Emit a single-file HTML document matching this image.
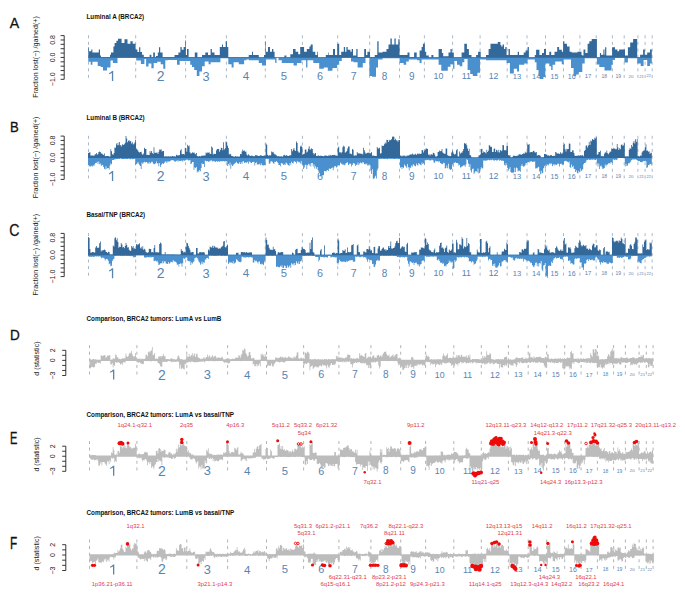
<!DOCTYPE html><html><head><meta charset="utf-8"><style>html,body{margin:0;padding:0;background:#fff;width:685px;height:597px;overflow:hidden}svg{display:block}text{font-family:"Liberation Sans",sans-serif}</style></head><body>
<svg width="685" height="597" viewBox="0 0 685 597">
<text transform="translate(9.8,27.8) scale(0.917,1)" x="0" y="0" font-size="15.43" fill="#111" stroke="#111" stroke-width="0.3">A</text>
<text x="86.5" y="19.0" font-size="6.3" font-weight="bold" fill="#111">Luminal A (BRCA2)</text>
<line x1="64.2" y1="35.6" x2="64.2" y2="79.3" stroke="#222" stroke-width="0.9"/>
<line x1="60.6" y1="35.60" x2="64.2" y2="35.60" stroke="#222" stroke-width="0.9"/>
<line x1="60.6" y1="39.97" x2="64.2" y2="39.97" stroke="#222" stroke-width="0.9"/>
<line x1="60.6" y1="44.34" x2="64.2" y2="44.34" stroke="#222" stroke-width="0.9"/>
<line x1="60.6" y1="48.71" x2="64.2" y2="48.71" stroke="#222" stroke-width="0.9"/>
<line x1="60.6" y1="53.08" x2="64.2" y2="53.08" stroke="#222" stroke-width="0.9"/>
<line x1="60.6" y1="57.45" x2="64.2" y2="57.45" stroke="#222" stroke-width="0.9"/>
<line x1="60.6" y1="61.82" x2="64.2" y2="61.82" stroke="#222" stroke-width="0.9"/>
<line x1="60.6" y1="66.19" x2="64.2" y2="66.19" stroke="#222" stroke-width="0.9"/>
<line x1="60.6" y1="70.56" x2="64.2" y2="70.56" stroke="#222" stroke-width="0.9"/>
<line x1="60.6" y1="74.93" x2="64.2" y2="74.93" stroke="#222" stroke-width="0.9"/>
<line x1="60.6" y1="79.30" x2="64.2" y2="79.30" stroke="#222" stroke-width="0.9"/>
<text transform="translate(55.2,39.97) rotate(-90)" text-anchor="middle" font-size="7" fill="#222">0.8</text>
<text transform="translate(55.2,57.45) rotate(-90)" text-anchor="middle" font-size="7" fill="#222">0.0</text>
<text transform="translate(55.2,79.30) rotate(-90)" text-anchor="middle" font-size="7" fill="#222">−1.0</text>
<text transform="translate(37.8,57.05) rotate(-90)" text-anchor="middle" font-size="7.1" fill="#222">Fraction lost(−) /gained(+)</text>
<line x1="88.5" y1="35.300000000000004" x2="88.5" y2="79.3" stroke="#9fb1c4" stroke-width="0.9" stroke-dasharray="3,3.6"/>
<line x1="135.7" y1="35.300000000000004" x2="135.7" y2="79.3" stroke="#9fb1c4" stroke-width="0.9" stroke-dasharray="3,3.6"/>
<line x1="185.6" y1="35.300000000000004" x2="185.6" y2="79.3" stroke="#9fb1c4" stroke-width="0.9" stroke-dasharray="3,3.6"/>
<line x1="226.4" y1="35.300000000000004" x2="226.4" y2="79.3" stroke="#9fb1c4" stroke-width="0.9" stroke-dasharray="3,3.6"/>
<line x1="265.3" y1="35.300000000000004" x2="265.3" y2="79.3" stroke="#9fb1c4" stroke-width="0.9" stroke-dasharray="3,3.6"/>
<line x1="302.4" y1="35.300000000000004" x2="302.4" y2="79.3" stroke="#9fb1c4" stroke-width="0.9" stroke-dasharray="3,3.6"/>
<line x1="337.7" y1="35.300000000000004" x2="337.7" y2="79.3" stroke="#9fb1c4" stroke-width="0.9" stroke-dasharray="3,3.6"/>
<line x1="369.7" y1="35.300000000000004" x2="369.7" y2="79.3" stroke="#9fb1c4" stroke-width="0.9" stroke-dasharray="3,3.6"/>
<line x1="399.5" y1="35.300000000000004" x2="399.5" y2="79.3" stroke="#9fb1c4" stroke-width="0.9" stroke-dasharray="3,3.6"/>
<line x1="424.4" y1="35.300000000000004" x2="424.4" y2="79.3" stroke="#9fb1c4" stroke-width="0.9" stroke-dasharray="3,3.6"/>
<line x1="452.6" y1="35.300000000000004" x2="452.6" y2="79.3" stroke="#9fb1c4" stroke-width="0.9" stroke-dasharray="3,3.6"/>
<line x1="480.1" y1="35.300000000000004" x2="480.1" y2="79.3" stroke="#9fb1c4" stroke-width="0.9" stroke-dasharray="3,3.6"/>
<line x1="507.2" y1="35.300000000000004" x2="507.2" y2="79.3" stroke="#9fb1c4" stroke-width="0.9" stroke-dasharray="3,3.6"/>
<line x1="527.0" y1="35.300000000000004" x2="527.0" y2="79.3" stroke="#9fb1c4" stroke-width="0.9" stroke-dasharray="3,3.6"/>
<line x1="545.5" y1="35.300000000000004" x2="545.5" y2="79.3" stroke="#9fb1c4" stroke-width="0.9" stroke-dasharray="3,3.6"/>
<line x1="563.5" y1="35.300000000000004" x2="563.5" y2="79.3" stroke="#9fb1c4" stroke-width="0.9" stroke-dasharray="3,3.6"/>
<line x1="579.9" y1="35.300000000000004" x2="579.9" y2="79.3" stroke="#9fb1c4" stroke-width="0.9" stroke-dasharray="3,3.6"/>
<line x1="596.2" y1="35.300000000000004" x2="596.2" y2="79.3" stroke="#9fb1c4" stroke-width="0.9" stroke-dasharray="3,3.6"/>
<line x1="612.4" y1="35.300000000000004" x2="612.4" y2="79.3" stroke="#9fb1c4" stroke-width="0.9" stroke-dasharray="3,3.6"/>
<line x1="624.2" y1="35.300000000000004" x2="624.2" y2="79.3" stroke="#9fb1c4" stroke-width="0.9" stroke-dasharray="3,3.6"/>
<line x1="637.9" y1="35.300000000000004" x2="637.9" y2="79.3" stroke="#9fb1c4" stroke-width="0.9" stroke-dasharray="3,3.6"/>
<line x1="645.1" y1="35.300000000000004" x2="645.1" y2="79.3" stroke="#9fb1c4" stroke-width="0.9" stroke-dasharray="3,3.6"/>
<line x1="652.2" y1="35.300000000000004" x2="652.2" y2="79.3" stroke="#9fb1c4" stroke-width="0.9" stroke-dasharray="3,3.6"/>
<path d="M111.90,71.00L113.20,71.00L113.20,81.00L111.90,81.00L111.90,73.00L109.20,74.30L108.90,73.30Q110.95,72.20 112.05,71.00Z" fill="#5884b1"/>
<text x="160.6" y="81.01" text-anchor="middle" font-size="14" fill="#5884b1">2</text>
<text x="206.0" y="80.58" text-anchor="middle" font-size="12.8" fill="#5884b1">3</text>
<text x="245.9" y="80.12" text-anchor="middle" font-size="11.5" fill="#5884b1">4</text>
<text x="283.9" y="80.05" text-anchor="middle" font-size="11.3" fill="#5884b1">5</text>
<text x="320.0" y="79.87" text-anchor="middle" font-size="10.8" fill="#5884b1">6</text>
<text x="353.7" y="79.76" text-anchor="middle" font-size="10.5" fill="#5884b1">7</text>
<text x="384.6" y="79.58" text-anchor="middle" font-size="10" fill="#5884b1">8</text>
<text x="411.9" y="79.58" text-anchor="middle" font-size="10" fill="#5884b1">9</text>
<text x="438.5" y="79.15" text-anchor="middle" font-size="8.8" fill="#5884b1">10</text>
<text x="466.4" y="79.15" text-anchor="middle" font-size="8.8" fill="#5884b1">11</text>
<text x="493.6" y="79.15" text-anchor="middle" font-size="8.8" fill="#5884b1">12</text>
<text x="517.1" y="78.72" text-anchor="middle" font-size="7.6" fill="#5884b1">13</text>
<text x="536.2" y="78.65" text-anchor="middle" font-size="7.4" fill="#5884b1">14</text>
<text x="554.5" y="78.51" text-anchor="middle" font-size="7" fill="#5884b1">15</text>
<text x="571.7" y="78.51" text-anchor="middle" font-size="7" fill="#5884b1">16</text>
<text x="588.0" y="78.15" text-anchor="middle" font-size="6" fill="#5884b1">17</text>
<text x="604.3" y="77.79" text-anchor="middle" font-size="5" fill="#5884b1">18</text>
<text x="618.3" y="77.79" text-anchor="middle" font-size="5" fill="#5884b1">19</text>
<text x="631.0" y="77.58" text-anchor="middle" font-size="4.4" fill="#5884b1">20</text>
<text x="641.5" y="77.50" text-anchor="middle" font-size="4.2" fill="#5884b1">21</text>
<text x="648.7" y="77.43" text-anchor="middle" font-size="4" fill="#5884b1">22</text>
<text transform="translate(9.92,131.8) scale(0.848,1)" x="0" y="0" font-size="15.43" fill="#111" stroke="#111" stroke-width="0.3">B</text>
<text x="86.5" y="119.6" font-size="6.3" font-weight="bold" fill="#111">Luminal B (BRCA2)</text>
<line x1="64.2" y1="136.1" x2="64.2" y2="179.4" stroke="#222" stroke-width="0.9"/>
<line x1="60.6" y1="136.10" x2="64.2" y2="136.10" stroke="#222" stroke-width="0.9"/>
<line x1="60.6" y1="140.43" x2="64.2" y2="140.43" stroke="#222" stroke-width="0.9"/>
<line x1="60.6" y1="144.76" x2="64.2" y2="144.76" stroke="#222" stroke-width="0.9"/>
<line x1="60.6" y1="149.09" x2="64.2" y2="149.09" stroke="#222" stroke-width="0.9"/>
<line x1="60.6" y1="153.42" x2="64.2" y2="153.42" stroke="#222" stroke-width="0.9"/>
<line x1="60.6" y1="157.75" x2="64.2" y2="157.75" stroke="#222" stroke-width="0.9"/>
<line x1="60.6" y1="162.08" x2="64.2" y2="162.08" stroke="#222" stroke-width="0.9"/>
<line x1="60.6" y1="166.41" x2="64.2" y2="166.41" stroke="#222" stroke-width="0.9"/>
<line x1="60.6" y1="170.74" x2="64.2" y2="170.74" stroke="#222" stroke-width="0.9"/>
<line x1="60.6" y1="175.07" x2="64.2" y2="175.07" stroke="#222" stroke-width="0.9"/>
<line x1="60.6" y1="179.40" x2="64.2" y2="179.40" stroke="#222" stroke-width="0.9"/>
<text transform="translate(55.2,140.43) rotate(-90)" text-anchor="middle" font-size="7" fill="#222">0.8</text>
<text transform="translate(55.2,157.75) rotate(-90)" text-anchor="middle" font-size="7" fill="#222">0.0</text>
<text transform="translate(55.2,179.40) rotate(-90)" text-anchor="middle" font-size="7" fill="#222">−1.0</text>
<text transform="translate(37.8,157.35) rotate(-90)" text-anchor="middle" font-size="7.1" fill="#222">Fraction lost(−) /gained(+)</text>
<line x1="88.5" y1="135.79999999999998" x2="88.5" y2="179.4" stroke="#9fb1c4" stroke-width="0.9" stroke-dasharray="3,3.6"/>
<line x1="135.7" y1="135.79999999999998" x2="135.7" y2="179.4" stroke="#9fb1c4" stroke-width="0.9" stroke-dasharray="3,3.6"/>
<line x1="185.6" y1="135.79999999999998" x2="185.6" y2="179.4" stroke="#9fb1c4" stroke-width="0.9" stroke-dasharray="3,3.6"/>
<line x1="226.4" y1="135.79999999999998" x2="226.4" y2="179.4" stroke="#9fb1c4" stroke-width="0.9" stroke-dasharray="3,3.6"/>
<line x1="265.3" y1="135.79999999999998" x2="265.3" y2="179.4" stroke="#9fb1c4" stroke-width="0.9" stroke-dasharray="3,3.6"/>
<line x1="302.4" y1="135.79999999999998" x2="302.4" y2="179.4" stroke="#9fb1c4" stroke-width="0.9" stroke-dasharray="3,3.6"/>
<line x1="337.7" y1="135.79999999999998" x2="337.7" y2="179.4" stroke="#9fb1c4" stroke-width="0.9" stroke-dasharray="3,3.6"/>
<line x1="369.7" y1="135.79999999999998" x2="369.7" y2="179.4" stroke="#9fb1c4" stroke-width="0.9" stroke-dasharray="3,3.6"/>
<line x1="399.5" y1="135.79999999999998" x2="399.5" y2="179.4" stroke="#9fb1c4" stroke-width="0.9" stroke-dasharray="3,3.6"/>
<line x1="424.4" y1="135.79999999999998" x2="424.4" y2="179.4" stroke="#9fb1c4" stroke-width="0.9" stroke-dasharray="3,3.6"/>
<line x1="452.6" y1="135.79999999999998" x2="452.6" y2="179.4" stroke="#9fb1c4" stroke-width="0.9" stroke-dasharray="3,3.6"/>
<line x1="480.1" y1="135.79999999999998" x2="480.1" y2="179.4" stroke="#9fb1c4" stroke-width="0.9" stroke-dasharray="3,3.6"/>
<line x1="507.2" y1="135.79999999999998" x2="507.2" y2="179.4" stroke="#9fb1c4" stroke-width="0.9" stroke-dasharray="3,3.6"/>
<line x1="527.0" y1="135.79999999999998" x2="527.0" y2="179.4" stroke="#9fb1c4" stroke-width="0.9" stroke-dasharray="3,3.6"/>
<line x1="545.5" y1="135.79999999999998" x2="545.5" y2="179.4" stroke="#9fb1c4" stroke-width="0.9" stroke-dasharray="3,3.6"/>
<line x1="563.5" y1="135.79999999999998" x2="563.5" y2="179.4" stroke="#9fb1c4" stroke-width="0.9" stroke-dasharray="3,3.6"/>
<line x1="579.9" y1="135.79999999999998" x2="579.9" y2="179.4" stroke="#9fb1c4" stroke-width="0.9" stroke-dasharray="3,3.6"/>
<line x1="596.2" y1="135.79999999999998" x2="596.2" y2="179.4" stroke="#9fb1c4" stroke-width="0.9" stroke-dasharray="3,3.6"/>
<line x1="612.4" y1="135.79999999999998" x2="612.4" y2="179.4" stroke="#9fb1c4" stroke-width="0.9" stroke-dasharray="3,3.6"/>
<line x1="624.2" y1="135.79999999999998" x2="624.2" y2="179.4" stroke="#9fb1c4" stroke-width="0.9" stroke-dasharray="3,3.6"/>
<line x1="637.9" y1="135.79999999999998" x2="637.9" y2="179.4" stroke="#9fb1c4" stroke-width="0.9" stroke-dasharray="3,3.6"/>
<line x1="645.1" y1="135.79999999999998" x2="645.1" y2="179.4" stroke="#9fb1c4" stroke-width="0.9" stroke-dasharray="3,3.6"/>
<line x1="652.2" y1="135.79999999999998" x2="652.2" y2="179.4" stroke="#9fb1c4" stroke-width="0.9" stroke-dasharray="3,3.6"/>
<path d="M111.90,171.10L113.20,171.10L113.20,181.10L111.90,181.10L111.90,173.10L109.20,174.40L108.90,173.40Q110.95,172.30 112.05,171.10Z" fill="#5884b1"/>
<text x="160.6" y="181.11" text-anchor="middle" font-size="14" fill="#5884b1">2</text>
<text x="206.0" y="180.68" text-anchor="middle" font-size="12.8" fill="#5884b1">3</text>
<text x="245.9" y="180.22" text-anchor="middle" font-size="11.5" fill="#5884b1">4</text>
<text x="283.9" y="180.15" text-anchor="middle" font-size="11.3" fill="#5884b1">5</text>
<text x="320.0" y="179.97" text-anchor="middle" font-size="10.8" fill="#5884b1">6</text>
<text x="353.7" y="179.86" text-anchor="middle" font-size="10.5" fill="#5884b1">7</text>
<text x="384.6" y="179.68" text-anchor="middle" font-size="10" fill="#5884b1">8</text>
<text x="411.9" y="179.68" text-anchor="middle" font-size="10" fill="#5884b1">9</text>
<text x="438.5" y="179.25" text-anchor="middle" font-size="8.8" fill="#5884b1">10</text>
<text x="466.4" y="179.25" text-anchor="middle" font-size="8.8" fill="#5884b1">11</text>
<text x="493.6" y="179.25" text-anchor="middle" font-size="8.8" fill="#5884b1">12</text>
<text x="517.1" y="178.82" text-anchor="middle" font-size="7.6" fill="#5884b1">13</text>
<text x="536.2" y="178.75" text-anchor="middle" font-size="7.4" fill="#5884b1">14</text>
<text x="554.5" y="178.61" text-anchor="middle" font-size="7" fill="#5884b1">15</text>
<text x="571.7" y="178.61" text-anchor="middle" font-size="7" fill="#5884b1">16</text>
<text x="588.0" y="178.25" text-anchor="middle" font-size="6" fill="#5884b1">17</text>
<text x="604.3" y="177.89" text-anchor="middle" font-size="5" fill="#5884b1">18</text>
<text x="618.3" y="177.89" text-anchor="middle" font-size="5" fill="#5884b1">19</text>
<text x="631.0" y="177.68" text-anchor="middle" font-size="4.4" fill="#5884b1">20</text>
<text x="641.5" y="177.60" text-anchor="middle" font-size="4.2" fill="#5884b1">21</text>
<text x="648.7" y="177.53" text-anchor="middle" font-size="4" fill="#5884b1">22</text>
<text transform="translate(9.3,236.2) scale(0.88,1)" x="0" y="0" font-size="16.0" fill="#111" stroke="#111" stroke-width="0.3">C</text>
<text x="86.5" y="216.9" font-size="6.3" font-weight="bold" fill="#111">Basal/TNP (BRCA2)</text>
<line x1="64.2" y1="233.4" x2="64.2" y2="276.6" stroke="#222" stroke-width="0.9"/>
<line x1="60.6" y1="233.40" x2="64.2" y2="233.40" stroke="#222" stroke-width="0.9"/>
<line x1="60.6" y1="237.72" x2="64.2" y2="237.72" stroke="#222" stroke-width="0.9"/>
<line x1="60.6" y1="242.04" x2="64.2" y2="242.04" stroke="#222" stroke-width="0.9"/>
<line x1="60.6" y1="246.36" x2="64.2" y2="246.36" stroke="#222" stroke-width="0.9"/>
<line x1="60.6" y1="250.68" x2="64.2" y2="250.68" stroke="#222" stroke-width="0.9"/>
<line x1="60.6" y1="255.00" x2="64.2" y2="255.00" stroke="#222" stroke-width="0.9"/>
<line x1="60.6" y1="259.32" x2="64.2" y2="259.32" stroke="#222" stroke-width="0.9"/>
<line x1="60.6" y1="263.64" x2="64.2" y2="263.64" stroke="#222" stroke-width="0.9"/>
<line x1="60.6" y1="267.96" x2="64.2" y2="267.96" stroke="#222" stroke-width="0.9"/>
<line x1="60.6" y1="272.28" x2="64.2" y2="272.28" stroke="#222" stroke-width="0.9"/>
<line x1="60.6" y1="276.60" x2="64.2" y2="276.60" stroke="#222" stroke-width="0.9"/>
<text transform="translate(55.2,237.72) rotate(-90)" text-anchor="middle" font-size="7" fill="#222">0.8</text>
<text transform="translate(55.2,255.00) rotate(-90)" text-anchor="middle" font-size="7" fill="#222">0.0</text>
<text transform="translate(55.2,276.60) rotate(-90)" text-anchor="middle" font-size="7" fill="#222">−1.0</text>
<text transform="translate(37.8,254.60) rotate(-90)" text-anchor="middle" font-size="7.1" fill="#222">Fraction lost(−) /gained(+)</text>
<line x1="88.5" y1="233.1" x2="88.5" y2="276.6" stroke="#9fb1c4" stroke-width="0.9" stroke-dasharray="3,3.6"/>
<line x1="135.7" y1="233.1" x2="135.7" y2="276.6" stroke="#9fb1c4" stroke-width="0.9" stroke-dasharray="3,3.6"/>
<line x1="185.6" y1="233.1" x2="185.6" y2="276.6" stroke="#9fb1c4" stroke-width="0.9" stroke-dasharray="3,3.6"/>
<line x1="226.4" y1="233.1" x2="226.4" y2="276.6" stroke="#9fb1c4" stroke-width="0.9" stroke-dasharray="3,3.6"/>
<line x1="265.3" y1="233.1" x2="265.3" y2="276.6" stroke="#9fb1c4" stroke-width="0.9" stroke-dasharray="3,3.6"/>
<line x1="302.4" y1="233.1" x2="302.4" y2="276.6" stroke="#9fb1c4" stroke-width="0.9" stroke-dasharray="3,3.6"/>
<line x1="337.7" y1="233.1" x2="337.7" y2="276.6" stroke="#9fb1c4" stroke-width="0.9" stroke-dasharray="3,3.6"/>
<line x1="369.7" y1="233.1" x2="369.7" y2="276.6" stroke="#9fb1c4" stroke-width="0.9" stroke-dasharray="3,3.6"/>
<line x1="399.5" y1="233.1" x2="399.5" y2="276.6" stroke="#9fb1c4" stroke-width="0.9" stroke-dasharray="3,3.6"/>
<line x1="424.4" y1="233.1" x2="424.4" y2="276.6" stroke="#9fb1c4" stroke-width="0.9" stroke-dasharray="3,3.6"/>
<line x1="452.6" y1="233.1" x2="452.6" y2="276.6" stroke="#9fb1c4" stroke-width="0.9" stroke-dasharray="3,3.6"/>
<line x1="480.1" y1="233.1" x2="480.1" y2="276.6" stroke="#9fb1c4" stroke-width="0.9" stroke-dasharray="3,3.6"/>
<line x1="507.2" y1="233.1" x2="507.2" y2="276.6" stroke="#9fb1c4" stroke-width="0.9" stroke-dasharray="3,3.6"/>
<line x1="527.0" y1="233.1" x2="527.0" y2="276.6" stroke="#9fb1c4" stroke-width="0.9" stroke-dasharray="3,3.6"/>
<line x1="545.5" y1="233.1" x2="545.5" y2="276.6" stroke="#9fb1c4" stroke-width="0.9" stroke-dasharray="3,3.6"/>
<line x1="563.5" y1="233.1" x2="563.5" y2="276.6" stroke="#9fb1c4" stroke-width="0.9" stroke-dasharray="3,3.6"/>
<line x1="579.9" y1="233.1" x2="579.9" y2="276.6" stroke="#9fb1c4" stroke-width="0.9" stroke-dasharray="3,3.6"/>
<line x1="596.2" y1="233.1" x2="596.2" y2="276.6" stroke="#9fb1c4" stroke-width="0.9" stroke-dasharray="3,3.6"/>
<line x1="612.4" y1="233.1" x2="612.4" y2="276.6" stroke="#9fb1c4" stroke-width="0.9" stroke-dasharray="3,3.6"/>
<line x1="624.2" y1="233.1" x2="624.2" y2="276.6" stroke="#9fb1c4" stroke-width="0.9" stroke-dasharray="3,3.6"/>
<line x1="637.9" y1="233.1" x2="637.9" y2="276.6" stroke="#9fb1c4" stroke-width="0.9" stroke-dasharray="3,3.6"/>
<line x1="645.1" y1="233.1" x2="645.1" y2="276.6" stroke="#9fb1c4" stroke-width="0.9" stroke-dasharray="3,3.6"/>
<line x1="652.2" y1="233.1" x2="652.2" y2="276.6" stroke="#9fb1c4" stroke-width="0.9" stroke-dasharray="3,3.6"/>
<path d="M111.90,268.30L113.20,268.30L113.20,278.30L111.90,278.30L111.90,270.30L109.20,271.60L108.90,270.60Q110.95,269.50 112.05,268.30Z" fill="#5884b1"/>
<text x="160.6" y="278.31" text-anchor="middle" font-size="14" fill="#5884b1">2</text>
<text x="206.0" y="277.88" text-anchor="middle" font-size="12.8" fill="#5884b1">3</text>
<text x="245.9" y="277.42" text-anchor="middle" font-size="11.5" fill="#5884b1">4</text>
<text x="283.9" y="277.35" text-anchor="middle" font-size="11.3" fill="#5884b1">5</text>
<text x="320.0" y="277.17" text-anchor="middle" font-size="10.8" fill="#5884b1">6</text>
<text x="353.7" y="277.06" text-anchor="middle" font-size="10.5" fill="#5884b1">7</text>
<text x="384.6" y="276.88" text-anchor="middle" font-size="10" fill="#5884b1">8</text>
<text x="411.9" y="276.88" text-anchor="middle" font-size="10" fill="#5884b1">9</text>
<text x="438.5" y="276.45" text-anchor="middle" font-size="8.8" fill="#5884b1">10</text>
<text x="466.4" y="276.45" text-anchor="middle" font-size="8.8" fill="#5884b1">11</text>
<text x="493.6" y="276.45" text-anchor="middle" font-size="8.8" fill="#5884b1">12</text>
<text x="517.1" y="276.02" text-anchor="middle" font-size="7.6" fill="#5884b1">13</text>
<text x="536.2" y="275.95" text-anchor="middle" font-size="7.4" fill="#5884b1">14</text>
<text x="554.5" y="275.81" text-anchor="middle" font-size="7" fill="#5884b1">15</text>
<text x="571.7" y="275.81" text-anchor="middle" font-size="7" fill="#5884b1">16</text>
<text x="588.0" y="275.45" text-anchor="middle" font-size="6" fill="#5884b1">17</text>
<text x="604.3" y="275.09" text-anchor="middle" font-size="5" fill="#5884b1">18</text>
<text x="618.3" y="275.09" text-anchor="middle" font-size="5" fill="#5884b1">19</text>
<text x="631.0" y="274.88" text-anchor="middle" font-size="4.4" fill="#5884b1">20</text>
<text x="641.5" y="274.80" text-anchor="middle" font-size="4.2" fill="#5884b1">21</text>
<text x="648.7" y="274.73" text-anchor="middle" font-size="4" fill="#5884b1">22</text>
<text transform="translate(9.89,339.8) scale(0.892,1)" x="0" y="0" font-size="15.14" fill="#111" stroke="#111" stroke-width="0.3">D</text>
<text x="86.5" y="320.5" font-size="6.3" font-weight="bold" fill="#111">Comparison, BRCA2 tumors: LumA vs LumB</text>
<line x1="65.8" y1="350.3" x2="65.8" y2="375.5" stroke="#222" stroke-width="0.9"/>
<line x1="62.199999999999996" y1="350.30" x2="65.8" y2="350.30" stroke="#222" stroke-width="0.9"/>
<line x1="62.199999999999996" y1="355.34" x2="65.8" y2="355.34" stroke="#222" stroke-width="0.9"/>
<line x1="62.199999999999996" y1="360.38" x2="65.8" y2="360.38" stroke="#222" stroke-width="0.9"/>
<line x1="62.199999999999996" y1="365.42" x2="65.8" y2="365.42" stroke="#222" stroke-width="0.9"/>
<line x1="62.199999999999996" y1="370.46" x2="65.8" y2="370.46" stroke="#222" stroke-width="0.9"/>
<line x1="62.199999999999996" y1="375.50" x2="65.8" y2="375.50" stroke="#222" stroke-width="0.9"/>
<text transform="translate(55.2,350.30) rotate(-90)" text-anchor="middle" font-size="7" fill="#222">2</text>
<text transform="translate(55.2,360.38) rotate(-90)" text-anchor="middle" font-size="7" fill="#222">0</text>
<text transform="translate(55.2,375.50) rotate(-90)" text-anchor="middle" font-size="7" fill="#222">−3</text>
<text transform="translate(38.6,358.60) rotate(-90)" text-anchor="middle" font-size="7.1" fill="#222">d (statistic)</text>
<line x1="89.5" y1="345.1" x2="89.5" y2="375.5" stroke="#aaaaaa" stroke-width="0.9" stroke-dasharray="3,3.6"/>
<line x1="136.89999999999998" y1="345.1" x2="136.89999999999998" y2="375.5" stroke="#aaaaaa" stroke-width="0.9" stroke-dasharray="3,3.6"/>
<line x1="186.79999999999998" y1="345.1" x2="186.79999999999998" y2="375.5" stroke="#aaaaaa" stroke-width="0.9" stroke-dasharray="3,3.6"/>
<line x1="227.6" y1="345.1" x2="227.6" y2="375.5" stroke="#aaaaaa" stroke-width="0.9" stroke-dasharray="3,3.6"/>
<line x1="266.5" y1="345.1" x2="266.5" y2="375.5" stroke="#aaaaaa" stroke-width="0.9" stroke-dasharray="3,3.6"/>
<line x1="303.59999999999997" y1="345.1" x2="303.59999999999997" y2="375.5" stroke="#aaaaaa" stroke-width="0.9" stroke-dasharray="3,3.6"/>
<line x1="338.9" y1="345.1" x2="338.9" y2="375.5" stroke="#aaaaaa" stroke-width="0.9" stroke-dasharray="3,3.6"/>
<line x1="370.9" y1="345.1" x2="370.9" y2="375.5" stroke="#aaaaaa" stroke-width="0.9" stroke-dasharray="3,3.6"/>
<line x1="400.7" y1="345.1" x2="400.7" y2="375.5" stroke="#aaaaaa" stroke-width="0.9" stroke-dasharray="3,3.6"/>
<line x1="425.59999999999997" y1="345.1" x2="425.59999999999997" y2="375.5" stroke="#aaaaaa" stroke-width="0.9" stroke-dasharray="3,3.6"/>
<line x1="453.8" y1="345.1" x2="453.8" y2="375.5" stroke="#aaaaaa" stroke-width="0.9" stroke-dasharray="3,3.6"/>
<line x1="481.3" y1="345.1" x2="481.3" y2="375.5" stroke="#aaaaaa" stroke-width="0.9" stroke-dasharray="3,3.6"/>
<line x1="508.4" y1="345.1" x2="508.4" y2="375.5" stroke="#aaaaaa" stroke-width="0.9" stroke-dasharray="3,3.6"/>
<line x1="528.2" y1="345.1" x2="528.2" y2="375.5" stroke="#aaaaaa" stroke-width="0.9" stroke-dasharray="3,3.6"/>
<line x1="546.7" y1="345.1" x2="546.7" y2="375.5" stroke="#aaaaaa" stroke-width="0.9" stroke-dasharray="3,3.6"/>
<line x1="564.7" y1="345.1" x2="564.7" y2="375.5" stroke="#aaaaaa" stroke-width="0.9" stroke-dasharray="3,3.6"/>
<line x1="581.1" y1="345.1" x2="581.1" y2="375.5" stroke="#aaaaaa" stroke-width="0.9" stroke-dasharray="3,3.6"/>
<line x1="597.4000000000001" y1="345.1" x2="597.4000000000001" y2="375.5" stroke="#aaaaaa" stroke-width="0.9" stroke-dasharray="3,3.6"/>
<line x1="613.6" y1="345.1" x2="613.6" y2="375.5" stroke="#aaaaaa" stroke-width="0.9" stroke-dasharray="3,3.6"/>
<line x1="625.4000000000001" y1="345.1" x2="625.4000000000001" y2="375.5" stroke="#aaaaaa" stroke-width="0.9" stroke-dasharray="3,3.6"/>
<line x1="639.1" y1="345.1" x2="639.1" y2="375.5" stroke="#aaaaaa" stroke-width="0.9" stroke-dasharray="3,3.6"/>
<line x1="646.3000000000001" y1="345.1" x2="646.3000000000001" y2="375.5" stroke="#aaaaaa" stroke-width="0.9" stroke-dasharray="3,3.6"/>
<line x1="653.1" y1="345.1" x2="653.1" y2="375.5" stroke="#aaaaaa" stroke-width="0.9" stroke-dasharray="3,3.6"/>
<path d="M113.00,369.50L114.30,369.50L114.30,379.50L113.00,379.50L113.00,371.50L110.30,372.80L110.00,371.80Q112.05,370.70 113.15,369.50Z" fill="#5884b1"/>
<text x="161.8" y="379.51" text-anchor="middle" font-size="14" fill="#5884b1">2</text>
<text x="207.2" y="379.08" text-anchor="middle" font-size="12.8" fill="#5884b1">3</text>
<text x="247.1" y="378.62" text-anchor="middle" font-size="11.5" fill="#5884b1">4</text>
<text x="285.0" y="378.55" text-anchor="middle" font-size="11.3" fill="#5884b1">5</text>
<text x="321.2" y="378.37" text-anchor="middle" font-size="10.8" fill="#5884b1">6</text>
<text x="354.9" y="378.26" text-anchor="middle" font-size="10.5" fill="#5884b1">7</text>
<text x="385.8" y="378.08" text-anchor="middle" font-size="10" fill="#5884b1">8</text>
<text x="413.1" y="378.08" text-anchor="middle" font-size="10" fill="#5884b1">9</text>
<text x="439.7" y="377.65" text-anchor="middle" font-size="8.8" fill="#5884b1">10</text>
<text x="467.6" y="377.65" text-anchor="middle" font-size="8.8" fill="#5884b1">11</text>
<text x="494.9" y="377.65" text-anchor="middle" font-size="8.8" fill="#5884b1">12</text>
<text x="518.3" y="377.22" text-anchor="middle" font-size="7.6" fill="#5884b1">13</text>
<text x="537.5" y="377.15" text-anchor="middle" font-size="7.4" fill="#5884b1">14</text>
<text x="555.7" y="377.01" text-anchor="middle" font-size="7" fill="#5884b1">15</text>
<text x="572.9" y="377.01" text-anchor="middle" font-size="7" fill="#5884b1">16</text>
<text x="589.2" y="376.65" text-anchor="middle" font-size="6" fill="#5884b1">17</text>
<text x="605.5" y="376.29" text-anchor="middle" font-size="5" fill="#5884b1">18</text>
<text x="619.5" y="376.29" text-anchor="middle" font-size="5" fill="#5884b1">19</text>
<text x="632.2" y="376.08" text-anchor="middle" font-size="4.4" fill="#5884b1">20</text>
<text x="642.7" y="376.00" text-anchor="middle" font-size="4.2" fill="#5884b1">21</text>
<text x="649.7" y="375.93" text-anchor="middle" font-size="4" fill="#5884b1">22</text>
<text transform="translate(10.07,444.2) scale(0.706,1)" x="0" y="0" font-size="15.71" fill="#111" stroke="#111" stroke-width="0.3">E</text>
<text x="86.5" y="416.5" font-size="6.3" font-weight="bold" fill="#111">Comparison, BRCA2 tumors: LumA vs basal/TNP</text>
<line x1="65.8" y1="446.2" x2="65.8" y2="471.3" stroke="#222" stroke-width="0.9"/>
<line x1="62.199999999999996" y1="446.20" x2="65.8" y2="446.20" stroke="#222" stroke-width="0.9"/>
<line x1="62.199999999999996" y1="451.22" x2="65.8" y2="451.22" stroke="#222" stroke-width="0.9"/>
<line x1="62.199999999999996" y1="456.24" x2="65.8" y2="456.24" stroke="#222" stroke-width="0.9"/>
<line x1="62.199999999999996" y1="461.26" x2="65.8" y2="461.26" stroke="#222" stroke-width="0.9"/>
<line x1="62.199999999999996" y1="466.28" x2="65.8" y2="466.28" stroke="#222" stroke-width="0.9"/>
<line x1="62.199999999999996" y1="471.30" x2="65.8" y2="471.30" stroke="#222" stroke-width="0.9"/>
<text transform="translate(55.2,446.20) rotate(-90)" text-anchor="middle" font-size="7" fill="#222">2</text>
<text transform="translate(55.2,456.24) rotate(-90)" text-anchor="middle" font-size="7" fill="#222">0</text>
<text transform="translate(55.2,471.30) rotate(-90)" text-anchor="middle" font-size="7" fill="#222">−3</text>
<text transform="translate(38.6,454.45) rotate(-90)" text-anchor="middle" font-size="7.1" fill="#222">d (statistic)</text>
<line x1="89.5" y1="441.0" x2="89.5" y2="471.3" stroke="#aaaaaa" stroke-width="0.9" stroke-dasharray="3,3.6"/>
<line x1="136.89999999999998" y1="441.0" x2="136.89999999999998" y2="471.3" stroke="#aaaaaa" stroke-width="0.9" stroke-dasharray="3,3.6"/>
<line x1="186.79999999999998" y1="441.0" x2="186.79999999999998" y2="471.3" stroke="#aaaaaa" stroke-width="0.9" stroke-dasharray="3,3.6"/>
<line x1="227.6" y1="441.0" x2="227.6" y2="471.3" stroke="#aaaaaa" stroke-width="0.9" stroke-dasharray="3,3.6"/>
<line x1="266.5" y1="441.0" x2="266.5" y2="471.3" stroke="#aaaaaa" stroke-width="0.9" stroke-dasharray="3,3.6"/>
<line x1="303.59999999999997" y1="441.0" x2="303.59999999999997" y2="471.3" stroke="#aaaaaa" stroke-width="0.9" stroke-dasharray="3,3.6"/>
<line x1="338.9" y1="441.0" x2="338.9" y2="471.3" stroke="#aaaaaa" stroke-width="0.9" stroke-dasharray="3,3.6"/>
<line x1="370.9" y1="441.0" x2="370.9" y2="471.3" stroke="#aaaaaa" stroke-width="0.9" stroke-dasharray="3,3.6"/>
<line x1="400.7" y1="441.0" x2="400.7" y2="471.3" stroke="#aaaaaa" stroke-width="0.9" stroke-dasharray="3,3.6"/>
<line x1="425.59999999999997" y1="441.0" x2="425.59999999999997" y2="471.3" stroke="#aaaaaa" stroke-width="0.9" stroke-dasharray="3,3.6"/>
<line x1="453.8" y1="441.0" x2="453.8" y2="471.3" stroke="#aaaaaa" stroke-width="0.9" stroke-dasharray="3,3.6"/>
<line x1="481.3" y1="441.0" x2="481.3" y2="471.3" stroke="#aaaaaa" stroke-width="0.9" stroke-dasharray="3,3.6"/>
<line x1="508.4" y1="441.0" x2="508.4" y2="471.3" stroke="#aaaaaa" stroke-width="0.9" stroke-dasharray="3,3.6"/>
<line x1="528.2" y1="441.0" x2="528.2" y2="471.3" stroke="#aaaaaa" stroke-width="0.9" stroke-dasharray="3,3.6"/>
<line x1="546.7" y1="441.0" x2="546.7" y2="471.3" stroke="#aaaaaa" stroke-width="0.9" stroke-dasharray="3,3.6"/>
<line x1="564.7" y1="441.0" x2="564.7" y2="471.3" stroke="#aaaaaa" stroke-width="0.9" stroke-dasharray="3,3.6"/>
<line x1="581.1" y1="441.0" x2="581.1" y2="471.3" stroke="#aaaaaa" stroke-width="0.9" stroke-dasharray="3,3.6"/>
<line x1="597.4000000000001" y1="441.0" x2="597.4000000000001" y2="471.3" stroke="#aaaaaa" stroke-width="0.9" stroke-dasharray="3,3.6"/>
<line x1="613.6" y1="441.0" x2="613.6" y2="471.3" stroke="#aaaaaa" stroke-width="0.9" stroke-dasharray="3,3.6"/>
<line x1="625.4000000000001" y1="441.0" x2="625.4000000000001" y2="471.3" stroke="#aaaaaa" stroke-width="0.9" stroke-dasharray="3,3.6"/>
<line x1="639.1" y1="441.0" x2="639.1" y2="471.3" stroke="#aaaaaa" stroke-width="0.9" stroke-dasharray="3,3.6"/>
<line x1="646.3000000000001" y1="441.0" x2="646.3000000000001" y2="471.3" stroke="#aaaaaa" stroke-width="0.9" stroke-dasharray="3,3.6"/>
<line x1="653.1" y1="441.0" x2="653.1" y2="471.3" stroke="#aaaaaa" stroke-width="0.9" stroke-dasharray="3,3.6"/>
<path d="M113.00,465.80L114.30,465.80L114.30,475.80L113.00,475.80L113.00,467.80L110.30,469.10L110.00,468.10Q112.05,467.00 113.15,465.80Z" fill="#5884b1"/>
<text x="161.8" y="475.81" text-anchor="middle" font-size="14" fill="#5884b1">2</text>
<text x="207.2" y="475.38" text-anchor="middle" font-size="12.8" fill="#5884b1">3</text>
<text x="247.1" y="474.92" text-anchor="middle" font-size="11.5" fill="#5884b1">4</text>
<text x="285.0" y="474.85" text-anchor="middle" font-size="11.3" fill="#5884b1">5</text>
<text x="321.2" y="474.67" text-anchor="middle" font-size="10.8" fill="#5884b1">6</text>
<text x="354.9" y="474.56" text-anchor="middle" font-size="10.5" fill="#5884b1">7</text>
<text x="385.8" y="474.38" text-anchor="middle" font-size="10" fill="#5884b1">8</text>
<text x="413.1" y="474.38" text-anchor="middle" font-size="10" fill="#5884b1">9</text>
<text x="439.7" y="473.95" text-anchor="middle" font-size="8.8" fill="#5884b1">10</text>
<text x="467.6" y="473.95" text-anchor="middle" font-size="8.8" fill="#5884b1">11</text>
<text x="494.9" y="473.95" text-anchor="middle" font-size="8.8" fill="#5884b1">12</text>
<text x="518.3" y="473.52" text-anchor="middle" font-size="7.6" fill="#5884b1">13</text>
<text x="537.5" y="473.45" text-anchor="middle" font-size="7.4" fill="#5884b1">14</text>
<text x="555.7" y="473.31" text-anchor="middle" font-size="7" fill="#5884b1">15</text>
<text x="572.9" y="473.31" text-anchor="middle" font-size="7" fill="#5884b1">16</text>
<text x="589.2" y="472.95" text-anchor="middle" font-size="6" fill="#5884b1">17</text>
<text x="605.5" y="472.59" text-anchor="middle" font-size="5" fill="#5884b1">18</text>
<text x="619.5" y="472.59" text-anchor="middle" font-size="5" fill="#5884b1">19</text>
<text x="632.2" y="472.38" text-anchor="middle" font-size="4.4" fill="#5884b1">20</text>
<text x="642.7" y="472.30" text-anchor="middle" font-size="4.2" fill="#5884b1">21</text>
<text x="649.7" y="472.23" text-anchor="middle" font-size="4" fill="#5884b1">22</text>
<text transform="translate(10.02,548.7) scale(0.758,1)" x="0" y="0" font-size="15.57" fill="#111" stroke="#111" stroke-width="0.3">F</text>
<text x="86.5" y="514.9" font-size="6.3" font-weight="bold" fill="#111">Comparison, BRCA2 tumors: LumB vs basal/TNP</text>
<line x1="65.8" y1="544.7" x2="65.8" y2="570.5" stroke="#222" stroke-width="0.9"/>
<line x1="62.199999999999996" y1="544.70" x2="65.8" y2="544.70" stroke="#222" stroke-width="0.9"/>
<line x1="62.199999999999996" y1="549.86" x2="65.8" y2="549.86" stroke="#222" stroke-width="0.9"/>
<line x1="62.199999999999996" y1="555.02" x2="65.8" y2="555.02" stroke="#222" stroke-width="0.9"/>
<line x1="62.199999999999996" y1="560.18" x2="65.8" y2="560.18" stroke="#222" stroke-width="0.9"/>
<line x1="62.199999999999996" y1="565.34" x2="65.8" y2="565.34" stroke="#222" stroke-width="0.9"/>
<line x1="62.199999999999996" y1="570.50" x2="65.8" y2="570.50" stroke="#222" stroke-width="0.9"/>
<text transform="translate(55.2,544.70) rotate(-90)" text-anchor="middle" font-size="7" fill="#222">2</text>
<text transform="translate(55.2,555.02) rotate(-90)" text-anchor="middle" font-size="7" fill="#222">0</text>
<text transform="translate(55.2,570.50) rotate(-90)" text-anchor="middle" font-size="7" fill="#222">−3</text>
<text transform="translate(38.6,553.30) rotate(-90)" text-anchor="middle" font-size="7.1" fill="#222">d (statistic)</text>
<line x1="89.5" y1="539.5" x2="89.5" y2="570.5" stroke="#aaaaaa" stroke-width="0.9" stroke-dasharray="3,3.6"/>
<line x1="136.89999999999998" y1="539.5" x2="136.89999999999998" y2="570.5" stroke="#aaaaaa" stroke-width="0.9" stroke-dasharray="3,3.6"/>
<line x1="186.79999999999998" y1="539.5" x2="186.79999999999998" y2="570.5" stroke="#aaaaaa" stroke-width="0.9" stroke-dasharray="3,3.6"/>
<line x1="227.6" y1="539.5" x2="227.6" y2="570.5" stroke="#aaaaaa" stroke-width="0.9" stroke-dasharray="3,3.6"/>
<line x1="266.5" y1="539.5" x2="266.5" y2="570.5" stroke="#aaaaaa" stroke-width="0.9" stroke-dasharray="3,3.6"/>
<line x1="303.59999999999997" y1="539.5" x2="303.59999999999997" y2="570.5" stroke="#aaaaaa" stroke-width="0.9" stroke-dasharray="3,3.6"/>
<line x1="338.9" y1="539.5" x2="338.9" y2="570.5" stroke="#aaaaaa" stroke-width="0.9" stroke-dasharray="3,3.6"/>
<line x1="370.9" y1="539.5" x2="370.9" y2="570.5" stroke="#aaaaaa" stroke-width="0.9" stroke-dasharray="3,3.6"/>
<line x1="400.7" y1="539.5" x2="400.7" y2="570.5" stroke="#aaaaaa" stroke-width="0.9" stroke-dasharray="3,3.6"/>
<line x1="425.59999999999997" y1="539.5" x2="425.59999999999997" y2="570.5" stroke="#aaaaaa" stroke-width="0.9" stroke-dasharray="3,3.6"/>
<line x1="453.8" y1="539.5" x2="453.8" y2="570.5" stroke="#aaaaaa" stroke-width="0.9" stroke-dasharray="3,3.6"/>
<line x1="481.3" y1="539.5" x2="481.3" y2="570.5" stroke="#aaaaaa" stroke-width="0.9" stroke-dasharray="3,3.6"/>
<line x1="508.4" y1="539.5" x2="508.4" y2="570.5" stroke="#aaaaaa" stroke-width="0.9" stroke-dasharray="3,3.6"/>
<line x1="528.2" y1="539.5" x2="528.2" y2="570.5" stroke="#aaaaaa" stroke-width="0.9" stroke-dasharray="3,3.6"/>
<line x1="546.7" y1="539.5" x2="546.7" y2="570.5" stroke="#aaaaaa" stroke-width="0.9" stroke-dasharray="3,3.6"/>
<line x1="564.7" y1="539.5" x2="564.7" y2="570.5" stroke="#aaaaaa" stroke-width="0.9" stroke-dasharray="3,3.6"/>
<line x1="581.1" y1="539.5" x2="581.1" y2="570.5" stroke="#aaaaaa" stroke-width="0.9" stroke-dasharray="3,3.6"/>
<line x1="597.4000000000001" y1="539.5" x2="597.4000000000001" y2="570.5" stroke="#aaaaaa" stroke-width="0.9" stroke-dasharray="3,3.6"/>
<line x1="613.6" y1="539.5" x2="613.6" y2="570.5" stroke="#aaaaaa" stroke-width="0.9" stroke-dasharray="3,3.6"/>
<line x1="625.4000000000001" y1="539.5" x2="625.4000000000001" y2="570.5" stroke="#aaaaaa" stroke-width="0.9" stroke-dasharray="3,3.6"/>
<line x1="639.1" y1="539.5" x2="639.1" y2="570.5" stroke="#aaaaaa" stroke-width="0.9" stroke-dasharray="3,3.6"/>
<line x1="646.3000000000001" y1="539.5" x2="646.3000000000001" y2="570.5" stroke="#aaaaaa" stroke-width="0.9" stroke-dasharray="3,3.6"/>
<line x1="653.1" y1="539.5" x2="653.1" y2="570.5" stroke="#aaaaaa" stroke-width="0.9" stroke-dasharray="3,3.6"/>
<path d="M113.00,564.40L114.30,564.40L114.30,574.40L113.00,574.40L113.00,566.40L110.30,567.70L110.00,566.70Q112.05,565.60 113.15,564.40Z" fill="#5884b1"/>
<text x="161.8" y="574.41" text-anchor="middle" font-size="14" fill="#5884b1">2</text>
<text x="207.2" y="573.98" text-anchor="middle" font-size="12.8" fill="#5884b1">3</text>
<text x="247.1" y="573.52" text-anchor="middle" font-size="11.5" fill="#5884b1">4</text>
<text x="285.0" y="573.45" text-anchor="middle" font-size="11.3" fill="#5884b1">5</text>
<text x="321.2" y="573.27" text-anchor="middle" font-size="10.8" fill="#5884b1">6</text>
<text x="354.9" y="573.16" text-anchor="middle" font-size="10.5" fill="#5884b1">7</text>
<text x="385.8" y="572.98" text-anchor="middle" font-size="10" fill="#5884b1">8</text>
<text x="413.1" y="572.98" text-anchor="middle" font-size="10" fill="#5884b1">9</text>
<text x="439.7" y="572.55" text-anchor="middle" font-size="8.8" fill="#5884b1">10</text>
<text x="467.6" y="572.55" text-anchor="middle" font-size="8.8" fill="#5884b1">11</text>
<text x="494.9" y="572.55" text-anchor="middle" font-size="8.8" fill="#5884b1">12</text>
<text x="518.3" y="572.12" text-anchor="middle" font-size="7.6" fill="#5884b1">13</text>
<text x="537.5" y="572.05" text-anchor="middle" font-size="7.4" fill="#5884b1">14</text>
<text x="555.7" y="571.91" text-anchor="middle" font-size="7" fill="#5884b1">15</text>
<text x="572.9" y="571.91" text-anchor="middle" font-size="7" fill="#5884b1">16</text>
<text x="589.2" y="571.55" text-anchor="middle" font-size="6" fill="#5884b1">17</text>
<text x="605.5" y="571.19" text-anchor="middle" font-size="5" fill="#5884b1">18</text>
<text x="619.5" y="571.19" text-anchor="middle" font-size="5" fill="#5884b1">19</text>
<text x="632.2" y="570.98" text-anchor="middle" font-size="4.4" fill="#5884b1">20</text>
<text x="642.7" y="570.90" text-anchor="middle" font-size="4.2" fill="#5884b1">21</text>
<text x="649.7" y="570.83" text-anchor="middle" font-size="4" fill="#5884b1">22</text>
<path d="M88.3,57.0L88.3,61.8L90.7,61.8L90.7,64.7L92.4,64.7L92.4,61.8L97.7,61.8L97.7,65.9L100.6,65.9L100.6,67.0L103.0,67.0L103.0,70.5L107.0,70.5L107.0,67.6L110.5,67.6L110.5,60.6L112.9,60.6L112.9,63.0L117.5,63.0L117.5,57.8L136.2,57.8L136.2,60.6L140.9,60.6L140.9,64.1L144.4,64.1L144.4,58.9L146.1,58.9L146.1,66.5L148.5,66.5L148.5,63.5L151.4,63.5L151.4,68.2L153.7,68.2L153.7,63.0L157.2,63.0L157.2,61.8L160.7,61.8L160.7,64.2L163.3,64.2L163.3,68.8L165.3,68.8L165.3,60.2L168.0,60.2L168.0,60.0L177.0,60.0L177.0,64.8L179.7,64.8L179.7,60.9L190.2,60.9L190.2,64.8L192.0,64.8L192.0,67.0L194.2,67.0L194.2,70.1L196.8,70.1L196.8,76.0L199.4,76.0L199.4,71.4L202.0,71.4L202.0,66.2L204.7,66.2L204.7,61.6L208.6,61.6L208.6,64.2L210.6,64.2L210.6,62.2L220.4,62.2L220.4,58.3L228.3,58.3L228.3,64.2L231.6,64.2L231.6,67.5L233.6,67.5L233.6,62.2L238.8,62.2L238.8,64.2L244.1,64.2L244.1,60.2L246.3,60.2L246.3,59.6L249.0,59.6L249.0,57.8L249.0,57.8L249.0,60.2L258.8,60.2L258.8,62.9L262.0,62.9L262.0,65.5L266.0,65.5L266.0,59.6L275.2,59.6L275.2,62.9L276.5,62.9L276.5,57.8L278.5,57.8L278.5,60.2L281.8,60.2L281.8,62.9L293.6,62.9L293.6,65.5L296.9,65.5L296.9,62.9L301.5,62.9L301.5,60.2L306.1,60.2L306.1,67.5L307.4,67.5L307.4,60.2L313.3,60.2L313.3,62.9L319.2,62.9L319.2,68.8L323.8,68.8L323.8,67.5L327.8,67.5L327.8,70.8L332.4,70.8L332.4,68.8L332.6,68.8L332.6,68.1L337.2,68.1L337.2,64.8L339.2,64.8L339.2,60.9L341.8,60.9L341.8,57.8L351.0,57.8L351.0,61.6L353.6,61.6L353.6,62.2L357.6,62.2L357.6,67.5L362.8,67.5L362.8,62.9L365.5,62.9L365.5,57.8L369.4,57.8L369.4,76.0L372.0,76.0L372.0,76.7L376.0,76.7L376.0,67.5L378.0,67.5L378.0,59.6L382.6,59.6L382.6,58.3L399.6,58.3L399.6,62.9L403.6,62.9L403.6,64.8L406.2,64.8L406.2,61.6L408.8,61.6L408.8,59.6L417.0,59.6L417.0,60.2L419.6,60.2L419.6,62.9L421.6,62.9L421.6,59.6L438.6,59.6L438.6,64.8L441.3,64.8L441.3,70.8L447.8,70.8L447.8,66.8L450.5,66.8L450.5,64.2L453.1,64.2L453.1,68.8L454.4,68.8L454.4,60.9L457.0,60.9L457.0,64.8L459.7,64.8L459.7,66.2L462.3,66.2L462.3,62.2L464.3,62.2L464.3,58.9L467.6,58.9L467.6,70.1L470.2,70.1L470.2,74.0L472.8,74.0L472.8,76.0L477.4,76.0L477.4,72.7L480.0,72.7L480.0,59.6L486.0,59.6L486.0,60.2L500.0,60.2L500.0,60.2L506.6,60.2L506.6,62.9L509.9,62.9L509.9,73.4L513.8,73.4L513.8,68.8L517.1,68.8L517.1,71.4L519.0,71.4L519.0,64.8L524.3,64.8L524.3,63.5L527.6,63.5L527.6,59.6L534.8,59.6L534.8,62.2L536.5,62.2L536.5,70.0L538.5,70.0L538.5,76.0L540.0,76.0L540.0,79.0L543.4,79.0L543.4,77.0L545.3,77.0L545.3,63.5L549.3,63.5L549.3,66.2L551.2,66.2L551.2,70.1L552.6,70.1L552.6,64.8L555.2,64.8L555.2,61.6L561.8,61.6L561.8,64.2L563.7,64.2L563.7,59.6L571.0,59.6L571.0,68.0L573.6,68.0L573.6,76.0L576.2,76.0L576.2,74.5L578.8,74.5L578.8,72.0L582.3,72.0L582.3,63.5L584.7,63.5L584.7,58.3L596.9,58.3L596.9,64.5L599.3,64.5L599.3,67.0L604.5,67.0L604.5,70.5L611.5,70.5L611.5,64.7L612.7,64.7L612.7,60.0L615.0,60.0L615.0,57.8L624.4,57.8L624.4,62.4L627.9,62.4L627.9,58.3L637.2,58.3L637.2,63.5L640.7,63.5L640.7,65.9L643.6,65.9L643.6,60.0L647.2,60.0L647.2,65.9L650.0,65.9L650.0,63.5L651.8,63.5L651.8,57.0Z" fill="#4a8fce"/>
<path d="M88.3,57.8L88.3,47.2L89.0,47.2L89.0,51.3L91.3,51.3L91.3,49.5L92.4,49.5L92.4,52.4L98.8,52.4L98.8,49.5L100.0,49.5L100.0,55.4L101.0,55.4L101.0,57.1L110.0,57.1L110.0,54.8L111.0,54.8L111.0,52.4L113.4,52.4L113.4,46.6L114.6,46.6L114.6,43.1L116.4,43.1L116.4,40.8L118.0,40.8L118.0,38.8L121.6,38.8L121.6,43.1L124.5,43.1L124.5,39.2L127.5,39.2L127.5,43.7L130.4,43.7L130.4,41.3L132.7,41.3L132.7,43.7L135.6,43.7L135.6,49.5L137.4,49.5L137.4,51.9L139.1,51.9L139.1,47.2L140.3,47.2L140.3,51.9L142.0,51.9L142.0,54.8L143.8,54.8L143.8,57.1L149.6,57.1L149.6,54.8L151.4,54.8L151.4,57.1L153.2,57.1L153.2,52.4L154.9,52.4L154.9,57.1L156.0,57.1L156.0,56.0L157.8,56.0L157.8,52.4L159.0,52.4L159.0,47.2L160.2,47.2L160.2,52.4L162.6,52.4L162.6,57.1L174.5,57.1L174.5,55.0L178.4,55.0L178.4,52.4L180.4,52.4L180.4,47.1L181.7,47.1L181.7,49.7L183.6,49.7L183.6,47.1L185.2,47.1L185.2,40.5L185.9,40.5L185.9,55.0L187.0,55.0L187.0,49.1L188.6,49.1L188.6,57.2L194.8,57.2L194.8,52.4L197.4,52.4L197.4,57.2L202.0,57.2L202.0,55.0L205.3,55.0L205.3,52.4L208.0,52.4L208.0,55.0L210.6,55.0L210.6,49.1L211.9,49.1L211.9,52.4L214.5,52.4L214.5,55.0L219.8,55.0L219.8,47.1L222.0,47.1L222.0,44.5L223.0,44.5L223.0,47.1L225.7,47.1L225.7,41.2L227.0,41.2L227.0,47.1L228.3,47.1L228.3,57.2L248.7,57.2L248.7,55.0L250.9,55.0L250.9,55.0L252.0,55.0L252.0,51.7L253.0,51.7L253.0,55.0L258.8,55.0L258.8,57.4L264.0,57.4L264.0,55.0L265.4,55.0L265.4,41.2L266.0,41.2L266.0,51.7L268.0,51.7L268.0,47.1L270.0,47.1L270.0,51.7L272.0,51.7L272.0,49.1L273.3,49.1L273.3,51.7L274.6,51.7L274.6,57.4L284.4,57.4L284.4,55.6L286.4,55.6L286.4,57.4L290.3,57.4L290.3,54.3L293.0,54.3L293.0,49.1L295.6,49.1L295.6,51.7L298.2,51.7L298.2,54.3L300.2,54.3L300.2,47.1L304.1,47.1L304.1,51.7L306.8,51.7L306.8,49.1L309.4,49.1L309.4,46.5L310.7,46.5L310.7,44.5L312.7,44.5L312.7,51.7L315.3,51.7L315.3,55.0L317.3,55.0L317.3,51.7L318.0,51.7L318.0,57.4L325.8,57.4L325.8,55.0L328.4,55.0L328.4,52.4L329.0,52.4L329.0,55.0L333.0,55.0L333.0,49.1L335.0,49.1L335.0,55.0L337.2,55.0L337.2,43.8L339.2,43.8L339.2,55.0L341.2,55.0L341.2,51.7L343.8,51.7L343.8,47.1L345.1,47.1L345.1,51.7L346.4,51.7L346.4,47.1L347.7,47.1L347.7,49.7L350.4,49.7L350.4,51.7L351.7,51.7L351.7,49.1L353.0,49.1L353.0,55.6L356.3,55.6L356.3,49.1L357.6,49.1L357.6,57.0L364.2,57.0L364.2,49.1L366.0,49.1L366.0,55.0L367.4,55.0L367.4,51.7L370.0,51.7L370.0,57.0L374.7,57.0L374.7,55.0L377.3,55.0L377.3,41.2L378.6,41.2L378.6,52.4L382.6,52.4L382.6,51.7L386.5,51.7L386.5,49.1L388.5,49.1L388.5,44.5L390.4,44.5L390.4,38.6L391.8,38.6L391.8,44.5L394.4,44.5L394.4,38.6L395.7,38.6L395.7,44.5L398.3,44.5L398.3,39.2L399.6,39.2L399.6,55.0L407.5,55.0L407.5,52.4L409.5,52.4L409.5,57.0L414.1,57.0L414.1,52.4L416.7,52.4L416.7,57.6L417.0,57.6L417.0,57.6L419.6,57.6L419.6,50.4L421.6,50.4L421.6,47.1L422.9,47.1L422.9,43.8L424.9,43.8L424.9,51.7L426.2,51.7L426.2,55.6L428.8,55.6L428.8,57.6L431.4,57.6L431.4,55.0L433.4,55.0L433.4,57.6L438.6,57.6L438.6,49.1L441.9,49.1L441.9,53.0L443.2,53.0L443.2,56.3L448.5,56.3L448.5,52.4L450.5,52.4L450.5,49.1L451.8,49.1L451.8,52.4L453.8,52.4L453.8,57.6L461.6,57.6L461.6,52.4L464.3,52.4L464.3,43.8L466.9,43.8L466.9,49.1L468.9,49.1L468.9,55.0L471.5,55.0L471.5,57.6L476.1,57.6L476.1,55.0L478.1,55.0L478.1,51.7L480.7,51.7L480.7,57.6L486.0,57.6L486.0,55.0L488.6,55.0L488.6,49.1L490.5,49.1L490.5,43.8L497.8,43.8L497.8,41.9L500.4,41.9L500.4,45.1L501.3,45.1L501.3,46.5L502.6,46.5L502.6,44.5L504.0,44.5L504.0,49.1L505.3,49.1L505.3,47.1L506.6,47.1L506.6,55.0L508.5,55.0L508.5,49.1L509.9,49.1L509.9,55.0L517.7,55.0L517.7,51.7L519.0,51.7L519.0,55.0L523.7,55.0L523.7,52.4L525.6,52.4L525.6,50.4L527.6,50.4L527.6,47.1L528.9,47.1L528.9,57.6L534.8,57.6L534.8,55.0L536.1,55.0L536.1,49.7L539.4,49.7L539.4,55.0L542.0,55.0L542.0,53.0L544.0,53.0L544.0,49.1L546.0,49.1L546.0,55.0L549.3,55.0L549.3,51.7L551.2,51.7L551.2,55.0L554.5,55.0L554.5,51.7L557.2,51.7L557.2,47.1L559.1,47.1L559.1,49.7L561.8,49.7L561.8,51.7L563.1,51.7L563.1,41.2L564.4,41.2L564.4,43.8L567.0,43.8L567.0,46.5L569.6,46.5L569.6,51.7L571.6,51.7L571.6,52.4L577.5,52.4L577.5,51.7L581.5,51.7L581.5,55.0L582.3,55.0L582.3,55.4L583.5,55.4L583.5,49.5L585.3,49.5L585.3,53.0L587.6,53.0L587.6,43.7L589.3,43.7L589.3,41.3L591.7,41.3L591.7,39.0L596.9,39.0L596.9,57.5L599.9,57.5L599.9,53.0L601.0,53.0L601.0,54.8L603.4,54.8L603.4,49.5L604.5,49.5L604.5,54.8L605.1,54.8L605.1,47.2L606.3,47.2L606.3,55.4L612.1,55.4L612.1,47.2L615.0,47.2L615.0,49.5L617.4,49.5L617.4,51.3L619.1,51.3L619.1,49.5L625.0,49.5L625.0,55.4L627.9,55.4L627.9,47.2L630.2,47.2L630.2,42.5L633.1,42.5L633.1,39.0L637.2,39.0L637.2,57.5L640.1,57.5L640.1,54.8L643.1,54.8L643.1,49.5L644.8,49.5L644.8,54.8L647.2,54.8L647.2,52.4L650.0,52.4L650.0,49.5L651.8,49.5L651.8,57.8Z" fill="#33689a"/>
<path d="M88.0,157.2L88.0,164.7L88.8,164.7L88.8,166.6L89.6,166.6L89.6,165.7L90.4,165.7L90.4,166.7L91.2,166.7L91.2,165.7L92.0,165.7L92.0,166.5L92.8,166.5L92.8,165.2L93.6,165.2L93.6,166.0L94.4,166.0L94.4,164.3L95.2,164.3L95.2,163.0L96.0,163.0L96.0,162.9L96.8,162.9L96.8,161.8L97.6,161.8L97.6,163.9L98.4,163.9L98.4,161.6L99.2,161.6L99.2,164.3L100.0,164.3L100.0,163.5L100.8,163.5L100.8,165.9L101.6,165.9L101.6,164.8L102.4,164.8L102.4,165.0L103.2,165.0L103.2,167.1L104.0,167.1L104.0,168.8L104.8,168.8L104.8,169.5L105.6,169.5L105.6,166.3L106.4,166.3L106.4,169.0L107.2,169.0L107.2,168.1L108.0,168.1L108.0,168.0L108.8,168.0L108.8,169.5L109.6,169.5L109.6,165.4L110.4,165.4L110.4,163.6L111.2,163.6L111.2,164.3L112.0,164.3L112.0,160.0L112.8,160.0L112.8,159.9L113.6,159.9L113.6,159.8L114.4,159.8L114.4,159.2L115.2,159.2L115.2,159.2L116.0,159.2L116.0,159.1L116.8,159.1L116.8,159.1L117.6,159.1L117.6,158.9L118.4,158.9L118.4,158.8L119.2,158.8L119.2,158.9L120.0,158.9L120.0,158.6L120.8,158.6L120.8,158.7L121.6,158.7L121.6,158.9L122.4,158.9L122.4,158.9L123.2,158.9L123.2,159.0L124.0,159.0L124.0,159.0L124.8,159.0L124.8,158.7L125.6,158.7L125.6,159.1L126.4,159.1L126.4,158.9L127.2,158.9L127.2,158.9L128.0,158.9L128.0,158.8L128.8,158.8L128.8,158.8L129.6,158.8L129.6,159.2L130.4,159.2L130.4,159.2L131.2,159.2L131.2,158.7L132.0,158.7L132.0,159.2L132.8,159.2L132.8,159.1L133.6,159.1L133.6,159.1L134.4,159.1L134.4,158.8L135.2,158.8L135.2,165.0L136.0,165.0L136.0,163.9L136.8,163.9L136.8,163.5L137.6,163.5L137.6,162.0L138.4,162.0L138.4,163.7L139.2,163.7L139.2,165.3L140.0,165.3L140.0,165.9L140.8,165.9L140.8,168.9L141.6,168.9L141.6,162.5L142.4,162.5L142.4,164.0L143.2,164.0L143.2,162.6L144.0,162.6L144.0,161.8L144.8,161.8L144.8,162.7L145.6,162.7L145.6,162.0L146.4,162.0L146.4,161.9L147.2,161.9L147.2,163.5L148.0,163.5L148.0,163.6L148.8,163.6L148.8,162.0L149.6,162.0L149.6,163.7L150.4,163.7L150.4,163.1L151.2,163.1L151.2,161.7L152.0,161.7L152.0,161.7L152.8,161.7L152.8,163.6L153.6,163.6L153.6,164.3L154.4,164.3L154.4,164.0L155.2,164.0L155.2,163.3L156.0,163.3L156.0,161.6L156.8,161.6L156.8,163.8L157.6,163.8L157.6,163.0L158.4,163.0L158.4,166.2L159.2,166.2L159.2,163.1L160.0,163.1L160.0,167.0L160.8,167.0L160.8,164.9L161.6,164.9L161.6,163.7L162.4,163.7L162.4,163.2L163.2,163.2L163.2,163.9L164.0,163.9L164.0,162.8L164.8,162.8L164.8,161.7L165.6,161.7L165.6,161.2L166.4,161.2L166.4,163.0L167.2,163.0L167.2,161.4L168.0,161.4L168.0,161.4L168.8,161.4L168.8,161.5L169.6,161.5L169.6,161.3L170.4,161.3L170.4,160.5L171.2,160.5L171.2,160.2L172.0,160.2L172.0,160.1L172.8,160.1L172.8,160.3L173.6,160.3L173.6,160.8L174.4,160.8L174.4,161.7L175.2,161.7L175.2,161.6L176.0,161.6L176.0,161.1L176.8,161.1L176.8,160.3L177.6,160.3L177.6,161.8L178.4,161.8L178.4,160.5L179.2,160.5L179.2,161.0L180.0,161.0L180.0,161.1L180.8,161.1L180.8,160.8L181.6,160.8L181.6,160.5L182.4,160.5L182.4,161.7L183.2,161.7L183.2,160.2L184.0,160.2L184.0,160.7L184.8,160.7L184.8,160.5L185.6,160.5L185.6,159.9L186.4,159.9L186.4,159.6L187.2,159.6L187.2,159.7L188.0,159.7L188.0,160.6L188.8,160.6L188.8,160.3L189.6,160.3L189.6,160.1L190.4,160.1L190.4,164.1L191.2,164.1L191.2,163.5L192.0,163.5L192.0,162.1L192.8,162.1L192.8,162.1L193.6,162.1L193.6,169.7L194.4,169.7L194.4,167.2L195.2,167.2L195.2,168.0L196.0,168.0L196.0,167.0L196.8,167.0L196.8,172.6L197.6,172.6L197.6,170.9L198.4,170.9L198.4,172.0L199.2,172.0L199.2,169.9L200.0,169.9L200.0,171.3L200.8,171.3L200.8,168.1L201.6,168.1L201.6,163.3L202.4,163.3L202.4,164.1L203.2,164.1L203.2,164.0L204.0,164.0L204.0,166.9L204.8,166.9L204.8,160.4L205.6,160.4L205.6,161.1L206.4,161.1L206.4,161.6L207.2,161.6L207.2,161.0L208.0,161.0L208.0,161.7L208.8,161.7L208.8,161.3L209.6,161.3L209.6,161.4L210.4,161.4L210.4,160.3L211.2,160.3L211.2,160.6L212.0,160.6L212.0,161.6L212.8,161.6L212.8,160.7L213.6,160.7L213.6,161.4L214.4,161.4L214.4,161.2L215.2,161.2L215.2,161.9L216.0,161.9L216.0,161.0L216.8,161.0L216.8,161.8L217.6,161.8L217.6,161.6L218.4,161.6L218.4,161.3L219.2,161.3L219.2,161.8L220.0,161.8L220.0,161.3L220.8,161.3L220.8,160.9L221.6,160.9L221.6,161.6L222.4,161.6L222.4,161.3L223.2,161.3L223.2,161.1L224.0,161.1L224.0,161.4L224.8,161.4L224.8,161.0L225.6,161.0L225.6,161.7L226.4,161.7L226.4,161.0L227.2,161.0L227.2,165.9L228.0,165.9L228.0,164.1L228.8,164.1L228.8,165.6L229.6,165.6L229.6,162.5L230.4,162.5L230.4,168.7L231.2,168.7L231.2,164.5L232.0,164.5L232.0,165.9L232.8,165.9L232.8,165.2L233.6,165.2L233.6,164.0L234.4,164.0L234.4,163.6L235.2,163.6L235.2,162.8L236.0,162.8L236.0,161.7L236.8,161.7L236.8,162.9L237.6,162.9L237.6,163.8L238.4,163.8L238.4,163.8L239.2,163.8L239.2,162.2L240.0,162.2L240.0,164.1L240.8,164.1L240.8,162.0L241.6,162.0L241.6,163.9L242.4,163.9L242.4,161.5L243.2,161.5L243.2,161.3L244.0,161.3L244.0,162.9L244.8,162.9L244.8,162.1L245.6,162.1L245.6,162.9L246.4,162.9L246.4,162.6L247.2,162.6L247.2,161.7L248.0,161.7L248.0,163.8L248.8,163.8L248.8,161.2L249.6,161.2L249.6,162.0L250.4,162.0L250.4,162.8L251.2,162.8L251.2,162.9L252.0,162.9L252.0,162.1L252.8,162.1L252.8,162.0L253.6,162.0L253.6,161.7L254.4,161.7L254.4,165.6L255.2,165.6L255.2,162.9L256.0,162.9L256.0,162.3L256.8,162.3L256.8,164.6L257.6,164.6L257.6,164.2L258.4,164.2L258.4,164.6L259.2,164.6L259.2,163.8L260.0,163.8L260.0,165.3L260.8,165.3L260.8,163.3L261.6,163.3L261.6,165.0L262.4,165.0L262.4,165.2L263.2,165.2L263.2,165.4L264.0,165.4L264.0,165.0L264.8,165.0L264.8,165.5L265.6,165.5L265.6,159.0L266.4,159.0L266.4,158.8L267.2,158.8L267.2,159.2L268.0,159.2L268.0,159.1L268.8,159.1L268.8,163.7L269.6,163.7L269.6,163.5L270.4,163.5L270.4,161.6L271.2,161.6L271.2,161.2L272.0,161.2L272.0,161.8L272.8,161.8L272.8,163.3L273.6,163.3L273.6,163.8L274.4,163.8L274.4,161.8L275.2,161.8L275.2,162.1L276.0,162.1L276.0,161.1L276.8,161.1L276.8,162.1L277.6,162.1L277.6,163.1L278.4,163.1L278.4,165.1L279.2,165.1L279.2,165.0L280.0,165.0L280.0,166.2L280.8,166.2L280.8,163.0L281.6,163.0L281.6,163.6L282.4,163.6L282.4,163.4L283.2,163.4L283.2,165.1L284.0,165.1L284.0,164.3L284.8,164.3L284.8,165.0L285.6,165.0L285.6,162.5L286.4,162.5L286.4,163.3L287.2,163.3L287.2,164.6L288.0,164.6L288.0,165.3L288.8,165.3L288.8,165.7L289.6,165.7L289.6,163.1L290.4,163.1L290.4,164.7L291.2,164.7L291.2,161.8L292.0,161.8L292.0,162.9L292.8,162.9L292.8,163.6L293.6,163.6L293.6,161.6L294.4,161.6L294.4,161.2L295.2,161.2L295.2,162.0L296.0,162.0L296.0,163.6L296.8,163.6L296.8,161.2L297.6,161.2L297.6,161.4L298.4,161.4L298.4,162.2L299.2,162.2L299.2,162.2L300.0,162.2L300.0,163.5L300.8,163.5L300.8,161.1L301.6,161.1L301.6,163.7L302.4,163.7L302.4,165.4L303.2,165.4L303.2,168.9L304.0,168.9L304.0,167.4L304.8,167.4L304.8,164.7L305.6,164.7L305.6,164.8L306.4,164.8L306.4,169.0L307.2,169.0L307.2,165.2L308.0,165.2L308.0,163.7L308.8,163.7L308.8,165.6L309.6,165.6L309.6,163.7L310.4,163.7L310.4,166.4L311.2,166.4L311.2,163.0L312.0,163.0L312.0,162.9L312.8,162.9L312.8,166.4L313.6,166.4L313.6,164.3L314.4,164.3L314.4,168.6L315.2,168.6L315.2,166.2L316.0,166.2L316.0,168.7L316.8,168.7L316.8,167.1L317.6,167.1L317.6,169.9L318.4,169.9L318.4,171.8L319.2,171.8L319.2,172.3L320.0,172.3L320.0,176.2L320.8,176.2L320.8,176.0L321.6,176.0L321.6,176.1L322.4,176.1L322.4,175.0L323.2,175.0L323.2,175.3L324.0,175.3L324.0,170.9L324.8,170.9L324.8,171.1L325.6,171.1L325.6,171.7L326.4,171.7L326.4,170.6L327.2,170.6L327.2,170.1L328.0,170.1L328.0,171.0L328.8,171.0L328.8,168.5L329.6,168.5L329.6,168.7L330.4,168.7L330.4,169.0L331.2,169.0L331.2,167.9L332.0,167.9L332.0,167.4L332.8,167.4L332.8,170.2L333.6,170.2L333.6,167.5L334.4,167.5L334.4,165.9L335.2,165.9L335.2,166.2L336.0,166.2L336.0,167.5L336.8,167.5L336.8,166.7L337.6,166.7L337.6,165.3L338.4,165.3L338.4,165.2L339.2,165.2L339.2,165.4L340.0,165.4L340.0,162.5L340.8,162.5L340.8,164.1L341.6,164.1L341.6,163.6L342.4,163.6L342.4,165.1L343.2,165.1L343.2,164.5L344.0,164.5L344.0,165.2L344.8,165.2L344.8,164.4L345.6,164.4L345.6,162.9L346.4,162.9L346.4,162.8L347.2,162.8L347.2,162.3L348.0,162.3L348.0,165.0L348.8,165.0L348.8,164.2L349.6,164.2L349.6,163.3L350.4,163.3L350.4,164.1L351.2,164.1L351.2,166.4L352.0,166.4L352.0,165.0L352.8,165.0L352.8,163.2L353.6,163.2L353.6,162.9L354.4,162.9L354.4,164.1L355.2,164.1L355.2,165.9L356.0,165.9L356.0,164.8L356.8,164.8L356.8,164.8L357.6,164.8L357.6,162.5L358.4,162.5L358.4,165.2L359.2,165.2L359.2,163.6L360.0,163.6L360.0,162.5L360.8,162.5L360.8,163.1L361.6,163.1L361.6,163.4L362.4,163.4L362.4,162.1L363.2,162.1L363.2,162.6L364.0,162.6L364.0,164.2L364.8,164.2L364.8,163.7L365.6,163.7L365.6,164.4L366.4,164.4L366.4,163.6L367.2,163.6L367.2,165.6L368.0,165.6L368.0,165.6L368.8,165.6L368.8,164.1L369.6,164.1L369.6,165.2L370.4,165.2L370.4,170.4L371.2,170.4L371.2,174.0L372.0,174.0L372.0,169.3L372.8,169.3L372.8,178.8L373.6,178.8L373.6,178.7L374.4,178.7L374.4,177.5L375.2,177.5L375.2,175.7L376.0,175.7L376.0,178.6L376.8,178.6L376.8,170.5L377.6,170.5L377.6,168.5L378.4,168.5L378.4,158.9L379.2,158.9L379.2,158.9L380.0,158.9L380.0,158.7L380.8,158.7L380.8,159.1L381.6,159.1L381.6,158.7L382.4,158.7L382.4,158.7L383.2,158.7L383.2,159.1L384.0,159.1L384.0,159.0L384.8,159.0L384.8,159.0L385.6,159.0L385.6,158.7L386.4,158.7L386.4,158.9L387.2,158.9L387.2,159.2L388.0,159.2L388.0,158.8L388.8,158.8L388.8,158.7L389.6,158.7L389.6,158.8L390.4,158.8L390.4,159.1L391.2,159.1L391.2,158.8L392.0,158.8L392.0,158.8L392.8,158.8L392.8,158.9L393.6,158.9L393.6,158.9L394.4,158.9L394.4,158.9L395.2,158.9L395.2,158.7L396.0,158.7L396.0,158.9L396.8,158.9L396.8,158.6L397.6,158.6L397.6,159.2L398.4,159.2L398.4,159.0L399.2,159.0L399.2,158.9L400.0,158.9L400.0,167.8L400.8,167.8L400.8,166.9L401.6,166.9L401.6,169.1L402.4,169.1L402.4,167.1L403.2,167.1L403.2,167.9L404.0,167.9L404.0,164.5L404.8,164.5L404.8,165.8L405.6,165.8L405.6,166.6L406.4,166.6L406.4,167.9L407.2,167.9L407.2,164.1L408.0,164.1L408.0,167.2L408.8,167.2L408.8,170.6L409.6,170.6L409.6,167.2L410.4,167.2L410.4,168.1L411.2,168.1L411.2,165.4L412.0,165.4L412.0,166.4L412.8,166.4L412.8,164.3L413.6,164.3L413.6,164.7L414.4,164.7L414.4,166.1L415.2,166.1L415.2,166.2L416.0,166.2L416.0,163.4L416.8,163.4L416.8,165.1L417.6,165.1L417.6,165.4L418.4,165.4L418.4,163.0L419.2,163.0L419.2,164.1L420.0,164.1L420.0,164.7L420.8,164.7L420.8,165.2L421.6,165.2L421.6,162.4L422.4,162.4L422.4,164.1L423.2,164.1L423.2,163.2L424.0,163.2L424.0,164.5L424.8,164.5L424.8,160.0L425.6,160.0L425.6,160.5L426.4,160.5L426.4,159.7L427.2,159.7L427.2,160.1L428.0,160.1L428.0,159.8L428.8,159.8L428.8,160.5L429.6,160.5L429.6,160.0L430.4,160.0L430.4,160.7L431.2,160.7L431.2,159.8L432.0,159.8L432.0,159.8L432.8,159.8L432.8,160.6L433.6,160.6L433.6,162.4L434.4,162.4L434.4,162.7L435.2,162.7L435.2,160.7L436.0,160.7L436.0,161.3L436.8,161.3L436.8,161.6L437.6,161.6L437.6,161.1L438.4,161.1L438.4,162.3L439.2,162.3L439.2,161.3L440.0,161.3L440.0,162.9L440.8,162.9L440.8,163.6L441.6,163.6L441.6,164.3L442.4,164.3L442.4,164.1L443.2,164.1L443.2,162.7L444.0,162.7L444.0,163.1L444.8,163.1L444.8,168.4L445.6,168.4L445.6,167.9L446.4,167.9L446.4,165.5L447.2,165.5L447.2,168.2L448.0,168.2L448.0,163.8L448.8,163.8L448.8,168.6L449.6,168.6L449.6,169.5L450.4,169.5L450.4,170.0L451.2,170.0L451.2,169.1L452.0,169.1L452.0,163.9L452.8,163.9L452.8,166.8L453.6,166.8L453.6,162.7L454.4,162.7L454.4,162.8L455.2,162.8L455.2,162.3L456.0,162.3L456.0,163.1L456.8,163.1L456.8,163.0L457.6,163.0L457.6,163.3L458.4,163.3L458.4,165.5L459.2,165.5L459.2,164.7L460.0,164.7L460.0,167.6L460.8,167.6L460.8,167.2L461.6,167.2L461.6,166.2L462.4,166.2L462.4,166.3L463.2,166.3L463.2,165.3L464.0,165.3L464.0,165.3L464.8,165.3L464.8,166.8L465.6,166.8L465.6,164.6L466.4,164.6L466.4,159.3L467.2,159.3L467.2,159.9L468.0,159.9L468.0,163.4L468.8,163.4L468.8,167.0L469.6,167.0L469.6,164.3L470.4,164.3L470.4,170.4L471.2,170.4L471.2,172.6L472.0,172.6L472.0,168.9L472.8,168.9L472.8,168.6L473.6,168.6L473.6,174.1L474.4,174.1L474.4,172.4L475.2,172.4L475.2,171.3L476.0,171.3L476.0,171.2L476.8,171.2L476.8,172.4L477.6,172.4L477.6,168.6L478.4,168.6L478.4,173.4L479.2,173.4L479.2,172.7L480.0,172.7L480.0,169.6L480.8,169.6L480.8,167.2L481.6,167.2L481.6,168.4L482.4,168.4L482.4,168.2L483.2,168.2L483.2,160.5L484.0,160.5L484.0,160.5L484.8,160.5L484.8,160.8L485.6,160.8L485.6,160.5L486.4,160.5L486.4,160.4L487.2,160.4L487.2,160.3L488.0,160.3L488.0,159.7L488.8,159.7L488.8,160.3L489.6,160.3L489.6,160.2L490.4,160.2L490.4,159.8L491.2,159.8L491.2,160.3L492.0,160.3L492.0,159.5L492.8,159.5L492.8,160.1L493.6,160.1L493.6,160.9L494.4,160.9L494.4,160.2L495.2,160.2L495.2,160.0L496.0,160.0L496.0,160.6L496.8,160.6L496.8,160.6L497.6,160.6L497.6,160.0L498.4,160.0L498.4,159.6L499.2,159.6L499.2,160.8L500.0,160.8L500.0,160.1L500.8,160.1L500.8,160.8L501.6,160.8L501.6,160.7L502.4,160.7L502.4,160.6L503.2,160.6L503.2,160.9L504.0,160.9L504.0,164.7L504.8,164.7L504.8,165.7L505.6,165.7L505.6,163.1L506.4,163.1L506.4,165.1L507.2,165.1L507.2,167.9L508.0,167.9L508.0,170.5L508.8,170.5L508.8,168.9L509.6,168.9L509.6,167.3L510.4,167.3L510.4,171.9L511.2,171.9L511.2,172.7L512.0,172.7L512.0,172.5L512.8,172.5L512.8,173.3L513.6,173.3L513.6,171.9L514.4,171.9L514.4,167.8L515.2,167.8L515.2,172.0L516.0,172.0L516.0,167.5L516.8,167.5L516.8,168.3L517.6,168.3L517.6,171.5L518.4,171.5L518.4,170.4L519.2,170.4L519.2,170.7L520.0,170.7L520.0,171.8L520.8,171.8L520.8,166.1L521.6,166.1L521.6,164.2L522.4,164.2L522.4,166.1L523.2,166.1L523.2,166.8L524.0,166.8L524.0,166.2L524.8,166.2L524.8,165.2L525.6,165.2L525.6,163.1L526.4,163.1L526.4,163.1L527.2,163.1L527.2,162.2L528.0,162.2L528.0,162.1L528.8,162.1L528.8,162.8L529.6,162.8L529.6,161.2L530.4,161.2L530.4,161.5L531.2,161.5L531.2,161.2L532.0,161.2L532.0,162.0L532.8,162.0L532.8,161.5L533.6,161.5L533.6,161.9L534.4,161.9L534.4,161.3L535.2,161.3L535.2,168.6L536.0,168.6L536.0,168.3L536.8,168.3L536.8,168.2L537.6,168.2L537.6,167.3L538.4,167.3L538.4,166.8L539.2,166.8L539.2,171.5L540.0,171.5L540.0,174.3L540.8,174.3L540.8,170.8L541.6,170.8L541.6,173.5L542.4,173.5L542.4,172.9L543.2,172.9L543.2,168.2L544.0,168.2L544.0,165.9L544.8,165.9L544.8,168.5L545.6,168.5L545.6,164.6L546.4,164.6L546.4,166.2L547.2,166.2L547.2,164.4L548.0,164.4L548.0,165.2L548.8,165.2L548.8,164.1L549.6,164.1L549.6,162.9L550.4,162.9L550.4,164.3L551.2,164.3L551.2,163.4L552.0,163.4L552.0,166.2L552.8,166.2L552.8,164.8L553.6,164.8L553.6,164.1L554.4,164.1L554.4,165.5L555.2,165.5L555.2,164.4L556.0,164.4L556.0,165.0L556.8,165.0L556.8,164.2L557.6,164.2L557.6,163.2L558.4,163.2L558.4,164.0L559.2,164.0L559.2,166.5L560.0,166.5L560.0,164.1L560.8,164.1L560.8,163.4L561.6,163.4L561.6,164.4L562.4,164.4L562.4,165.2L563.2,165.2L563.2,164.0L564.0,164.0L564.0,161.3L564.8,161.3L564.8,160.9L565.6,160.9L565.6,160.7L566.4,160.7L566.4,161.6L567.2,161.6L567.2,161.7L568.0,161.7L568.0,162.6L568.8,162.6L568.8,161.4L569.6,161.4L569.6,167.0L570.4,167.0L570.4,168.1L571.2,168.1L571.2,164.4L572.0,164.4L572.0,167.1L572.8,167.1L572.8,165.8L573.6,165.8L573.6,168.8L574.4,168.8L574.4,168.9L575.2,168.9L575.2,171.9L576.0,171.9L576.0,170.3L576.8,170.3L576.8,172.7L577.6,172.7L577.6,173.6L578.4,173.6L578.4,170.7L579.2,170.7L579.2,172.3L580.0,172.3L580.0,168.4L580.8,168.4L580.8,171.3L581.6,171.3L581.6,170.3L582.4,170.3L582.4,169.0L583.2,169.0L583.2,164.3L584.0,164.3L584.0,163.1L584.8,163.1L584.8,163.0L585.6,163.0L585.6,161.7L586.4,161.7L586.4,159.8L587.2,159.8L587.2,160.0L588.0,160.0L588.0,159.3L588.8,159.3L588.8,159.9L589.6,159.9L589.6,159.8L590.4,159.8L590.4,159.8L591.2,159.8L591.2,159.5L592.0,159.5L592.0,159.7L592.8,159.7L592.8,159.6L593.6,159.6L593.6,159.3L594.4,159.3L594.4,160.0L595.2,160.0L595.2,159.9L596.0,159.9L596.0,159.2L596.8,159.2L596.8,163.6L597.6,163.6L597.6,166.5L598.4,166.5L598.4,163.5L599.2,163.5L599.2,169.0L600.0,169.0L600.0,166.3L600.8,166.3L600.8,165.4L601.6,165.4L601.6,167.3L602.4,167.3L602.4,169.1L603.2,169.1L603.2,168.5L604.0,168.5L604.0,168.0L604.8,168.0L604.8,164.5L605.6,164.5L605.6,166.6L606.4,166.6L606.4,164.8L607.2,164.8L607.2,164.5L608.0,164.5L608.0,163.4L608.8,163.4L608.8,163.0L609.6,163.0L609.6,163.7L610.4,163.7L610.4,162.3L611.2,162.3L611.2,162.6L612.0,162.6L612.0,162.9L612.8,162.9L612.8,159.3L613.6,159.3L613.6,159.7L614.4,159.7L614.4,160.0L615.2,160.0L615.2,159.6L616.0,159.6L616.0,159.9L616.8,159.9L616.8,159.4L617.6,159.4L617.6,158.1L618.4,158.1L618.4,158.1L619.2,158.1L619.2,158.1L620.0,158.1L620.0,158.1L620.8,158.1L620.8,158.1L621.6,158.1L621.6,158.1L622.4,158.1L622.4,158.1L623.2,158.1L623.2,158.1L624.0,158.1L624.0,158.1L624.8,158.1L624.8,166.5L625.6,166.5L625.6,163.7L626.4,163.7L626.4,165.9L627.2,165.9L627.2,165.4L628.0,165.4L628.0,163.2L628.8,163.2L628.8,163.6L629.6,163.6L629.6,162.5L630.4,162.5L630.4,161.5L631.2,161.5L631.2,159.9L632.0,159.9L632.0,159.5L632.8,159.5L632.8,159.2L633.6,159.2L633.6,159.7L634.4,159.7L634.4,159.2L635.2,159.2L635.2,159.2L636.0,159.2L636.0,159.8L636.8,159.8L636.8,160.1L637.6,160.1L637.6,161.3L638.4,161.3L638.4,161.3L639.2,161.3L639.2,161.1L640.0,161.1L640.0,161.9L640.8,161.9L640.8,162.0L641.6,162.0L641.6,162.6L642.4,162.6L642.4,161.5L643.2,161.5L643.2,161.0L644.0,161.0L644.0,161.3L644.8,161.3L644.8,160.8L645.6,160.8L645.6,161.6L646.4,161.6L646.4,168.0L647.2,168.0L647.2,167.3L648.0,167.3L648.0,165.0L648.8,165.0L648.8,165.2L649.6,165.2L649.6,163.7L650.4,163.7L650.4,164.0L651.2,164.0L651.2,165.4L651.8,165.4L651.8,157.2Z" fill="#4a8fce"/>
<path d="M88.0,158.0L88.0,153.0L88.8,153.0L88.8,152.4L89.6,152.4L89.6,152.2L90.4,152.2L90.4,155.6L91.2,155.6L91.2,155.5L92.0,155.5L92.0,155.6L92.8,155.6L92.8,155.6L93.6,155.6L93.6,156.0L94.4,156.0L94.4,154.5L95.2,154.5L95.2,154.2L96.0,154.2L96.0,153.1L96.8,153.1L96.8,154.7L97.6,154.7L97.6,154.0L98.4,154.0L98.4,151.9L99.2,151.9L99.2,151.5L100.0,151.5L100.0,151.9L100.8,151.9L100.8,153.6L101.6,153.6L101.6,153.5L102.4,153.5L102.4,154.2L103.2,154.2L103.2,154.9L104.0,154.9L104.0,153.6L104.8,153.6L104.8,156.0L105.6,156.0L105.6,156.3L106.4,156.3L106.4,156.0L107.2,156.0L107.2,156.0L108.0,156.0L108.0,155.9L108.8,155.9L108.8,156.5L109.6,156.5L109.6,156.5L110.4,156.5L110.4,149.3L111.2,149.3L111.2,151.2L112.0,151.2L112.0,154.2L112.8,154.2L112.8,154.7L113.6,154.7L113.6,153.1L114.4,153.1L114.4,147.4L115.2,147.4L115.2,147.7L116.0,147.7L116.0,143.4L116.8,143.4L116.8,145.3L117.6,145.3L117.6,142.8L118.4,142.8L118.4,145.3L119.2,145.3L119.2,142.1L120.0,142.1L120.0,145.1L120.8,145.1L120.8,146.4L121.6,146.4L121.6,145.2L122.4,145.2L122.4,144.1L123.2,144.1L123.2,145.1L124.0,145.1L124.0,144.3L124.8,144.3L124.8,142.8L125.6,142.8L125.6,136.0L126.4,136.0L126.4,138.4L127.2,138.4L127.2,142.2L128.0,142.2L128.0,140.8L128.8,140.8L128.8,140.3L129.6,140.3L129.6,141.5L130.4,141.5L130.4,141.1L131.2,141.1L131.2,143.4L132.0,143.4L132.0,142.2L132.8,142.2L132.8,144.4L133.6,144.4L133.6,143.8L134.4,143.8L134.4,142.5L135.2,142.5L135.2,139.7L136.0,139.7L136.0,148.6L136.8,148.6L136.8,149.5L137.6,149.5L137.6,150.4L138.4,150.4L138.4,152.1L139.2,152.1L139.2,152.5L140.0,152.5L140.0,152.0L140.8,152.0L140.8,151.7L141.6,151.7L141.6,153.8L142.4,153.8L142.4,155.0L143.2,155.0L143.2,153.5L144.0,153.5L144.0,147.7L144.8,147.7L144.8,149.0L145.6,149.0L145.6,148.9L146.4,148.9L146.4,155.1L147.2,155.1L147.2,154.8L148.0,154.8L148.0,155.1L148.8,155.1L148.8,155.0L149.6,155.0L149.6,151.0L150.4,151.0L150.4,152.7L151.2,152.7L151.2,151.1L152.0,151.1L152.0,153.1L152.8,153.1L152.8,153.9L153.6,153.9L153.6,147.2L154.4,147.2L154.4,152.8L155.2,152.8L155.2,152.7L156.0,152.7L156.0,152.8L156.8,152.8L156.8,152.6L157.6,152.6L157.6,153.9L158.4,153.9L158.4,151.8L159.2,151.8L159.2,149.5L160.0,149.5L160.0,149.7L160.8,149.7L160.8,149.3L161.6,149.3L161.6,151.5L162.4,151.5L162.4,151.1L163.2,151.1L163.2,151.0L164.0,151.0L164.0,156.6L164.8,156.6L164.8,156.4L165.6,156.4L165.6,156.1L166.4,156.1L166.4,156.6L167.2,156.6L167.2,156.4L168.0,156.4L168.0,156.2L168.8,156.2L168.8,156.5L169.6,156.5L169.6,156.5L170.4,156.5L170.4,156.3L171.2,156.3L171.2,156.6L172.0,156.6L172.0,156.0L172.8,156.0L172.8,156.3L173.6,156.3L173.6,156.6L174.4,156.6L174.4,156.3L175.2,156.3L175.2,156.4L176.0,156.4L176.0,154.8L176.8,154.8L176.8,155.6L177.6,155.6L177.6,155.2L178.4,155.2L178.4,155.6L179.2,155.6L179.2,154.9L180.0,154.9L180.0,150.4L180.8,150.4L180.8,149.3L181.6,149.3L181.6,154.1L182.4,154.1L182.4,154.3L183.2,154.3L183.2,154.1L184.0,154.1L184.0,154.6L184.8,154.6L184.8,147.7L185.6,147.7L185.6,148.2L186.4,148.2L186.4,151.8L187.2,151.8L187.2,144.8L188.0,144.8L188.0,146.3L188.8,146.3L188.8,145.6L189.6,145.6L189.6,152.2L190.4,152.2L190.4,153.5L191.2,153.5L191.2,153.3L192.0,153.3L192.0,152.2L192.8,152.2L192.8,153.0L193.6,153.0L193.6,152.3L194.4,152.3L194.4,153.4L195.2,153.4L195.2,154.2L196.0,154.2L196.0,153.1L196.8,153.1L196.8,156.1L197.6,156.1L197.6,156.3L198.4,156.3L198.4,156.4L199.2,156.4L199.2,156.0L200.0,156.0L200.0,156.4L200.8,156.4L200.8,155.9L201.6,155.9L201.6,155.3L202.4,155.3L202.4,156.0L203.2,156.0L203.2,155.4L204.0,155.4L204.0,155.4L204.8,155.4L204.8,155.5L205.6,155.5L205.6,152.5L206.4,152.5L206.4,153.3L207.2,153.3L207.2,152.4L208.0,152.4L208.0,152.8L208.8,152.8L208.8,152.3L209.6,152.3L209.6,153.8L210.4,153.8L210.4,154.1L211.2,154.1L211.2,146.4L212.0,146.4L212.0,147.5L212.8,147.5L212.8,154.6L213.6,154.6L213.6,153.7L214.4,153.7L214.4,153.7L215.2,153.7L215.2,154.0L216.0,154.0L216.0,150.4L216.8,150.4L216.8,149.1L217.6,149.1L217.6,149.1L218.4,149.1L218.4,149.0L219.2,149.0L219.2,151.7L220.0,151.7L220.0,150.1L220.8,150.1L220.8,147.8L221.6,147.8L221.6,147.9L222.4,147.9L222.4,150.2L223.2,150.2L223.2,142.2L224.0,142.2L224.0,149.5L224.8,149.5L224.8,148.2L225.6,148.2L225.6,141.4L226.4,141.4L226.4,142.3L227.2,142.3L227.2,145.8L228.0,145.8L228.0,148.1L228.8,148.1L228.8,154.4L229.6,154.4L229.6,153.8L230.4,153.8L230.4,154.2L231.2,154.2L231.2,156.1L232.0,156.1L232.0,156.1L232.8,156.1L232.8,156.6L233.6,156.6L233.6,156.6L234.4,156.6L234.4,156.7L235.2,156.7L235.2,155.9L236.0,155.9L236.0,156.5L236.8,156.5L236.8,156.6L237.6,156.6L237.6,156.5L238.4,156.5L238.4,156.4L239.2,156.4L239.2,156.6L240.0,156.6L240.0,153.9L240.8,153.9L240.8,154.3L241.6,154.3L241.6,151.6L242.4,151.6L242.4,149.5L243.2,149.5L243.2,150.9L244.0,150.9L244.0,150.4L244.8,150.4L244.8,151.7L245.6,151.7L245.6,151.4L246.4,151.4L246.4,154.4L247.2,154.4L247.2,155.5L248.0,155.5L248.0,154.3L248.8,154.3L248.8,155.3L249.6,155.3L249.6,155.7L250.4,155.7L250.4,156.0L251.2,156.0L251.2,155.5L252.0,155.5L252.0,155.8L252.8,155.8L252.8,155.9L253.6,155.9L253.6,156.4L254.4,156.4L254.4,155.9L255.2,155.9L255.2,155.0L256.0,155.0L256.0,155.2L256.8,155.2L256.8,155.2L257.6,155.2L257.6,156.1L258.4,156.1L258.4,156.0L259.2,156.0L259.2,155.8L260.0,155.8L260.0,155.3L260.8,155.3L260.8,155.5L261.6,155.5L261.6,155.8L262.4,155.8L262.4,156.1L263.2,156.1L263.2,155.8L264.0,155.8L264.0,155.4L264.8,155.4L264.8,155.5L265.6,155.5L265.6,143.6L266.4,143.6L266.4,144.8L267.2,144.8L267.2,154.7L268.0,154.7L268.0,155.7L268.8,155.7L268.8,155.3L269.6,155.3L269.6,155.6L270.4,155.6L270.4,155.3L271.2,155.3L271.2,151.6L272.0,151.6L272.0,152.3L272.8,152.3L272.8,151.7L273.6,151.7L273.6,153.6L274.4,153.6L274.4,154.5L275.2,154.5L275.2,154.5L276.0,154.5L276.0,155.2L276.8,155.2L276.8,156.2L277.6,156.2L277.6,156.2L278.4,156.2L278.4,155.9L279.2,155.9L279.2,156.5L280.0,156.5L280.0,156.5L280.8,156.5L280.8,155.9L281.6,155.9L281.6,156.7L282.4,156.7L282.4,156.5L283.2,156.5L283.2,155.2L284.0,155.2L284.0,154.8L284.8,154.8L284.8,155.7L285.6,155.7L285.6,155.5L286.4,155.5L286.4,155.0L287.2,155.0L287.2,155.9L288.0,155.9L288.0,156.0L288.8,156.0L288.8,155.7L289.6,155.7L289.6,155.1L290.4,155.1L290.4,155.4L291.2,155.4L291.2,149.1L292.0,149.1L292.0,151.3L292.8,151.3L292.8,149.5L293.6,149.5L293.6,148.0L294.4,148.0L294.4,150.2L295.2,150.2L295.2,150.9L296.0,150.9L296.0,141.5L296.8,141.5L296.8,142.9L297.6,142.9L297.6,151.3L298.4,151.3L298.4,152.5L299.2,152.5L299.2,152.5L300.0,152.5L300.0,146.6L300.8,146.6L300.8,145.4L301.6,145.4L301.6,146.9L302.4,146.9L302.4,154.7L303.2,154.7L303.2,153.9L304.0,153.9L304.0,153.7L304.8,153.7L304.8,149.5L305.6,149.5L305.6,149.6L306.4,149.6L306.4,152.4L307.2,152.4L307.2,151.5L308.0,151.5L308.0,148.7L308.8,148.7L308.8,146.2L309.6,146.2L309.6,149.5L310.4,149.5L310.4,149.4L311.2,149.4L311.2,148.3L312.0,148.3L312.0,149.0L312.8,149.0L312.8,152.9L313.6,152.9L313.6,154.5L314.4,154.5L314.4,153.6L315.2,153.6L315.2,152.9L316.0,152.9L316.0,156.0L316.8,156.0L316.8,156.0L317.6,156.0L317.6,155.6L318.4,155.6L318.4,155.5L319.2,155.5L319.2,155.9L320.0,155.9L320.0,155.7L320.8,155.7L320.8,155.8L321.6,155.8L321.6,156.1L322.4,156.1L322.4,156.1L323.2,156.1L323.2,156.2L324.0,156.2L324.0,155.7L324.8,155.7L324.8,155.5L325.6,155.5L325.6,155.6L326.4,155.6L326.4,155.8L327.2,155.8L327.2,156.1L328.0,156.1L328.0,155.4L328.8,155.4L328.8,155.7L329.6,155.7L329.6,154.8L330.4,154.8L330.4,155.5L331.2,155.5L331.2,155.4L332.0,155.4L332.0,155.0L332.8,155.0L332.8,154.9L333.6,154.9L333.6,155.3L334.4,155.3L334.4,154.8L335.2,154.8L335.2,155.4L336.0,155.4L336.0,155.4L336.8,155.4L336.8,156.0L337.6,156.0L337.6,147.8L338.4,147.8L338.4,146.6L339.2,146.6L339.2,152.3L340.0,152.3L340.0,152.3L340.8,152.3L340.8,153.3L341.6,153.3L341.6,151.9L342.4,151.9L342.4,147.3L343.2,147.3L343.2,145.7L344.0,145.7L344.0,146.6L344.8,146.6L344.8,152.7L345.6,152.7L345.6,152.1L346.4,152.1L346.4,151.0L347.2,151.0L347.2,148.4L348.0,148.4L348.0,146.6L348.8,146.6L348.8,146.4L349.6,146.4L349.6,153.7L350.4,153.7L350.4,153.5L351.2,153.5L351.2,154.2L352.0,154.2L352.0,148.9L352.8,148.9L352.8,149.8L353.6,149.8L353.6,155.5L354.4,155.5L354.4,155.8L355.2,155.8L355.2,155.3L356.0,155.3L356.0,155.4L356.8,155.4L356.8,152.0L357.6,152.0L357.6,153.4L358.4,153.4L358.4,153.3L359.2,153.3L359.2,153.6L360.0,153.6L360.0,153.6L360.8,153.6L360.8,153.9L361.6,153.9L361.6,153.4L362.4,153.4L362.4,154.5L363.2,154.5L363.2,147.7L364.0,147.7L364.0,150.2L364.8,150.2L364.8,152.5L365.6,152.5L365.6,154.0L366.4,154.0L366.4,152.9L367.2,152.9L367.2,152.7L368.0,152.7L368.0,152.7L368.8,152.7L368.8,152.6L369.6,152.6L369.6,153.5L370.4,153.5L370.4,153.0L371.2,153.0L371.2,152.0L372.0,152.0L372.0,155.7L372.8,155.7L372.8,155.3L373.6,155.3L373.6,156.1L374.4,156.1L374.4,155.8L375.2,155.8L375.2,156.1L376.0,156.1L376.0,156.1L376.8,156.1L376.8,147.1L377.6,147.1L377.6,148.4L378.4,148.4L378.4,148.4L379.2,148.4L379.2,147.8L380.0,147.8L380.0,153.6L380.8,153.6L380.8,153.3L381.6,153.3L381.6,145.4L382.4,145.4L382.4,146.0L383.2,146.0L383.2,145.7L384.0,145.7L384.0,144.2L384.8,144.2L384.8,142.5L385.6,142.5L385.6,143.5L386.4,143.5L386.4,139.7L387.2,139.7L387.2,139.9L388.0,139.9L388.0,142.0L388.8,142.0L388.8,139.8L389.6,139.8L389.6,140.5L390.4,140.5L390.4,140.0L391.2,140.0L391.2,139.0L392.0,139.0L392.0,136.8L392.8,136.8L392.8,136.4L393.6,136.4L393.6,136.7L394.4,136.7L394.4,140.0L395.2,140.0L395.2,138.7L396.0,138.7L396.0,140.3L396.8,140.3L396.8,140.6L397.6,140.6L397.6,141.7L398.4,141.7L398.4,139.9L399.2,139.9L399.2,140.1L400.0,140.1L400.0,155.4L400.8,155.4L400.8,155.8L401.6,155.8L401.6,156.4L402.4,156.4L402.4,155.4L403.2,155.4L403.2,155.7L404.0,155.7L404.0,155.5L404.8,155.5L404.8,156.4L405.6,156.4L405.6,155.4L406.4,155.4L406.4,156.3L407.2,156.3L407.2,155.4L408.0,155.4L408.0,155.6L408.8,155.6L408.8,155.2L409.6,155.2L409.6,154.7L410.4,154.7L410.4,154.3L411.2,154.3L411.2,154.4L412.0,154.4L412.0,153.6L412.8,153.6L412.8,154.8L413.6,154.8L413.6,154.3L414.4,154.3L414.4,154.8L415.2,154.8L415.2,153.8L416.0,153.8L416.0,155.0L416.8,155.0L416.8,153.8L417.6,153.8L417.6,153.6L418.4,153.6L418.4,154.2L419.2,154.2L419.2,153.6L420.0,153.6L420.0,153.9L420.8,153.9L420.8,153.8L421.6,153.8L421.6,150.1L422.4,150.1L422.4,150.3L423.2,150.3L423.2,152.4L424.0,152.4L424.0,150.8L424.8,150.8L424.8,149.8L425.6,149.8L425.6,148.5L426.4,148.5L426.4,148.4L427.2,148.4L427.2,149.0L428.0,149.0L428.0,154.7L428.8,154.7L428.8,154.3L429.6,154.3L429.6,155.5L430.4,155.5L430.4,154.4L431.2,154.4L431.2,154.3L432.0,154.3L432.0,154.7L432.8,154.7L432.8,152.7L433.6,152.7L433.6,153.1L434.4,153.1L434.4,154.4L435.2,154.4L435.2,156.6L436.0,156.6L436.0,156.4L436.8,156.4L436.8,156.0L437.6,156.0L437.6,152.0L438.4,152.0L438.4,151.8L439.2,151.8L439.2,150.6L440.0,150.6L440.0,151.2L440.8,151.2L440.8,150.9L441.6,150.9L441.6,149.0L442.4,149.0L442.4,152.5L443.2,152.5L443.2,153.2L444.0,153.2L444.0,153.7L444.8,153.7L444.8,153.7L445.6,153.7L445.6,148.4L446.4,148.4L446.4,148.5L447.2,148.5L447.2,155.2L448.0,155.2L448.0,155.7L448.8,155.7L448.8,155.8L449.6,155.8L449.6,156.2L450.4,156.2L450.4,156.1L451.2,156.1L451.2,152.4L452.0,152.4L452.0,150.8L452.8,150.8L452.8,152.4L453.6,152.4L453.6,154.0L454.4,154.0L454.4,154.8L455.2,154.8L455.2,153.7L456.0,153.7L456.0,150.3L456.8,150.3L456.8,148.9L457.6,148.9L457.6,156.2L458.4,156.2L458.4,156.6L459.2,156.6L459.2,151.5L460.0,151.5L460.0,153.7L460.8,153.7L460.8,152.6L461.6,152.6L461.6,152.7L462.4,152.7L462.4,150.9L463.2,150.9L463.2,148.9L464.0,148.9L464.0,143.0L464.8,143.0L464.8,143.9L465.6,143.9L465.6,143.2L466.4,143.2L466.4,145.2L467.2,145.2L467.2,148.6L468.0,148.6L468.0,150.9L468.8,150.9L468.8,148.8L469.6,148.8L469.6,155.0L470.4,155.0L470.4,155.6L471.2,155.6L471.2,157.5L472.0,157.5L472.0,157.7L472.8,157.7L472.8,157.6L473.6,157.6L473.6,157.6L474.4,157.6L474.4,157.7L475.2,157.7L475.2,157.7L476.0,157.7L476.0,157.7L476.8,157.7L476.8,157.6L477.6,157.6L477.6,157.7L478.4,157.7L478.4,155.4L479.2,155.4L479.2,155.2L480.0,155.2L480.0,154.4L480.8,154.4L480.8,149.0L481.6,149.0L481.6,148.8L482.4,148.8L482.4,153.0L483.2,153.0L483.2,151.5L484.0,151.5L484.0,151.9L484.8,151.9L484.8,152.6L485.6,152.6L485.6,153.5L486.4,153.5L486.4,149.8L487.2,149.8L487.2,152.0L488.0,152.0L488.0,150.8L488.8,150.8L488.8,144.9L489.6,144.9L489.6,145.8L490.4,145.8L490.4,146.9L491.2,146.9L491.2,146.7L492.0,146.7L492.0,152.1L492.8,152.1L492.8,151.9L493.6,151.9L493.6,148.7L494.4,148.7L494.4,148.5L495.2,148.5L495.2,152.0L496.0,152.0L496.0,149.7L496.8,149.7L496.8,150.5L497.6,150.5L497.6,152.3L498.4,152.3L498.4,149.7L499.2,149.7L499.2,152.4L500.0,152.4L500.0,150.0L500.8,150.0L500.8,151.3L501.6,151.3L501.6,150.6L502.4,150.6L502.4,144.9L503.2,144.9L503.2,145.3L504.0,145.3L504.0,150.2L504.8,150.2L504.8,150.0L505.6,150.0L505.6,150.6L506.4,150.6L506.4,145.7L507.2,145.7L507.2,145.8L508.0,145.8L508.0,155.0L508.8,155.0L508.8,155.7L509.6,155.7L509.6,155.1L510.4,155.1L510.4,157.5L511.2,157.5L511.2,157.4L512.0,157.4L512.0,157.3L512.8,157.3L512.8,155.8L513.6,155.8L513.6,155.7L514.4,155.7L514.4,155.8L515.2,155.8L515.2,156.1L516.0,156.1L516.0,156.1L516.8,156.1L516.8,155.6L517.6,155.6L517.6,155.7L518.4,155.7L518.4,154.5L519.2,154.5L519.2,154.2L520.0,154.2L520.0,154.3L520.8,154.3L520.8,154.9L521.6,154.9L521.6,154.2L522.4,154.2L522.4,153.9L523.2,153.9L523.2,153.2L524.0,153.2L524.0,153.7L524.8,153.7L524.8,151.7L525.6,151.7L525.6,153.1L526.4,153.1L526.4,152.2L527.2,152.2L527.2,144.5L528.0,144.5L528.0,144.7L528.8,144.7L528.8,144.0L529.6,144.0L529.6,152.4L530.4,152.4L530.4,152.0L531.2,152.0L531.2,152.1L532.0,152.1L532.0,152.3L532.8,152.3L532.8,151.1L533.6,151.1L533.6,150.8L534.4,150.8L534.4,152.3L535.2,152.3L535.2,152.6L536.0,152.6L536.0,151.9L536.8,151.9L536.8,155.4L537.6,155.4L537.6,155.2L538.4,155.2L538.4,154.9L539.2,154.9L539.2,155.3L540.0,155.3L540.0,155.7L540.8,155.7L540.8,157.4L541.6,157.4L541.6,157.4L542.4,157.4L542.4,157.5L543.2,157.5L543.2,157.3L544.0,157.3L544.0,153.9L544.8,153.9L544.8,154.0L545.6,154.0L545.6,154.2L546.4,154.2L546.4,154.8L547.2,154.8L547.2,155.6L548.0,155.6L548.0,155.2L548.8,155.2L548.8,155.9L549.6,155.9L549.6,155.6L550.4,155.6L550.4,154.9L551.2,154.9L551.2,155.2L552.0,155.2L552.0,155.9L552.8,155.9L552.8,156.0L553.6,156.0L553.6,155.5L554.4,155.5L554.4,156.0L555.2,156.0L555.2,151.9L556.0,151.9L556.0,152.4L556.8,152.4L556.8,153.8L557.6,153.8L557.6,153.2L558.4,153.2L558.4,153.4L559.2,153.4L559.2,153.9L560.0,153.9L560.0,152.3L560.8,152.3L560.8,153.4L561.6,153.4L561.6,153.7L562.4,153.7L562.4,152.4L563.2,152.4L563.2,145.0L564.0,145.0L564.0,143.8L564.8,143.8L564.8,149.3L565.6,149.3L565.6,151.6L566.4,151.6L566.4,148.7L567.2,148.7L567.2,149.3L568.0,149.3L568.0,149.1L568.8,149.1L568.8,143.5L569.6,143.5L569.6,143.8L570.4,143.8L570.4,151.9L571.2,151.9L571.2,152.1L572.0,152.1L572.0,150.6L572.8,150.6L572.8,150.3L573.6,150.3L573.6,152.9L574.4,152.9L574.4,155.4L575.2,155.4L575.2,156.0L576.0,156.0L576.0,155.7L576.8,155.7L576.8,156.1L577.6,156.1L577.6,155.2L578.4,155.2L578.4,155.4L579.2,155.4L579.2,155.8L580.0,155.8L580.0,155.2L580.8,155.2L580.8,155.6L581.6,155.6L581.6,155.4L582.4,155.4L582.4,155.1L583.2,155.1L583.2,156.2L584.0,156.2L584.0,151.1L584.8,151.1L584.8,150.0L585.6,150.0L585.6,145.7L586.4,145.7L586.4,145.2L587.2,145.2L587.2,147.4L588.0,147.4L588.0,145.4L588.8,145.4L588.8,141.8L589.6,141.8L589.6,145.0L590.4,145.0L590.4,140.6L591.2,140.6L591.2,141.3L592.0,141.3L592.0,138.9L592.8,138.9L592.8,139.8L593.6,139.8L593.6,139.7L594.4,139.7L594.4,137.7L595.2,137.7L595.2,138.5L596.0,138.5L596.0,137.3L596.8,137.3L596.8,154.8L597.6,154.8L597.6,154.3L598.4,154.3L598.4,151.9L599.2,151.9L599.2,152.1L600.0,152.1L600.0,150.7L600.8,150.7L600.8,156.3L601.6,156.3L601.6,155.7L602.4,155.7L602.4,156.2L603.2,156.2L603.2,156.3L604.0,156.3L604.0,153.8L604.8,153.8L604.8,152.3L605.6,152.3L605.6,152.7L606.4,152.7L606.4,150.4L607.2,150.4L607.2,153.2L608.0,153.2L608.0,154.2L608.8,154.2L608.8,152.9L609.6,152.9L609.6,151.4L610.4,151.4L610.4,151.7L611.2,151.7L611.2,148.4L612.0,148.4L612.0,149.0L612.8,149.0L612.8,147.7L613.6,147.7L613.6,149.0L614.4,149.0L614.4,148.3L615.2,148.3L615.2,149.2L616.0,149.2L616.0,149.3L616.8,149.3L616.8,144.0L617.6,144.0L617.6,147.5L618.4,147.5L618.4,150.1L619.2,150.1L619.2,148.2L620.0,148.2L620.0,149.3L620.8,149.3L620.8,145.0L621.6,145.0L621.6,144.2L622.4,144.2L622.4,145.8L623.2,145.8L623.2,145.2L624.0,145.2L624.0,143.2L624.8,143.2L624.8,156.6L625.6,156.6L625.6,156.3L626.4,156.3L626.4,156.4L627.2,156.4L627.2,156.3L628.0,156.3L628.0,156.6L628.8,156.6L628.8,149.7L629.6,149.7L629.6,147.7L630.4,147.7L630.4,148.9L631.2,148.9L631.2,144.9L632.0,144.9L632.0,146.7L632.8,146.7L632.8,142.7L633.6,142.7L633.6,140.9L634.4,140.9L634.4,143.5L635.2,143.5L635.2,139.2L636.0,139.2L636.0,141.7L636.8,141.7L636.8,139.0L637.6,139.0L637.6,156.2L638.4,156.2L638.4,156.0L639.2,156.0L639.2,156.4L640.0,156.4L640.0,155.5L640.8,155.5L640.8,155.7L641.6,155.7L641.6,152.5L642.4,152.5L642.4,151.3L643.2,151.3L643.2,150.4L644.0,150.4L644.0,150.5L644.8,150.5L644.8,147.3L645.6,147.3L645.6,144.4L646.4,144.4L646.4,150.7L647.2,150.7L647.2,150.4L648.0,150.4L648.0,151.8L648.8,151.8L648.8,151.2L649.6,151.2L649.6,154.0L650.4,154.0L650.4,152.8L651.2,152.8L651.2,152.7L651.8,152.7L651.8,158.0Z" fill="#33689a"/>
<path d="M88.0,254.5L88.0,256.3L88.8,256.3L88.8,256.8L89.6,256.8L89.6,256.9L90.4,256.9L90.4,256.5L91.2,256.5L91.2,256.9L92.0,256.9L92.0,256.6L92.8,256.6L92.8,256.7L93.6,256.7L93.6,256.9L94.4,256.9L94.4,256.4L95.2,256.4L95.2,256.3L96.0,256.3L96.0,256.4L96.8,256.4L96.8,256.3L97.6,256.3L97.6,256.6L98.4,256.6L98.4,256.4L99.2,256.4L99.2,256.3L100.0,256.3L100.0,256.5L100.8,256.5L100.8,257.8L101.6,257.8L101.6,258.4L102.4,258.4L102.4,257.3L103.2,257.3L103.2,258.1L104.0,258.1L104.0,258.4L104.8,258.4L104.8,260.4L105.6,260.4L105.6,259.1L106.4,259.1L106.4,259.1L107.2,259.1L107.2,259.6L108.0,259.6L108.0,260.7L108.8,260.7L108.8,264.2L109.6,264.2L109.6,263.5L110.4,263.5L110.4,266.3L111.2,266.3L111.2,265.7L112.0,265.7L112.0,261.0L112.8,261.0L112.8,259.6L113.6,259.6L113.6,258.8L114.4,258.8L114.4,256.0L115.2,256.0L115.2,256.0L116.0,256.0L116.0,256.1L116.8,256.1L116.8,255.8L117.6,255.8L117.6,256.1L118.4,256.1L118.4,255.9L119.2,255.9L119.2,255.8L120.0,255.8L120.0,256.0L120.8,256.0L120.8,256.1L121.6,256.1L121.6,256.0L122.4,256.0L122.4,256.1L123.2,256.1L123.2,256.0L124.0,256.0L124.0,256.0L124.8,256.0L124.8,255.8L125.6,255.8L125.6,256.1L126.4,256.1L126.4,256.0L127.2,256.0L127.2,255.9L128.0,255.9L128.0,255.9L128.8,255.9L128.8,256.0L129.6,256.0L129.6,256.1L130.4,256.1L130.4,256.2L131.2,256.2L131.2,256.0L132.0,256.0L132.0,256.0L132.8,256.0L132.8,257.4L133.6,257.4L133.6,256.8L134.4,256.8L134.4,257.6L135.2,257.6L135.2,257.1L136.0,257.1L136.0,255.3L136.8,255.3L136.8,255.3L137.6,255.3L137.6,255.3L138.4,255.3L138.4,255.3L139.2,255.3L139.2,255.3L140.0,255.3L140.0,255.3L140.8,255.3L140.8,255.3L141.6,255.3L141.6,255.3L142.4,255.3L142.4,255.3L143.2,255.3L143.2,255.3L144.0,255.3L144.0,257.4L144.8,257.4L144.8,257.4L145.6,257.4L145.6,257.5L146.4,257.5L146.4,257.5L147.2,257.5L147.2,257.1L148.0,257.1L148.0,257.3L148.8,257.3L148.8,257.5L149.6,257.5L149.6,256.8L150.4,256.8L150.4,257.4L151.2,257.4L151.2,257.2L152.0,257.2L152.0,256.9L152.8,256.9L152.8,257.0L153.6,257.0L153.6,261.2L154.4,261.2L154.4,260.9L155.2,260.9L155.2,260.6L156.0,260.6L156.0,261.5L156.8,261.5L156.8,260.8L157.6,260.8L157.6,262.6L158.4,262.6L158.4,265.1L159.2,265.1L159.2,264.5L160.0,264.5L160.0,263.5L160.8,263.5L160.8,262.9L161.6,262.9L161.6,263.4L162.4,263.4L162.4,260.9L163.2,260.9L163.2,263.2L164.0,263.2L164.0,261.5L164.8,261.5L164.8,261.2L165.6,261.2L165.6,263.4L166.4,263.4L166.4,263.6L167.2,263.6L167.2,264.1L168.0,264.1L168.0,261.9L168.8,261.9L168.8,264.1L169.6,264.1L169.6,263.1L170.4,263.1L170.4,261.7L171.2,261.7L171.2,262.1L172.0,262.1L172.0,262.2L172.8,262.2L172.8,259.9L173.6,259.9L173.6,261.6L174.4,261.6L174.4,261.5L175.2,261.5L175.2,261.7L176.0,261.7L176.0,262.6L176.8,262.6L176.8,265.0L177.6,265.0L177.6,263.9L178.4,263.9L178.4,266.4L179.2,266.4L179.2,263.9L180.0,263.9L180.0,263.5L180.8,263.5L180.8,263.5L181.6,263.5L181.6,266.7L182.4,266.7L182.4,263.2L183.2,263.2L183.2,258.3L184.0,258.3L184.0,259.0L184.8,259.0L184.8,258.3L185.6,258.3L185.6,257.6L186.4,257.6L186.4,257.5L187.2,257.5L187.2,260.4L188.0,260.4L188.0,261.0L188.8,261.0L188.8,261.4L189.6,261.4L189.6,261.0L190.4,261.0L190.4,264.9L191.2,264.9L191.2,262.4L192.0,262.4L192.0,263.5L192.8,263.5L192.8,262.2L193.6,262.2L193.6,261.3L194.4,261.3L194.4,258.2L195.2,258.2L195.2,257.7L196.0,257.7L196.0,257.3L196.8,257.3L196.8,258.0L197.6,258.0L197.6,259.6L198.4,259.6L198.4,261.5L199.2,261.5L199.2,262.5L200.0,262.5L200.0,264.7L200.8,264.7L200.8,263.5L201.6,263.5L201.6,261.5L202.4,261.5L202.4,264.2L203.2,264.2L203.2,262.2L204.0,262.2L204.0,262.8L204.8,262.8L204.8,259.4L205.6,259.4L205.6,259.4L206.4,259.4L206.4,257.9L207.2,257.9L207.2,257.9L208.0,257.9L208.0,258.9L208.8,258.9L208.8,255.9L209.6,255.9L209.6,255.8L210.4,255.8L210.4,255.8L211.2,255.8L211.2,256.0L212.0,256.0L212.0,255.8L212.8,255.8L212.8,255.9L213.6,255.9L213.6,255.9L214.4,255.9L214.4,255.9L215.2,255.9L215.2,255.9L216.0,255.9L216.0,255.9L216.8,255.9L216.8,255.8L217.6,255.8L217.6,255.9L218.4,255.9L218.4,255.8L219.2,255.8L219.2,255.8L220.0,255.8L220.0,255.8L220.8,255.8L220.8,255.9L221.6,255.9L221.6,255.9L222.4,255.9L222.4,255.9L223.2,255.9L223.2,255.8L224.0,255.8L224.0,256.0L224.8,256.0L224.8,255.9L225.6,255.9L225.6,256.0L226.4,256.0L226.4,255.9L227.2,255.9L227.2,255.8L228.0,255.8L228.0,264.1L228.8,264.1L228.8,262.8L229.6,262.8L229.6,262.0L230.4,262.0L230.4,262.8L231.2,262.8L231.2,262.6L232.0,262.6L232.0,263.3L232.8,263.3L232.8,261.2L233.6,261.2L233.6,264.0L234.4,264.0L234.4,262.7L235.2,262.7L235.2,262.4L236.0,262.4L236.0,259.3L236.8,259.3L236.8,259.7L237.6,259.7L237.6,261.2L238.4,261.2L238.4,261.6L239.2,261.6L239.2,262.1L240.0,262.1L240.0,262.2L240.8,262.2L240.8,261.4L241.6,261.4L241.6,256.7L242.4,256.7L242.4,256.7L243.2,256.7L243.2,257.6L244.0,257.6L244.0,257.3L244.8,257.3L244.8,257.5L245.6,257.5L245.6,257.4L246.4,257.4L246.4,257.3L247.2,257.3L247.2,257.1L248.0,257.1L248.0,257.4L248.8,257.4L248.8,257.2L249.6,257.2L249.6,257.2L250.4,257.2L250.4,257.1L251.2,257.1L251.2,257.4L252.0,257.4L252.0,257.6L252.8,257.6L252.8,262.4L253.6,262.4L253.6,262.5L254.4,262.5L254.4,259.9L255.2,259.9L255.2,261.3L256.0,261.3L256.0,260.8L256.8,260.8L256.8,262.1L257.6,262.1L257.6,263.4L258.4,263.4L258.4,261.4L259.2,261.4L259.2,261.4L260.0,261.4L260.0,264.1L260.8,264.1L260.8,264.5L261.6,264.5L261.6,263.5L262.4,263.5L262.4,264.3L263.2,264.3L263.2,264.9L264.0,264.9L264.0,261.8L264.8,261.8L264.8,259.9L265.6,259.9L265.6,255.9L266.4,255.9L266.4,255.8L267.2,255.8L267.2,256.0L268.0,256.0L268.0,255.9L268.8,255.9L268.8,255.8L269.6,255.8L269.6,256.0L270.4,256.0L270.4,255.8L271.2,255.8L271.2,255.9L272.0,255.9L272.0,256.0L272.8,256.0L272.8,256.0L273.6,256.0L273.6,255.8L274.4,255.8L274.4,255.8L275.2,255.8L275.2,256.0L276.0,256.0L276.0,267.0L276.8,267.0L276.8,266.2L277.6,266.2L277.6,267.0L278.4,267.0L278.4,267.3L279.2,267.3L279.2,267.2L280.0,267.2L280.0,265.8L280.8,265.8L280.8,267.0L281.6,267.0L281.6,265.2L282.4,265.2L282.4,267.8L283.2,267.8L283.2,268.1L284.0,268.1L284.0,265.6L284.8,265.6L284.8,265.9L285.6,265.9L285.6,268.1L286.4,268.1L286.4,267.9L287.2,267.9L287.2,265.6L288.0,265.6L288.0,267.6L288.8,267.6L288.8,266.6L289.6,266.6L289.6,265.2L290.4,265.2L290.4,267.9L291.2,267.9L291.2,263.2L292.0,263.2L292.0,264.4L292.8,264.4L292.8,263.5L293.6,263.5L293.6,265.5L294.4,265.5L294.4,262.9L295.2,262.9L295.2,265.1L296.0,265.1L296.0,261.3L296.8,261.3L296.8,263.1L297.6,263.1L297.6,264.0L298.4,264.0L298.4,261.6L299.2,261.6L299.2,263.9L300.0,263.9L300.0,261.4L300.8,261.4L300.8,260.9L301.6,260.9L301.6,259.6L302.4,259.6L302.4,255.8L303.2,255.8L303.2,256.0L304.0,256.0L304.0,256.0L304.8,256.0L304.8,255.9L305.6,255.9L305.6,255.8L306.4,255.8L306.4,256.0L307.2,256.0L307.2,255.8L308.0,255.8L308.0,256.0L308.8,256.0L308.8,255.8L309.6,255.8L309.6,255.9L310.4,255.9L310.4,255.8L311.2,255.8L311.2,255.8L312.0,255.8L312.0,255.9L312.8,255.9L312.8,255.9L313.6,255.9L313.6,255.9L314.4,255.9L314.4,255.8L315.2,255.8L315.2,257.1L316.0,257.1L316.0,257.1L316.8,257.1L316.8,257.1L317.6,257.1L317.6,256.9L318.4,256.9L318.4,261.5L319.2,261.5L319.2,259.8L320.0,259.8L320.0,256.8L320.8,256.8L320.8,256.9L321.6,256.9L321.6,257.0L322.4,257.0L322.4,256.9L323.2,256.9L323.2,257.2L324.0,257.2L324.0,257.5L324.8,257.5L324.8,257.0L325.6,257.0L325.6,257.0L326.4,257.0L326.4,257.5L327.2,257.5L327.2,257.5L328.0,257.5L328.0,255.9L328.8,255.9L328.8,256.0L329.6,256.0L329.6,255.8L330.4,255.8L330.4,257.4L331.2,257.4L331.2,257.3L332.0,257.3L332.0,256.8L332.8,256.8L332.8,257.3L333.6,257.3L333.6,257.1L334.4,257.1L334.4,257.3L335.2,257.3L335.2,257.6L336.0,257.6L336.0,257.3L336.8,257.3L336.8,262.9L337.6,262.9L337.6,264.6L338.4,264.6L338.4,262.6L339.2,262.6L339.2,259.8L340.0,259.8L340.0,261.1L340.8,261.1L340.8,262.1L341.6,262.1L341.6,261.3L342.4,261.3L342.4,261.9L343.2,261.9L343.2,261.5L344.0,261.5L344.0,261.6L344.8,261.6L344.8,262.0L345.6,262.0L345.6,262.2L346.4,262.2L346.4,260.8L347.2,260.8L347.2,261.8L348.0,261.8L348.0,261.1L348.8,261.1L348.8,260.6L349.6,260.6L349.6,260.4L350.4,260.4L350.4,260.1L351.2,260.1L351.2,260.3L352.0,260.3L352.0,259.9L352.8,259.9L352.8,261.7L353.6,261.7L353.6,261.4L354.4,261.4L354.4,261.8L355.2,261.8L355.2,256.6L356.0,256.6L356.0,257.0L356.8,257.0L356.8,256.6L357.6,256.6L357.6,256.8L358.4,256.8L358.4,256.6L359.2,256.6L359.2,257.2L360.0,257.2L360.0,257.2L360.8,257.2L360.8,256.7L361.6,256.7L361.6,256.6L362.4,256.6L362.4,256.8L363.2,256.8L363.2,257.6L364.0,257.6L364.0,256.9L364.8,256.9L364.8,257.5L365.6,257.5L365.6,257.4L366.4,257.4L366.4,259.5L367.2,259.5L367.2,261.7L368.0,261.7L368.0,259.3L368.8,259.3L368.8,259.5L369.6,259.5L369.6,260.0L370.4,260.0L370.4,260.1L371.2,260.1L371.2,260.5L372.0,260.5L372.0,264.0L372.8,264.0L372.8,263.7L373.6,263.7L373.6,267.0L374.4,267.0L374.4,266.8L375.2,266.8L375.2,264.5L376.0,264.5L376.0,260.7L376.8,260.7L376.8,260.6L377.6,260.6L377.6,259.8L378.4,259.8L378.4,260.9L379.2,260.9L379.2,260.6L380.0,260.6L380.0,255.9L380.8,255.9L380.8,255.9L381.6,255.9L381.6,255.8L382.4,255.8L382.4,255.8L383.2,255.8L383.2,255.9L384.0,255.9L384.0,255.9L384.8,255.9L384.8,255.8L385.6,255.8L385.6,256.0L386.4,256.0L386.4,255.9L387.2,255.9L387.2,255.8L388.0,255.8L388.0,256.0L388.8,256.0L388.8,255.9L389.6,255.9L389.6,255.8L390.4,255.8L390.4,255.9L391.2,255.9L391.2,255.8L392.0,255.8L392.0,255.8L392.8,255.8L392.8,256.0L393.6,256.0L393.6,255.9L394.4,255.9L394.4,255.9L395.2,255.9L395.2,255.9L396.0,255.9L396.0,255.9L396.8,255.9L396.8,256.9L397.6,256.9L397.6,256.9L398.4,256.9L398.4,256.8L399.2,256.8L399.2,257.6L400.0,257.6L400.0,257.6L400.8,257.6L400.8,257.0L401.6,257.0L401.6,256.8L402.4,256.8L402.4,257.6L403.2,257.6L403.2,257.1L404.0,257.1L404.0,257.4L404.8,257.4L404.8,257.0L405.6,257.0L405.6,256.8L406.4,256.8L406.4,257.0L407.2,257.0L407.2,260.8L408.0,260.8L408.0,263.7L408.8,263.7L408.8,266.6L409.6,266.6L409.6,261.6L410.4,261.6L410.4,261.4L411.2,261.4L411.2,262.5L412.0,262.5L412.0,262.9L412.8,262.9L412.8,262.2L413.6,262.2L413.6,265.0L414.4,265.0L414.4,263.1L415.2,263.1L415.2,262.7L416.0,262.7L416.0,262.5L416.8,262.5L416.8,264.1L417.6,264.1L417.6,265.5L418.4,265.5L418.4,264.2L419.2,264.2L419.2,266.4L420.0,266.4L420.0,264.5L420.8,264.5L420.8,264.1L421.6,264.1L421.6,260.9L422.4,260.9L422.4,260.6L423.2,260.6L423.2,260.6L424.0,260.6L424.0,261.3L424.8,261.3L424.8,256.0L425.6,256.0L425.6,256.5L426.4,256.5L426.4,256.9L427.2,256.9L427.2,256.4L428.0,256.4L428.0,256.8L428.8,256.8L428.8,256.8L429.6,256.8L429.6,256.7L430.4,256.7L430.4,256.6L431.2,256.6L431.2,256.5L432.0,256.5L432.0,256.4L432.8,256.4L432.8,256.9L433.6,256.9L433.6,256.3L434.4,256.3L434.4,256.4L435.2,256.4L435.2,256.4L436.0,256.4L436.0,256.5L436.8,256.5L436.8,260.1L437.6,260.1L437.6,260.5L438.4,260.5L438.4,259.0L439.2,259.0L439.2,261.0L440.0,261.0L440.0,262.6L440.8,262.6L440.8,263.0L441.6,263.0L441.6,262.6L442.4,262.6L442.4,264.1L443.2,264.1L443.2,263.2L444.0,263.2L444.0,266.3L444.8,266.3L444.8,265.6L445.6,265.6L445.6,266.4L446.4,266.4L446.4,264.5L447.2,264.5L447.2,264.1L448.0,264.1L448.0,263.1L448.8,263.1L448.8,260.4L449.6,260.4L449.6,262.5L450.4,262.5L450.4,261.2L451.2,261.2L451.2,262.6L452.0,262.6L452.0,261.4L452.8,261.4L452.8,269.0L453.6,269.0L453.6,268.0L454.4,268.0L454.4,259.9L455.2,259.9L455.2,261.8L456.0,261.8L456.0,260.6L456.8,260.6L456.8,257.0L457.6,257.0L457.6,257.6L458.4,257.6L458.4,257.4L459.2,257.4L459.2,257.2L460.0,257.2L460.0,256.9L460.8,256.9L460.8,257.7L461.6,257.7L461.6,257.1L462.4,257.1L462.4,256.8L463.2,256.8L463.2,256.9L464.0,256.9L464.0,257.6L464.8,257.6L464.8,256.8L465.6,256.8L465.6,257.0L466.4,257.0L466.4,257.4L467.2,257.4L467.2,257.3L468.0,257.3L468.0,257.7L468.8,257.7L468.8,261.4L469.6,261.4L469.6,261.1L470.4,261.1L470.4,261.5L471.2,261.5L471.2,262.5L472.0,262.5L472.0,261.2L472.8,261.2L472.8,261.7L473.6,261.7L473.6,264.7L474.4,264.7L474.4,263.7L475.2,263.7L475.2,263.4L476.0,263.4L476.0,261.3L476.8,261.3L476.8,259.7L477.6,259.7L477.6,256.8L478.4,256.8L478.4,256.6L479.2,256.6L479.2,256.8L480.0,256.8L480.0,256.7L480.8,256.7L480.8,256.4L481.6,256.4L481.6,256.9L482.4,256.9L482.4,256.9L483.2,256.9L483.2,256.5L484.0,256.5L484.0,256.8L484.8,256.8L484.8,256.9L485.6,256.9L485.6,256.3L486.4,256.3L486.4,256.5L487.2,256.5L487.2,256.8L488.0,256.8L488.0,260.6L488.8,260.6L488.8,258.9L489.6,258.9L489.6,258.8L490.4,258.8L490.4,260.3L491.2,260.3L491.2,259.9L492.0,259.9L492.0,266.1L492.8,266.1L492.8,264.1L493.6,264.1L493.6,265.9L494.4,265.9L494.4,263.5L495.2,263.5L495.2,267.5L496.0,267.5L496.0,267.8L496.8,267.8L496.8,267.5L497.6,267.5L497.6,266.4L498.4,266.4L498.4,265.2L499.2,265.2L499.2,263.1L500.0,263.1L500.0,266.4L500.8,266.4L500.8,265.9L501.6,265.9L501.6,261.6L502.4,261.6L502.4,261.7L503.2,261.7L503.2,260.4L504.0,260.4L504.0,260.2L504.8,260.2L504.8,259.9L505.6,259.9L505.6,262.0L506.4,262.0L506.4,261.2L507.2,261.2L507.2,262.4L508.0,262.4L508.0,256.9L508.8,256.9L508.8,256.8L509.6,256.8L509.6,257.0L510.4,257.0L510.4,257.6L511.2,257.6L511.2,257.7L512.0,257.7L512.0,257.5L512.8,257.5L512.8,259.5L513.6,259.5L513.6,260.5L514.4,260.5L514.4,260.4L515.2,260.4L515.2,258.3L516.0,258.3L516.0,257.8L516.8,257.8L516.8,259.0L517.6,259.0L517.6,258.2L518.4,258.2L518.4,258.6L519.2,258.6L519.2,259.0L520.0,259.0L520.0,258.4L520.8,258.4L520.8,259.0L521.6,259.0L521.6,258.8L522.4,258.8L522.4,258.6L523.2,258.6L523.2,261.6L524.0,261.6L524.0,259.3L524.8,259.3L524.8,259.6L525.6,259.6L525.6,260.2L526.4,260.2L526.4,260.4L527.2,260.4L527.2,260.9L528.0,260.9L528.0,260.7L528.8,260.7L528.8,261.0L529.6,261.0L529.6,262.0L530.4,262.0L530.4,263.2L531.2,263.2L531.2,262.7L532.0,262.7L532.0,265.2L532.8,265.2L532.8,266.6L533.6,266.6L533.6,267.2L534.4,267.2L534.4,265.2L535.2,265.2L535.2,262.7L536.0,262.7L536.0,262.6L536.8,262.6L536.8,266.3L537.6,266.3L537.6,263.4L538.4,263.4L538.4,266.5L539.2,266.5L539.2,262.9L540.0,262.9L540.0,263.5L540.8,263.5L540.8,261.1L541.6,261.1L541.6,269.5L542.4,269.5L542.4,271.2L543.2,271.2L543.2,265.5L544.0,265.5L544.0,265.1L544.8,265.1L544.8,262.9L545.6,262.9L545.6,277.1L546.4,277.1L546.4,275.8L547.2,275.8L547.2,277.7L548.0,277.7L548.0,266.1L548.8,266.1L548.8,265.6L549.6,265.6L549.6,265.8L550.4,265.8L550.4,266.0L551.2,266.0L551.2,261.8L552.0,261.8L552.0,263.0L552.8,263.0L552.8,260.3L553.6,260.3L553.6,258.5L554.4,258.5L554.4,258.3L555.2,258.3L555.2,257.3L556.0,257.3L556.0,258.4L556.8,258.4L556.8,258.0L557.6,258.0L557.6,258.1L558.4,258.1L558.4,258.0L559.2,258.0L559.2,257.3L560.0,257.3L560.0,259.0L560.8,259.0L560.8,259.2L561.6,259.2L561.6,258.8L562.4,258.8L562.4,260.0L563.2,260.0L563.2,256.9L564.0,256.9L564.0,256.5L564.8,256.5L564.8,256.9L565.6,256.9L565.6,256.3L566.4,256.3L566.4,256.4L567.2,256.4L567.2,256.7L568.0,256.7L568.0,261.0L568.8,261.0L568.8,260.4L569.6,260.4L569.6,260.5L570.4,260.5L570.4,263.7L571.2,263.7L571.2,263.0L572.0,263.0L572.0,263.5L572.8,263.5L572.8,264.4L573.6,264.4L573.6,264.5L574.4,264.5L574.4,259.3L575.2,259.3L575.2,258.3L576.0,258.3L576.0,259.0L576.8,259.0L576.8,258.1L577.6,258.1L577.6,258.7L578.4,258.7L578.4,258.1L579.2,258.1L579.2,258.6L580.0,258.6L580.0,262.6L580.8,262.6L580.8,262.3L581.6,262.3L581.6,267.4L582.4,267.4L582.4,267.6L583.2,267.6L583.2,269.9L584.0,269.9L584.0,263.6L584.8,263.6L584.8,263.9L585.6,263.9L585.6,262.9L586.4,262.9L586.4,260.0L587.2,260.0L587.2,259.3L588.0,259.3L588.0,261.0L588.8,261.0L588.8,259.0L589.6,259.0L589.6,259.9L590.4,259.9L590.4,260.2L591.2,260.2L591.2,259.8L592.0,259.8L592.0,259.4L592.8,259.4L592.8,260.4L593.6,260.4L593.6,260.6L594.4,260.6L594.4,260.2L595.2,260.2L595.2,257.5L596.0,257.5L596.0,256.8L596.8,256.8L596.8,258.3L597.6,258.3L597.6,259.7L598.4,259.7L598.4,259.4L599.2,259.4L599.2,262.2L600.0,262.2L600.0,264.4L600.8,264.4L600.8,262.1L601.6,262.1L601.6,262.6L602.4,262.6L602.4,263.0L603.2,263.0L603.2,261.5L604.0,261.5L604.0,262.2L604.8,262.2L604.8,262.5L605.6,262.5L605.6,262.2L606.4,262.2L606.4,263.4L607.2,263.4L607.2,263.7L608.0,263.7L608.0,264.0L608.8,264.0L608.8,262.5L609.6,262.5L609.6,262.4L610.4,262.4L610.4,262.9L611.2,262.9L611.2,263.4L612.0,263.4L612.0,263.0L612.8,263.0L612.8,256.2L613.6,256.2L613.6,256.0L614.4,256.0L614.4,256.1L615.2,256.1L615.2,256.0L616.0,256.0L616.0,256.1L616.8,256.1L616.8,257.7L617.6,257.7L617.6,257.7L618.4,257.7L618.4,257.2L619.2,257.2L619.2,257.9L620.0,257.9L620.0,257.0L620.8,257.0L620.8,258.0L621.6,258.0L621.6,257.8L622.4,257.8L622.4,257.5L623.2,257.5L623.2,256.9L624.0,256.9L624.0,256.5L624.8,256.5L624.8,256.4L625.6,256.4L625.6,256.4L626.4,256.4L626.4,256.9L627.2,256.9L627.2,256.7L628.0,256.7L628.0,259.4L628.8,259.4L628.8,259.3L629.6,259.3L629.6,259.4L630.4,259.4L630.4,258.6L631.2,258.6L631.2,255.9L632.0,255.9L632.0,256.3L632.8,256.3L632.8,256.0L633.6,256.0L633.6,256.1L634.4,256.1L634.4,256.1L635.2,256.1L635.2,256.1L636.0,256.1L636.0,256.0L636.8,256.0L636.8,256.1L637.6,256.1L637.6,262.3L638.4,262.3L638.4,261.3L639.2,261.3L639.2,262.4L640.0,262.4L640.0,262.9L640.8,262.9L640.8,263.5L641.6,263.5L641.6,260.3L642.4,260.3L642.4,259.6L643.2,259.6L643.2,259.0L644.0,259.0L644.0,258.2L644.8,258.2L644.8,257.9L645.6,257.9L645.6,257.4L646.4,257.4L646.4,256.5L647.2,256.5L647.2,256.6L648.0,256.6L648.0,256.3L648.8,256.3L648.8,256.8L649.6,256.8L649.6,256.6L650.4,256.6L650.4,256.3L651.2,256.3L651.2,256.5L651.8,256.5L651.8,254.5Z" fill="#4a8fce"/>
<path d="M88.0,255.3L88.0,236.9L88.8,236.9L88.8,238.1L89.6,238.1L89.6,249.1L90.4,249.1L90.4,252.8L91.2,252.8L91.2,252.6L92.0,252.6L92.0,252.0L92.8,252.0L92.8,251.9L93.6,251.9L93.6,252.6L94.4,252.6L94.4,252.5L95.2,252.5L95.2,247.5L96.0,247.5L96.0,246.1L96.8,246.1L96.8,247.6L97.6,247.6L97.6,248.0L98.4,248.0L98.4,247.4L99.2,247.4L99.2,243.3L100.0,243.3L100.0,241.4L100.8,241.4L100.8,251.4L101.6,251.4L101.6,250.1L102.4,250.1L102.4,250.8L103.2,250.8L103.2,249.9L104.0,249.9L104.0,249.6L104.8,249.6L104.8,249.9L105.6,249.9L105.6,251.8L106.4,251.8L106.4,252.0L107.2,252.0L107.2,253.0L108.0,253.0L108.0,251.8L108.8,251.8L108.8,252.0L109.6,252.0L109.6,254.5L110.4,254.5L110.4,254.6L111.2,254.6L111.2,254.5L112.0,254.5L112.0,254.5L112.8,254.5L112.8,245.4L113.6,245.4L113.6,246.5L114.4,246.5L114.4,238.2L115.2,238.2L115.2,237.3L116.0,237.3L116.0,240.3L116.8,240.3L116.8,238.2L117.6,238.2L117.6,242.1L118.4,242.1L118.4,247.7L119.2,247.7L119.2,246.8L120.0,246.8L120.0,247.1L120.8,247.1L120.8,243.1L121.6,243.1L121.6,244.4L122.4,244.4L122.4,247.5L123.2,247.5L123.2,247.0L124.0,247.0L124.0,248.3L124.8,248.3L124.8,246.1L125.6,246.1L125.6,243.1L126.4,243.1L126.4,244.9L127.2,244.9L127.2,247.4L128.0,247.4L128.0,247.3L128.8,247.3L128.8,249.8L129.6,249.8L129.6,250.4L130.4,250.4L130.4,251.1L131.2,251.1L131.2,246.0L132.0,246.0L132.0,247.4L132.8,247.4L132.8,245.9L133.6,245.9L133.6,248.5L134.4,248.5L134.4,248.4L135.2,248.4L135.2,249.1L136.0,249.1L136.0,243.9L136.8,243.9L136.8,245.3L137.6,245.3L137.6,244.0L138.4,244.0L138.4,244.4L139.2,244.4L139.2,243.3L140.0,243.3L140.0,248.3L140.8,248.3L140.8,246.7L141.6,246.7L141.6,248.7L142.4,248.7L142.4,246.2L143.2,246.2L143.2,249.7L144.0,249.7L144.0,248.7L144.8,248.7L144.8,249.7L145.6,249.7L145.6,252.0L146.4,252.0L146.4,252.6L147.2,252.6L147.2,252.8L148.0,252.8L148.0,252.2L148.8,252.2L148.8,248.7L149.6,248.7L149.6,249.1L150.4,249.1L150.4,249.1L151.2,249.1L151.2,252.2L152.0,252.2L152.0,251.9L152.8,251.9L152.8,252.6L153.6,252.6L153.6,248.1L154.4,248.1L154.4,245.1L155.2,245.1L155.2,252.2L156.0,252.2L156.0,252.2L156.8,252.2L156.8,252.0L157.6,252.0L157.6,252.8L158.4,252.8L158.4,252.2L159.2,252.2L159.2,244.1L160.0,244.1L160.0,242.4L160.8,242.4L160.8,243.6L161.6,243.6L161.6,254.6L162.4,254.6L162.4,254.5L163.2,254.5L163.2,254.5L164.0,254.5L164.0,254.6L164.8,254.6L164.8,252.1L165.6,252.1L165.6,254.7L166.4,254.7L166.4,254.6L167.2,254.6L167.2,254.6L168.0,254.6L168.0,254.6L168.8,254.6L168.8,254.5L169.6,254.5L169.6,254.5L170.4,254.5L170.4,254.5L171.2,254.5L171.2,254.5L172.0,254.5L172.0,254.5L172.8,254.5L172.8,254.5L173.6,254.5L173.6,254.6L174.4,254.6L174.4,254.6L175.2,254.6L175.2,254.7L176.0,254.7L176.0,254.7L176.8,254.7L176.8,254.6L177.6,254.6L177.6,254.7L178.4,254.7L178.4,254.7L179.2,254.7L179.2,254.7L180.0,254.7L180.0,254.5L180.8,254.5L180.8,249.0L181.6,249.0L181.6,250.7L182.4,250.7L182.4,251.0L183.2,251.0L183.2,252.4L184.0,252.4L184.0,251.8L184.8,251.8L184.8,252.6L185.6,252.6L185.6,247.1L186.4,247.1L186.4,242.8L187.2,242.8L187.2,243.2L188.0,243.2L188.0,245.8L188.8,245.8L188.8,247.8L189.6,247.8L189.6,249.7L190.4,249.7L190.4,252.5L191.2,252.5L191.2,252.2L192.0,252.2L192.0,251.9L192.8,251.9L192.8,251.9L193.6,251.9L193.6,255.0L194.4,255.0L194.4,255.0L195.2,255.0L195.2,255.0L196.0,255.0L196.0,248.1L196.8,248.1L196.8,247.9L197.6,247.9L197.6,253.5L198.4,253.5L198.4,253.6L199.2,253.6L199.2,252.0L200.0,252.0L200.0,252.0L200.8,252.0L200.8,252.4L201.6,252.4L201.6,252.0L202.4,252.0L202.4,252.5L203.2,252.5L203.2,252.1L204.0,252.1L204.0,252.5L204.8,252.5L204.8,254.9L205.6,254.9L205.6,255.0L206.4,255.0L206.4,255.0L207.2,255.0L207.2,255.0L208.0,255.0L208.0,249.5L208.8,249.5L208.8,250.5L209.6,250.5L209.6,246.5L210.4,246.5L210.4,247.2L211.2,247.2L211.2,247.4L212.0,247.4L212.0,245.7L212.8,245.7L212.8,248.1L213.6,248.1L213.6,245.7L214.4,245.7L214.4,246.5L215.2,246.5L215.2,247.5L216.0,247.5L216.0,247.6L216.8,247.6L216.8,247.6L217.6,247.6L217.6,248.3L218.4,248.3L218.4,249.1L219.2,249.1L219.2,248.3L220.0,248.3L220.0,248.6L220.8,248.6L220.8,247.3L221.6,247.3L221.6,246.6L222.4,246.6L222.4,245.8L223.2,245.8L223.2,241.5L224.0,241.5L224.0,241.1L224.8,241.1L224.8,247.0L225.6,247.0L225.6,247.7L226.4,247.7L226.4,245.7L227.2,245.7L227.2,244.6L228.0,244.6L228.0,255.0L228.8,255.0L228.8,255.0L229.6,255.0L229.6,255.0L230.4,255.0L230.4,255.0L231.2,255.0L231.2,255.1L232.0,255.1L232.0,254.9L232.8,254.9L232.8,255.0L233.6,255.0L233.6,255.0L234.4,255.0L234.4,255.0L235.2,255.0L235.2,255.0L236.0,255.0L236.0,252.7L236.8,252.7L236.8,252.9L237.6,252.9L237.6,252.5L238.4,252.5L238.4,254.9L239.2,254.9L239.2,255.0L240.0,255.0L240.0,255.0L240.8,255.0L240.8,252.0L241.6,252.0L241.6,251.9L242.4,251.9L242.4,252.2L243.2,252.2L243.2,252.3L244.0,252.3L244.0,251.9L244.8,251.9L244.8,253.0L245.6,253.0L245.6,252.1L246.4,252.1L246.4,252.3L247.2,252.3L247.2,252.8L248.0,252.8L248.0,252.7L248.8,252.7L248.8,252.2L249.6,252.2L249.6,252.8L250.4,252.8L250.4,251.9L251.2,251.9L251.2,252.6L252.0,252.6L252.0,255.0L252.8,255.0L252.8,255.0L253.6,255.0L253.6,255.0L254.4,255.0L254.4,255.0L255.2,255.0L255.2,255.0L256.0,255.0L256.0,255.0L256.8,255.0L256.8,255.0L257.6,255.0L257.6,255.0L258.4,255.0L258.4,255.0L259.2,255.0L259.2,255.0L260.0,255.0L260.0,255.0L260.8,255.0L260.8,255.0L261.6,255.0L261.6,255.0L262.4,255.0L262.4,255.0L263.2,255.0L263.2,255.0L264.0,255.0L264.0,254.9L264.8,254.9L264.8,255.0L265.6,255.0L265.6,237.4L266.4,237.4L266.4,240.1L267.2,240.1L267.2,244.7L268.0,244.7L268.0,244.4L268.8,244.4L268.8,247.8L269.6,247.8L269.6,249.4L270.4,249.4L270.4,249.8L271.2,249.8L271.2,249.7L272.0,249.7L272.0,249.9L272.8,249.9L272.8,246.8L273.6,246.8L273.6,249.5L274.4,249.5L274.4,249.1L275.2,249.1L275.2,250.9L276.0,250.9L276.0,255.0L276.8,255.0L276.8,255.0L277.6,255.0L277.6,252.4L278.4,252.4L278.4,251.9L279.2,251.9L279.2,252.7L280.0,252.7L280.0,252.6L280.8,252.6L280.8,252.1L281.6,252.1L281.6,252.1L282.4,252.1L282.4,252.2L283.2,252.2L283.2,255.0L284.0,255.0L284.0,254.9L284.8,254.9L284.8,255.0L285.6,255.0L285.6,255.0L286.4,255.0L286.4,255.0L287.2,255.0L287.2,255.0L288.0,255.0L288.0,254.9L288.8,254.9L288.8,255.0L289.6,255.0L289.6,255.0L290.4,255.0L290.4,255.0L291.2,255.0L291.2,255.0L292.0,255.0L292.0,252.5L292.8,252.5L292.8,252.9L293.6,252.9L293.6,255.0L294.4,255.0L294.4,255.0L295.2,255.0L295.2,249.7L296.0,249.7L296.0,249.0L296.8,249.0L296.8,248.7L297.6,248.7L297.6,253.3L298.4,253.3L298.4,253.3L299.2,253.3L299.2,253.1L300.0,253.1L300.0,253.1L300.8,253.1L300.8,249.9L301.6,249.9L301.6,246.9L302.4,246.9L302.4,248.3L303.2,248.3L303.2,249.1L304.0,249.1L304.0,248.9L304.8,248.9L304.8,250.1L305.6,250.1L305.6,252.4L306.4,252.4L306.4,252.9L307.2,252.9L307.2,252.6L308.0,252.6L308.0,252.6L308.8,252.6L308.8,252.4L309.6,252.4L309.6,242.8L310.4,242.8L310.4,248.9L311.2,248.9L311.2,240.0L312.0,240.0L312.0,237.4L312.8,237.4L312.8,252.1L313.6,252.1L313.6,252.8L314.4,252.8L314.4,255.0L315.2,255.0L315.2,255.0L316.0,255.0L316.0,255.0L316.8,255.0L316.8,254.9L317.6,254.9L317.6,255.0L318.4,255.0L318.4,255.1L319.2,255.1L319.2,255.0L320.0,255.0L320.0,250.4L320.8,250.4L320.8,248.9L321.6,248.9L321.6,255.0L322.4,255.0L322.4,255.0L323.2,255.0L323.2,255.0L324.0,255.0L324.0,245.5L324.8,245.5L324.8,255.0L325.6,255.0L325.6,255.0L326.4,255.0L326.4,254.9L327.2,254.9L327.2,255.0L328.0,255.0L328.0,255.0L328.8,255.0L328.8,255.0L329.6,255.0L329.6,255.0L330.4,255.0L330.4,255.0L331.2,255.0L331.2,255.0L332.0,255.0L332.0,252.9L332.8,252.9L332.8,252.6L333.6,252.6L333.6,252.8L334.4,252.8L334.4,252.8L335.2,252.8L335.2,253.7L336.0,253.7L336.0,253.1L336.8,253.1L336.8,253.2L337.6,253.2L337.6,238.4L338.4,238.4L338.4,240.6L339.2,240.6L339.2,253.5L340.0,253.5L340.0,253.2L340.8,253.2L340.8,253.1L341.6,253.1L341.6,253.0L342.4,253.0L342.4,250.0L343.2,250.0L343.2,250.8L344.0,250.8L344.0,250.7L344.8,250.7L344.8,249.2L345.6,249.2L345.6,252.9L346.4,252.9L346.4,252.8L347.2,252.8L347.2,247.6L348.0,247.6L348.0,252.0L348.8,252.0L348.8,252.2L349.6,252.2L349.6,252.3L350.4,252.3L350.4,251.9L351.2,251.9L351.2,245.2L352.0,245.2L352.0,245.1L352.8,245.1L352.8,244.0L353.6,244.0L353.6,255.0L354.4,255.0L354.4,255.0L355.2,255.0L355.2,254.9L356.0,254.9L356.0,255.0L356.8,255.0L356.8,245.5L357.6,245.5L357.6,244.5L358.4,244.5L358.4,252.1L359.2,252.1L359.2,252.2L360.0,252.2L360.0,254.9L360.8,254.9L360.8,255.0L361.6,255.0L361.6,255.0L362.4,255.0L362.4,255.1L363.2,255.1L363.2,251.4L364.0,251.4L364.0,251.5L364.8,251.5L364.8,252.3L365.6,252.3L365.6,252.6L366.4,252.6L366.4,249.0L367.2,249.0L367.2,248.9L368.0,248.9L368.0,249.5L368.8,249.5L368.8,246.2L369.6,246.2L369.6,249.1L370.4,249.1L370.4,250.5L371.2,250.5L371.2,250.2L372.0,250.2L372.0,253.0L372.8,253.0L372.8,253.1L373.6,253.1L373.6,247.1L374.4,247.1L374.4,246.7L375.2,246.7L375.2,253.6L376.0,253.6L376.0,253.2L376.8,253.2L376.8,253.4L377.6,253.4L377.6,248.4L378.4,248.4L378.4,246.0L379.2,246.0L379.2,246.3L380.0,246.3L380.0,250.8L380.8,250.8L380.8,250.4L381.6,250.4L381.6,249.1L382.4,249.1L382.4,247.8L383.2,247.8L383.2,247.5L384.0,247.5L384.0,249.6L384.8,249.6L384.8,249.3L385.6,249.3L385.6,250.8L386.4,250.8L386.4,249.5L387.2,249.5L387.2,250.0L388.0,250.0L388.0,245.9L388.8,245.9L388.8,247.9L389.6,247.9L389.6,245.9L390.4,245.9L390.4,241.6L391.2,241.6L391.2,248.5L392.0,248.5L392.0,248.8L392.8,248.8L392.8,248.1L393.6,248.1L393.6,248.0L394.4,248.0L394.4,246.6L395.2,246.6L395.2,243.2L396.0,243.2L396.0,241.2L396.8,241.2L396.8,240.7L397.6,240.7L397.6,243.0L398.4,243.0L398.4,243.1L399.2,243.1L399.2,237.7L400.0,237.7L400.0,248.8L400.8,248.8L400.8,247.7L401.6,247.7L401.6,246.5L402.4,246.5L402.4,246.3L403.2,246.3L403.2,247.3L404.0,247.3L404.0,246.8L404.8,246.8L404.8,251.6L405.6,251.6L405.6,251.9L406.4,251.9L406.4,244.3L407.2,244.3L407.2,242.8L408.0,242.8L408.0,255.0L408.8,255.0L408.8,255.0L409.6,255.0L409.6,255.0L410.4,255.0L410.4,255.0L411.2,255.0L411.2,252.5L412.0,252.5L412.0,252.7L412.8,252.7L412.8,252.4L413.6,252.4L413.6,252.6L414.4,252.6L414.4,252.1L415.2,252.1L415.2,252.2L416.0,252.2L416.0,251.9L416.8,251.9L416.8,255.0L417.6,255.0L417.6,255.0L418.4,255.0L418.4,255.0L419.2,255.0L419.2,249.4L420.0,249.4L420.0,249.8L420.8,249.8L420.8,247.6L421.6,247.6L421.6,247.5L422.4,247.5L422.4,247.7L423.2,247.7L423.2,248.2L424.0,248.2L424.0,248.6L424.8,248.6L424.8,237.7L425.6,237.7L425.6,239.0L426.4,239.0L426.4,244.9L427.2,244.9L427.2,242.5L428.0,242.5L428.0,244.0L428.8,244.0L428.8,249.5L429.6,249.5L429.6,250.6L430.4,250.6L430.4,250.4L431.2,250.4L431.2,252.1L432.0,252.1L432.0,252.0L432.8,252.0L432.8,252.5L433.6,252.5L433.6,250.3L434.4,250.3L434.4,248.6L435.2,248.6L435.2,253.0L436.0,253.0L436.0,252.3L436.8,252.3L436.8,252.3L437.6,252.3L437.6,252.4L438.4,252.4L438.4,251.9L439.2,251.9L439.2,245.7L440.0,245.7L440.0,243.1L440.8,243.1L440.8,242.4L441.6,242.4L441.6,248.1L442.4,248.1L442.4,247.2L443.2,247.2L443.2,248.7L444.0,248.7L444.0,251.9L444.8,251.9L444.8,248.3L445.6,248.3L445.6,247.6L446.4,247.6L446.4,245.4L447.2,245.4L447.2,251.9L448.0,251.9L448.0,252.7L448.8,252.7L448.8,249.6L449.6,249.6L449.6,250.5L450.4,250.5L450.4,251.0L451.2,251.0L451.2,249.5L452.0,249.5L452.0,243.5L452.8,243.5L452.8,243.4L453.6,243.4L453.6,252.5L454.4,252.5L454.4,252.2L455.2,252.2L455.2,252.7L456.0,252.7L456.0,239.8L456.8,239.8L456.8,242.6L457.6,242.6L457.6,249.3L458.4,249.3L458.4,249.2L459.2,249.2L459.2,244.3L460.0,244.3L460.0,244.4L460.8,244.4L460.8,245.6L461.6,245.6L461.6,237.2L462.4,237.2L462.4,239.1L463.2,239.1L463.2,248.4L464.0,248.4L464.0,246.2L464.8,246.2L464.8,247.3L465.6,247.3L465.6,246.7L466.4,246.7L466.4,238.1L467.2,238.1L467.2,245.8L468.0,245.8L468.0,243.0L468.8,243.0L468.8,244.1L469.6,244.1L469.6,252.2L470.4,252.2L470.4,252.2L471.2,252.2L471.2,255.0L472.0,255.0L472.0,255.0L472.8,255.0L472.8,255.1L473.6,255.1L473.6,255.0L474.4,255.0L474.4,255.0L475.2,255.0L475.2,255.0L476.0,255.0L476.0,255.0L476.8,255.0L476.8,249.6L477.6,249.6L477.6,251.8L478.4,251.8L478.4,252.5L479.2,252.5L479.2,252.5L480.0,252.5L480.0,239.0L480.8,239.0L480.8,238.9L481.6,238.9L481.6,253.0L482.4,253.0L482.4,252.8L483.2,252.8L483.2,252.3L484.0,252.3L484.0,252.8L484.8,252.8L484.8,252.3L485.6,252.3L485.6,241.8L486.4,241.8L486.4,240.7L487.2,240.7L487.2,243.3L488.0,243.3L488.0,252.3L488.8,252.3L488.8,248.1L489.6,248.1L489.6,246.3L490.4,246.3L490.4,255.0L491.2,255.0L491.2,255.0L492.0,255.0L492.0,255.0L492.8,255.0L492.8,255.0L493.6,255.0L493.6,255.0L494.4,255.0L494.4,255.1L495.2,255.1L495.2,254.9L496.0,254.9L496.0,255.0L496.8,255.0L496.8,252.3L497.6,252.3L497.6,255.0L498.4,255.0L498.4,255.0L499.2,255.0L499.2,255.0L500.0,255.0L500.0,255.0L500.8,255.0L500.8,255.0L501.6,255.0L501.6,251.7L502.4,251.7L502.4,251.3L503.2,251.3L503.2,251.4L504.0,251.4L504.0,248.7L504.8,248.7L504.8,249.7L505.6,249.7L505.6,250.1L506.4,250.1L506.4,242.7L507.2,242.7L507.2,244.3L508.0,244.3L508.0,255.1L508.8,255.1L508.8,255.0L509.6,255.0L509.6,255.0L510.4,255.0L510.4,254.9L511.2,254.9L511.2,255.0L512.0,255.0L512.0,255.0L512.8,255.0L512.8,255.0L513.6,255.0L513.6,255.0L514.4,255.0L514.4,255.0L515.2,255.0L515.2,255.1L516.0,255.1L516.0,254.9L516.8,254.9L516.8,255.0L517.6,255.0L517.6,255.0L518.4,255.0L518.4,255.0L519.2,255.0L519.2,252.0L520.0,252.0L520.0,252.3L520.8,252.3L520.8,252.8L521.6,252.8L521.6,249.4L522.4,249.4L522.4,249.3L523.2,249.3L523.2,250.6L524.0,250.6L524.0,248.8L524.8,248.8L524.8,248.9L525.6,248.9L525.6,248.6L526.4,248.6L526.4,242.2L527.2,242.2L527.2,240.6L528.0,240.6L528.0,240.4L528.8,240.4L528.8,255.0L529.6,255.0L529.6,255.0L530.4,255.0L530.4,255.0L531.2,255.0L531.2,254.9L532.0,254.9L532.0,255.0L532.8,255.0L532.8,252.9L533.6,252.9L533.6,252.0L534.4,252.0L534.4,255.0L535.2,255.0L535.2,255.0L536.0,255.0L536.0,255.1L536.8,255.1L536.8,255.0L537.6,255.0L537.6,249.0L538.4,249.0L538.4,249.4L539.2,249.4L539.2,252.5L540.0,252.5L540.0,252.6L540.8,252.6L540.8,252.4L541.6,252.4L541.6,252.9L542.4,252.9L542.4,253.0L543.2,253.0L543.2,253.2L544.0,253.2L544.0,249.3L544.8,249.3L544.8,244.6L545.6,244.6L545.6,247.7L546.4,247.7L546.4,245.7L547.2,245.7L547.2,249.8L548.0,249.8L548.0,250.8L548.8,250.8L548.8,249.5L549.6,249.5L549.6,252.5L550.4,252.5L550.4,252.7L551.2,252.7L551.2,252.2L552.0,252.2L552.0,252.2L552.8,252.2L552.8,252.3L553.6,252.3L553.6,252.8L554.4,252.8L554.4,253.2L555.2,253.2L555.2,248.1L556.0,248.1L556.0,246.2L556.8,246.2L556.8,247.4L557.6,247.4L557.6,249.5L558.4,249.5L558.4,250.6L559.2,250.6L559.2,250.9L560.0,250.9L560.0,249.6L560.8,249.6L560.8,251.0L561.6,251.0L561.6,249.5L562.4,249.5L562.4,250.9L563.2,250.9L563.2,241.1L564.0,241.1L564.0,238.1L564.8,238.1L564.8,244.4L565.6,244.4L565.6,243.5L566.4,243.5L566.4,252.4L567.2,252.4L567.2,252.7L568.0,252.7L568.0,247.3L568.8,247.3L568.8,248.1L569.6,248.1L569.6,247.0L570.4,247.0L570.4,248.7L571.2,248.7L571.2,252.7L572.0,252.7L572.0,252.8L572.8,252.8L572.8,252.5L573.6,252.5L573.6,252.5L574.4,252.5L574.4,248.2L575.2,248.2L575.2,245.7L576.0,245.7L576.0,246.7L576.8,246.7L576.8,247.8L577.6,247.8L577.6,247.8L578.4,247.8L578.4,242.8L579.2,242.8L579.2,240.6L580.0,240.6L580.0,241.8L580.8,241.8L580.8,245.2L581.6,245.2L581.6,246.6L582.4,246.6L582.4,245.5L583.2,245.5L583.2,244.8L584.0,244.8L584.0,245.8L584.8,245.8L584.8,246.3L585.6,246.3L585.6,245.0L586.4,245.0L586.4,248.7L587.2,248.7L587.2,248.5L588.0,248.5L588.0,250.0L588.8,250.0L588.8,248.6L589.6,248.6L589.6,249.1L590.4,249.1L590.4,249.8L591.2,249.8L591.2,250.2L592.0,250.2L592.0,245.5L592.8,245.5L592.8,243.4L593.6,243.4L593.6,244.1L594.4,244.1L594.4,247.4L595.2,247.4L595.2,247.2L596.0,247.2L596.0,245.2L596.8,245.2L596.8,245.2L597.6,245.2L597.6,250.3L598.4,250.3L598.4,250.9L599.2,250.9L599.2,249.6L600.0,249.6L600.0,249.9L600.8,249.9L600.8,255.0L601.6,255.0L601.6,255.0L602.4,255.0L602.4,255.0L603.2,255.0L603.2,248.3L604.0,248.3L604.0,246.9L604.8,246.9L604.8,255.0L605.6,255.0L605.6,251.5L606.4,251.5L606.4,251.6L607.2,251.6L607.2,251.6L608.0,251.6L608.0,252.2L608.8,252.2L608.8,251.7L609.6,251.7L609.6,255.0L610.4,255.0L610.4,255.0L611.2,255.0L611.2,255.0L612.0,255.0L612.0,237.5L612.8,237.5L612.8,237.9L613.6,237.9L613.6,241.2L614.4,241.2L614.4,242.2L615.2,242.2L615.2,241.3L616.0,241.3L616.0,240.7L616.8,240.7L616.8,241.3L617.6,241.3L617.6,240.4L618.4,240.4L618.4,242.5L619.2,242.5L619.2,240.4L620.0,240.4L620.0,241.1L620.8,241.1L620.8,237.6L621.6,237.6L621.6,239.0L622.4,239.0L622.4,243.2L623.2,243.2L623.2,243.6L624.0,243.6L624.0,244.2L624.8,244.2L624.8,238.0L625.6,238.0L625.6,253.2L626.4,253.2L626.4,252.6L627.2,252.6L627.2,253.0L628.0,253.0L628.0,248.5L628.8,248.5L628.8,248.9L629.6,248.9L629.6,245.0L630.4,245.0L630.4,244.0L631.2,244.0L631.2,245.8L632.0,245.8L632.0,249.0L632.8,249.0L632.8,249.2L633.6,249.2L633.6,244.1L634.4,244.1L634.4,242.3L635.2,242.3L635.2,237.4L636.0,237.4L636.0,237.6L636.8,237.6L636.8,239.6L637.6,239.6L637.6,253.7L638.4,253.7L638.4,253.2L639.2,253.2L639.2,253.5L640.0,253.5L640.0,253.5L640.8,253.5L640.8,253.2L641.6,253.2L641.6,253.5L642.4,253.5L642.4,244.6L643.2,244.6L643.2,246.9L644.0,246.9L644.0,241.7L644.8,241.7L644.8,240.6L645.6,240.6L645.6,239.5L646.4,239.5L646.4,250.1L647.2,250.1L647.2,249.0L648.0,249.0L648.0,249.5L648.8,249.5L648.8,249.6L649.6,249.6L649.6,242.5L650.4,242.5L650.4,243.5L651.2,243.5L651.2,242.6L651.8,242.6L651.8,255.3Z" fill="#33689a"/>
<path d="M89.5,359.2L90.3,359.2L90.3,359.2L91.1,359.2L91.1,359.7L91.9,359.7L91.9,359.5L92.7,359.5L92.7,359.1L93.5,359.1L93.5,359.0L94.3,359.0L94.3,359.4L95.1,359.4L95.1,359.2L95.9,359.2L95.9,359.6L96.7,359.6L96.7,359.8L97.5,359.8L97.5,359.6L98.3,359.6L98.3,359.8L99.1,359.8L99.1,359.7L99.9,359.7L99.9,359.7L100.7,359.7L100.7,355.1L101.5,355.1L101.5,356.1L102.3,356.1L102.3,356.1L103.1,356.1L103.1,355.5L103.9,355.5L103.9,355.0L104.7,355.0L104.7,355.6L105.5,355.6L105.5,357.7L106.3,357.7L106.3,356.8L107.1,356.8L107.1,355.6L107.9,355.6L107.9,355.9L108.7,355.9L108.7,355.0L109.5,355.0L109.5,355.3L110.3,355.3L110.3,359.8L111.1,359.8L111.1,359.6L111.9,359.6L111.9,359.5L112.7,359.5L112.7,358.3L113.5,358.3L113.5,358.8L114.3,358.8L114.3,358.5L115.1,358.5L115.1,354.5L115.9,354.5L115.9,355.0L116.7,355.0L116.7,357.4L117.5,357.4L117.5,357.1L118.3,357.1L118.3,358.9L119.1,358.9L119.1,358.7L119.9,358.7L119.9,359.2L120.7,359.2L120.7,358.8L121.5,358.8L121.5,359.1L122.3,359.1L122.3,357.9L123.1,357.9L123.1,358.6L123.9,358.6L123.9,358.3L124.7,358.3L124.7,358.3L125.5,358.3L125.5,353.5L126.3,353.5L126.3,356.1L127.1,356.1L127.1,356.9L127.9,356.9L127.9,356.3L128.7,356.3L128.7,353.9L129.5,353.9L129.5,352.5L130.3,352.5L130.3,353.2L131.1,353.2L131.1,351.0L131.9,351.0L131.9,354.3L132.7,354.3L132.7,356.1L133.5,356.1L133.5,357.2L134.3,357.2L134.3,356.1L135.1,356.1L135.1,353.0L135.9,353.0L135.9,357.1L136.7,357.1L136.7,359.0L137.5,359.0L137.5,359.0L138.3,359.0L138.3,358.7L139.1,358.7L139.1,358.5L139.9,358.5L139.9,358.7L140.7,358.7L140.7,359.4L141.5,359.4L141.5,358.4L142.3,358.4L142.3,358.7L143.1,358.7L143.1,358.9L143.9,358.9L143.9,358.9L144.7,358.9L144.7,358.5L145.5,358.5L145.5,354.7L146.3,354.7L146.3,354.8L147.1,354.8L147.1,356.2L147.9,356.2L147.9,352.3L148.7,352.3L148.7,351.3L149.5,351.3L149.5,352.4L150.3,352.4L150.3,351.1L151.1,351.1L151.1,350.2L151.9,350.2L151.9,346.9L152.7,346.9L152.7,355.2L153.5,355.2L153.5,354.5L154.3,354.5L154.3,353.1L155.1,353.1L155.1,359.1L155.9,359.1L155.9,358.2L156.7,358.2L156.7,358.9L157.5,358.9L157.5,358.4L158.3,358.4L158.3,356.6L159.1,356.6L159.1,356.5L159.9,356.5L159.9,356.1L160.7,356.1L160.7,357.2L161.5,357.2L161.5,355.8L162.3,355.8L162.3,355.9L163.1,355.9L163.1,354.1L163.9,354.1L163.9,356.5L164.7,356.5L164.7,355.9L165.5,355.9L165.5,358.9L166.3,358.9L166.3,359.2L167.1,359.2L167.1,358.9L167.9,358.9L167.9,359.1L168.7,359.1L168.7,359.5L169.5,359.5L169.5,359.3L170.3,359.3L170.3,358.4L171.1,358.4L171.1,358.5L171.9,358.5L171.9,358.6L172.7,358.6L172.7,359.3L173.5,359.3L173.5,358.9L174.3,358.9L174.3,359.3L175.1,359.3L175.1,359.4L175.9,359.4L175.9,359.5L176.7,359.5L176.7,358.5L177.5,358.5L177.5,356.0L178.3,356.0L178.3,355.4L179.1,355.4L179.1,357.4L179.9,357.4L179.9,359.3L180.7,359.3L180.7,359.2L181.5,359.2L181.5,359.1L182.3,359.1L182.3,359.6L183.1,359.6L183.1,359.7L183.9,359.7L183.9,359.4L184.7,359.4L184.7,359.7L185.5,359.7L185.5,359.3L186.3,359.3L186.3,354.7L187.1,354.7L187.1,356.6L187.9,356.6L187.9,357.0L188.7,357.0L188.7,353.9L189.5,353.9L189.5,356.3L190.3,356.3L190.3,356.4L191.1,356.4L191.1,355.1L191.9,355.1L191.9,352.9L192.7,352.9L192.7,356.3L193.5,356.3L193.5,354.7L194.3,354.7L194.3,353.2L195.1,353.2L195.1,357.1L195.9,357.1L195.9,354.3L196.7,354.3L196.7,353.5L197.5,353.5L197.5,356.8L198.3,356.8L198.3,358.0L199.1,358.0L199.1,358.0L199.9,358.0L199.9,358.7L200.7,358.7L200.7,359.2L201.5,359.2L201.5,358.4L202.3,358.4L202.3,358.8L203.1,358.8L203.1,357.7L203.9,357.7L203.9,357.6L204.7,357.6L204.7,359.1L205.5,359.1L205.5,357.3L206.3,357.3L206.3,357.1L207.1,357.1L207.1,354.4L207.9,354.4L207.9,357.2L208.7,357.2L208.7,355.3L209.5,355.3L209.5,356.2L210.3,356.2L210.3,357.7L211.1,357.7L211.1,356.7L211.9,356.7L211.9,355.0L212.7,355.0L212.7,356.5L213.5,356.5L213.5,357.4L214.3,357.4L214.3,356.0L215.1,356.0L215.1,355.7L215.9,355.7L215.9,357.4L216.7,357.4L216.7,358.2L217.5,358.2L217.5,357.4L218.3,357.4L218.3,357.5L219.1,357.5L219.1,357.8L219.9,357.8L219.9,357.8L220.7,357.8L220.7,358.0L221.5,358.0L221.5,356.4L222.3,356.4L222.3,357.6L223.1,357.6L223.1,359.2L223.9,359.2L223.9,359.5L224.7,359.5L224.7,359.3L225.5,359.3L225.5,358.7L226.3,358.7L226.3,358.7L227.1,358.7L227.1,359.2L227.9,359.2L227.9,358.7L228.7,358.7L228.7,358.3L229.5,358.3L229.5,359.2L230.3,359.2L230.3,359.3L231.1,359.3L231.1,358.9L231.9,358.9L231.9,358.6L232.7,358.6L232.7,359.0L233.5,359.0L233.5,358.7L234.3,358.7L234.3,358.7L235.1,358.7L235.1,357.8L235.9,357.8L235.9,357.7L236.7,357.7L236.7,357.3L237.5,357.3L237.5,357.9L238.3,357.9L238.3,355.5L239.1,355.5L239.1,355.4L239.9,355.4L239.9,357.8L240.7,357.8L240.7,355.3L241.5,355.3L241.5,353.7L242.3,353.7L242.3,349.9L243.1,349.9L243.1,350.5L243.9,350.5L243.9,348.2L244.7,348.2L244.7,349.3L245.5,349.3L245.5,353.3L246.3,353.3L246.3,354.4L247.1,354.4L247.1,356.4L247.9,356.4L247.9,355.7L248.7,355.7L248.7,352.2L249.5,352.2L249.5,351.9L250.3,351.9L250.3,355.3L251.1,355.3L251.1,358.5L251.9,358.5L251.9,358.5L252.7,358.5L252.7,358.1L253.5,358.1L253.5,357.8L254.3,357.8L254.3,359.8L255.1,359.8L255.1,359.8L255.9,359.8L255.9,359.8L256.7,359.8L256.7,359.8L257.5,359.8L257.5,359.8L258.3,359.8L258.3,359.8L259.1,359.8L259.1,359.8L259.9,359.8L259.9,359.8L260.7,359.8L260.7,353.7L261.5,353.7L261.5,355.6L262.3,355.6L262.3,353.7L263.1,353.7L263.1,355.3L263.9,355.3L263.9,356.7L264.7,356.7L264.7,354.0L265.5,354.0L265.5,356.2L266.3,356.2L266.3,356.6L267.1,356.6L267.1,359.8L267.9,359.8L267.9,359.8L268.7,359.8L268.7,359.8L269.5,359.8L269.5,359.8L270.3,359.8L270.3,359.8L271.1,359.8L271.1,359.8L271.9,359.8L271.9,359.8L272.7,359.8L272.7,359.8L273.5,359.8L273.5,359.8L274.3,359.8L274.3,359.8L275.1,359.8L275.1,357.6L275.9,357.6L275.9,357.8L276.7,357.8L276.7,357.5L277.5,357.5L277.5,358.6L278.3,358.6L278.3,357.8L279.1,357.8L279.1,357.8L279.9,357.8L279.9,356.8L280.7,356.8L280.7,356.5L281.5,356.5L281.5,357.7L282.3,357.7L282.3,356.8L283.1,356.8L283.1,357.6L283.9,357.6L283.9,358.1L284.7,358.1L284.7,356.8L285.5,356.8L285.5,357.3L286.3,357.3L286.3,358.3L287.1,358.3L287.1,357.7L287.9,357.7L287.9,356.6L288.7,356.6L288.7,356.4L289.5,356.4L289.5,357.5L290.3,357.5L290.3,357.4L291.1,357.4L291.1,358.1L291.9,358.1L291.9,358.6L292.7,358.6L292.7,357.1L293.5,357.1L293.5,358.2L294.3,358.2L294.3,356.5L295.1,356.5L295.1,357.5L295.9,357.5L295.9,355.4L296.7,355.4L296.7,352.6L297.5,352.6L297.5,352.3L298.3,352.3L298.3,358.2L299.1,358.2L299.1,358.8L299.9,358.8L299.9,358.6L300.7,358.6L300.7,357.8L301.5,357.8L301.5,357.8L302.3,357.8L302.3,358.8L303.1,358.8L303.1,358.7L303.9,358.7L303.9,359.0L304.7,359.0L304.7,352.2L305.5,352.2L305.5,352.7L306.3,352.7L306.3,353.5L307.1,353.5L307.1,351.4L307.9,351.4L307.9,351.9L308.7,351.9L308.7,353.3L309.5,353.3L309.5,359.3L310.3,359.3L310.3,359.1L311.1,359.1L311.1,359.4L311.9,359.4L311.9,359.6L312.7,359.6L312.7,359.1L313.5,359.1L313.5,359.4L314.3,359.4L314.3,359.1L315.1,359.1L315.1,359.0L315.9,359.0L315.9,359.7L316.7,359.7L316.7,358.9L317.5,358.9L317.5,359.4L318.3,359.4L318.3,359.0L319.1,359.0L319.1,359.6L319.9,359.6L319.9,359.2L320.7,359.2L320.7,359.5L321.5,359.5L321.5,359.5L322.3,359.5L322.3,359.3L323.1,359.3L323.1,359.7L323.9,359.7L323.9,358.9L324.7,358.9L324.7,359.3L325.5,359.3L325.5,359.3L326.3,359.3L326.3,359.0L327.1,359.0L327.1,359.7L327.9,359.7L327.9,359.1L328.7,359.1L328.7,359.0L329.5,359.0L329.5,359.5L330.3,359.5L330.3,359.5L331.1,359.5L331.1,359.0L331.9,359.0L331.9,359.0L332.7,359.0L332.7,359.5L333.5,359.5L333.5,358.9L334.3,358.9L334.3,359.2L335.1,359.2L335.1,359.3L335.9,359.3L335.9,356.2L336.7,356.2L336.7,355.7L337.5,355.7L337.5,357.9L338.3,357.9L338.3,356.6L339.1,356.6L339.1,357.2L339.9,357.2L339.9,358.0L340.7,358.0L340.7,356.9L341.5,356.9L341.5,358.5L342.3,358.5L342.3,357.8L343.1,357.8L343.1,358.2L343.9,358.2L343.9,358.6L344.7,358.6L344.7,358.0L345.5,358.0L345.5,357.0L346.3,357.0L346.3,357.6L347.1,357.6L347.1,354.5L347.9,354.5L347.9,354.5L348.7,354.5L348.7,354.9L349.5,354.9L349.5,355.1L350.3,355.1L350.3,358.8L351.1,358.8L351.1,357.9L351.9,357.9L351.9,358.7L352.7,358.7L352.7,358.7L353.5,358.7L353.5,357.9L354.3,357.9L354.3,358.9L355.1,358.9L355.1,358.7L355.9,358.7L355.9,358.4L356.7,358.4L356.7,358.1L357.5,358.1L357.5,358.0L358.3,358.0L358.3,359.0L359.1,359.0L359.1,353.2L359.9,353.2L359.9,355.8L360.7,355.8L360.7,354.6L361.5,354.6L361.5,355.5L362.3,355.5L362.3,356.0L363.1,356.0L363.1,356.4L363.9,356.4L363.9,357.1L364.7,357.1L364.7,353.4L365.5,353.4L365.5,353.0L366.3,353.0L366.3,358.6L367.1,358.6L367.1,357.7L367.9,357.7L367.9,356.5L368.7,356.5L368.7,357.6L369.5,357.6L369.5,356.6L370.3,356.6L370.3,356.6L371.1,356.6L371.1,358.1L371.9,358.1L371.9,356.4L372.7,356.4L372.7,355.6L373.5,355.6L373.5,355.6L374.3,355.6L374.3,357.9L375.1,357.9L375.1,357.3L375.9,357.3L375.9,357.9L376.7,357.9L376.7,355.4L377.5,355.4L377.5,355.6L378.3,355.6L378.3,354.7L379.1,354.7L379.1,356.8L379.9,356.8L379.9,355.6L380.7,355.6L380.7,355.6L381.5,355.6L381.5,356.9L382.3,356.9L382.3,354.4L383.1,354.4L383.1,353.2L383.9,353.2L383.9,352.1L384.7,352.1L384.7,351.8L385.5,351.8L385.5,351.4L386.3,351.4L386.3,354.2L387.1,354.2L387.1,355.6L387.9,355.6L387.9,355.7L388.7,355.7L388.7,354.5L389.5,354.5L389.5,357.4L390.3,357.4L390.3,356.8L391.1,356.8L391.1,355.9L391.9,355.9L391.9,355.6L392.7,355.6L392.7,354.3L393.5,354.3L393.5,357.1L394.3,357.1L394.3,355.8L395.1,355.8L395.1,354.8L395.9,354.8L395.9,354.1L396.7,354.1L396.7,354.1L397.5,354.1L397.5,358.4L398.3,358.4L398.3,358.3L399.1,358.3L399.1,357.8L399.9,357.8L399.9,358.8L400.7,358.8L400.7,359.8L401.5,359.8L401.5,359.8L402.3,359.8L402.3,359.8L403.1,359.8L403.1,359.8L403.9,359.8L403.9,359.8L404.7,359.8L404.7,359.8L405.5,359.8L405.5,359.8L406.3,359.8L406.3,359.8L407.1,359.8L407.1,359.8L407.9,359.8L407.9,359.8L408.7,359.8L408.7,359.8L409.5,359.8L409.5,359.8L410.3,359.8L410.3,359.8L411.1,359.8L411.1,357.3L411.9,357.3L411.9,357.1L412.7,357.1L412.7,357.7L413.5,357.7L413.5,359.8L414.3,359.8L414.3,359.8L415.1,359.8L415.1,359.8L415.9,359.8L415.9,359.8L416.7,359.8L416.7,359.8L417.5,359.8L417.5,359.8L418.3,359.8L418.3,359.8L419.1,359.8L419.1,359.8L419.9,359.8L419.9,359.8L420.7,359.8L420.7,359.8L421.5,359.8L421.5,359.8L422.3,359.8L422.3,359.8L423.1,359.8L423.1,359.8L423.9,359.8L423.9,359.8L424.7,359.8L424.7,359.8L425.5,359.8L425.5,356.1L426.3,356.1L426.3,354.6L427.1,354.6L427.1,356.5L427.9,356.5L427.9,355.8L428.7,355.8L428.7,357.1L429.5,357.1L429.5,359.6L430.3,359.6L430.3,359.6L431.1,359.6L431.1,359.0L431.9,359.0L431.9,359.5L432.7,359.5L432.7,359.6L433.5,359.6L433.5,359.4L434.3,359.4L434.3,359.3L435.1,359.3L435.1,359.6L435.9,359.6L435.9,359.3L436.7,359.3L436.7,359.6L437.5,359.6L437.5,359.2L438.3,359.2L438.3,359.1L439.1,359.1L439.1,359.6L439.9,359.6L439.9,359.0L440.7,359.0L440.7,359.5L441.5,359.5L441.5,359.7L442.3,359.7L442.3,356.1L443.1,356.1L443.1,353.5L443.9,353.5L443.9,355.6L444.7,355.6L444.7,356.5L445.5,356.5L445.5,356.3L446.3,356.3L446.3,355.1L447.1,355.1L447.1,353.6L447.9,353.6L447.9,358.3L448.7,358.3L448.7,358.0L449.5,358.0L449.5,357.7L450.3,357.7L450.3,357.7L451.1,357.7L451.1,358.0L451.9,358.0L451.9,358.0L452.7,358.0L452.7,355.8L453.5,355.8L453.5,357.2L454.3,357.2L454.3,357.9L455.1,357.9L455.1,357.5L455.9,357.5L455.9,355.3L456.7,355.3L456.7,357.5L457.5,357.5L457.5,355.1L458.3,355.1L458.3,355.4L459.1,355.4L459.1,355.6L459.9,355.6L459.9,357.0L460.7,357.0L460.7,354.7L461.5,354.7L461.5,355.1L462.3,355.1L462.3,356.9L463.1,356.9L463.1,356.4L463.9,356.4L463.9,357.0L464.7,357.0L464.7,356.1L465.5,356.1L465.5,357.6L466.3,357.6L466.3,355.4L467.1,355.4L467.1,357.8L467.9,357.8L467.9,355.0L468.7,355.0L468.7,357.1L469.5,357.1L469.5,354.6L470.3,354.6L470.3,359.5L471.1,359.5L471.1,359.7L471.9,359.7L471.9,359.0L472.7,359.0L472.7,358.9L473.5,358.9L473.5,359.2L474.3,359.2L474.3,359.0L475.1,359.0L475.1,358.9L475.9,358.9L475.9,359.1L476.7,359.1L476.7,359.2L477.5,359.2L477.5,359.0L478.3,359.0L478.3,359.1L479.1,359.1L479.1,359.4L479.9,359.4L479.9,359.4L480.7,359.4L480.7,359.7L481.5,359.7L481.5,359.5L482.3,359.5L482.3,355.7L483.1,355.7L483.1,357.8L483.9,357.8L483.9,356.1L484.7,356.1L484.7,357.8L485.5,357.8L485.5,356.5L486.3,356.5L486.3,351.3L487.1,351.3L487.1,354.8L487.9,354.8L487.9,354.9L488.7,354.9L488.7,355.1L489.5,355.1L489.5,353.0L490.3,353.0L490.3,354.0L491.1,354.0L491.1,359.0L491.9,359.0L491.9,359.2L492.7,359.2L492.7,359.5L493.5,359.5L493.5,359.6L494.3,359.6L494.3,359.7L495.1,359.7L495.1,359.6L495.9,359.6L495.9,359.1L496.7,359.1L496.7,359.6L497.5,359.6L497.5,359.1L498.3,359.1L498.3,359.1L499.1,359.1L499.1,359.6L499.9,359.6L499.9,359.1L500.7,359.1L500.7,359.4L501.5,359.4L501.5,358.9L502.3,358.9L502.3,359.2L503.1,359.2L503.1,359.4L503.9,359.4L503.9,357.6L504.7,357.6L504.7,357.1L505.5,357.1L505.5,356.9L506.3,356.9L506.3,356.5L507.1,356.5L507.1,359.8L507.9,359.8L507.9,359.8L508.7,359.8L508.7,359.4L509.5,359.4L509.5,359.6L510.3,359.6L510.3,359.3L511.1,359.3L511.1,359.8L511.9,359.8L511.9,359.7L512.7,359.7L512.7,359.4L513.5,359.4L513.5,359.4L514.3,359.4L514.3,359.3L515.1,359.3L515.1,358.3L515.9,358.3L515.9,357.2L516.7,357.2L516.7,357.4L517.5,357.4L517.5,358.3L518.3,358.3L518.3,358.1L519.1,358.1L519.1,357.9L519.9,357.9L519.9,358.2L520.7,358.2L520.7,358.0L521.5,358.0L521.5,357.7L522.3,357.7L522.3,357.3L523.1,357.3L523.1,358.7L523.9,358.7L523.9,358.8L524.7,358.8L524.7,358.7L525.5,358.7L525.5,357.4L526.3,357.4L526.3,358.8L527.1,358.8L527.1,358.4L527.9,358.4L527.9,358.2L528.7,358.2L528.7,353.8L529.5,353.8L529.5,352.4L530.3,352.4L530.3,357.6L531.1,357.6L531.1,357.1L531.9,357.1L531.9,358.1L532.7,358.1L532.7,356.6L533.5,356.6L533.5,358.6L534.3,358.6L534.3,356.7L535.1,356.7L535.1,358.1L535.9,358.1L535.9,356.9L536.7,356.9L536.7,357.3L537.5,357.3L537.5,356.9L538.3,356.9L538.3,356.8L539.1,356.8L539.1,356.9L539.9,356.9L539.9,356.4L540.7,356.4L540.7,357.6L541.5,357.6L541.5,357.9L542.3,357.9L542.3,358.0L543.1,358.0L543.1,358.1L543.9,358.1L543.9,358.6L544.7,358.6L544.7,356.9L545.5,356.9L545.5,356.8L546.3,356.8L546.3,357.8L547.1,357.8L547.1,354.3L547.9,354.3L547.9,354.2L548.7,354.2L548.7,358.4L549.5,358.4L549.5,359.2L550.3,359.2L550.3,358.8L551.1,358.8L551.1,358.6L551.9,358.6L551.9,358.7L552.7,358.7L552.7,359.0L553.5,359.0L553.5,359.0L554.3,359.0L554.3,358.5L555.1,358.5L555.1,358.5L555.9,358.5L555.9,358.5L556.7,358.5L556.7,358.8L557.5,358.8L557.5,358.8L558.3,358.8L558.3,358.2L559.1,358.2L559.1,358.8L559.9,358.8L559.9,358.0L560.7,358.0L560.7,359.0L561.5,359.0L561.5,358.8L562.3,358.8L562.3,358.4L563.1,358.4L563.1,358.9L563.9,358.9L563.9,358.5L564.7,358.5L564.7,359.0L565.5,359.0L565.5,359.1L566.3,359.1L566.3,358.2L567.1,358.2L567.1,357.6L567.9,357.6L567.9,358.0L568.7,358.0L568.7,357.7L569.5,357.7L569.5,358.2L570.3,358.2L570.3,352.1L571.1,352.1L571.1,350.9L571.9,350.9L571.9,353.4L572.7,353.4L572.7,353.2L573.5,353.2L573.5,358.7L574.3,358.7L574.3,358.8L575.1,358.8L575.1,358.7L575.9,358.7L575.9,358.5L576.7,358.5L576.7,359.3L577.5,359.3L577.5,358.2L578.3,358.2L578.3,358.5L579.1,358.5L579.1,359.2L579.9,359.2L579.9,358.5L580.7,358.5L580.7,359.3L581.5,359.3L581.5,359.0L582.3,359.0L582.3,359.1L583.1,359.1L583.1,358.3L583.9,358.3L583.9,359.0L584.7,359.0L584.7,358.8L585.5,358.8L585.5,358.4L586.3,358.4L586.3,358.6L587.1,358.6L587.1,358.3L587.9,358.3L587.9,358.2L588.7,358.2L588.7,358.2L589.5,358.2L589.5,358.5L590.3,358.5L590.3,353.1L591.1,353.1L591.1,355.3L591.9,355.3L591.9,356.7L592.7,356.7L592.7,349.3L593.5,349.3L593.5,349.3L594.3,349.3L594.3,352.7L595.1,352.7L595.1,349.0L595.9,349.0L595.9,349.6L596.7,349.6L596.7,356.0L597.5,356.0L597.5,355.0L598.3,355.0L598.3,356.3L599.1,356.3L599.1,359.4L599.9,359.4L599.9,359.6L600.7,359.6L600.7,359.0L601.5,359.0L601.5,359.4L602.3,359.4L602.3,359.1L603.1,359.1L603.1,359.3L603.9,359.3L603.9,359.5L604.7,359.5L604.7,359.1L605.5,359.1L605.5,359.1L606.3,359.1L606.3,359.1L607.1,359.1L607.1,356.5L607.9,356.5L607.9,354.1L608.7,354.1L608.7,355.0L609.5,355.0L609.5,356.6L610.3,356.6L610.3,351.5L611.1,351.5L611.1,350.6L611.9,350.6L611.9,348.3L612.7,348.3L612.7,351.4L613.5,351.4L613.5,349.8L614.3,349.8L614.3,358.4L615.1,358.4L615.1,357.9L615.9,357.9L615.9,358.3L616.7,358.3L616.7,357.7L617.5,357.7L617.5,358.7L618.3,358.7L618.3,358.3L619.1,358.3L619.1,358.6L619.9,358.6L619.9,358.2L620.7,358.2L620.7,357.1L621.5,357.1L621.5,357.3L622.3,357.3L622.3,358.3L623.1,358.3L623.1,358.1L623.9,358.1L623.9,358.0L624.7,358.0L624.7,358.4L625.5,358.4L625.5,358.0L626.3,358.0L626.3,357.2L627.1,357.2L627.1,357.7L627.9,357.7L627.9,358.7L628.7,358.7L628.7,358.4L629.5,358.4L629.5,358.2L630.3,358.2L630.3,357.9L631.1,357.9L631.1,357.9L631.9,357.9L631.9,357.6L632.7,357.6L632.7,357.6L633.5,357.6L633.5,357.6L634.3,357.6L634.3,357.7L635.1,357.7L635.1,358.8L635.9,358.8L635.9,358.2L636.7,358.2L636.7,357.9L637.5,357.9L637.5,358.2L638.3,358.2L638.3,356.7L639.1,356.7L639.1,356.9L639.9,356.9L639.9,357.1L640.7,357.1L640.7,355.1L641.5,355.1L641.5,357.0L642.3,357.0L642.3,355.4L643.1,355.4L643.1,354.7L643.9,354.7L643.9,358.2L644.7,358.2L644.7,358.7L645.5,358.7L645.5,358.3L646.3,358.3L646.3,357.8L647.1,357.8L647.1,358.6L647.9,358.6L647.9,358.2L648.7,358.2L648.7,358.0L649.5,358.0L649.5,358.3L650.3,358.3L650.3,358.5L651.1,358.5L651.1,358.2L651.9,358.2L651.9,358.5L652.7,358.5L652.7,357.6L653.0,357.6L653.0,363.8L652.7,363.8L652.7,365.7L651.9,365.7L651.9,366.0L651.1,366.0L651.1,365.8L650.3,365.8L650.3,363.7L649.5,363.7L649.5,367.0L648.7,367.0L648.7,367.5L647.9,367.5L647.9,363.1L647.1,363.1L647.1,362.0L646.3,362.0L646.3,362.0L645.5,362.0L645.5,363.1L644.7,363.1L644.7,362.4L643.9,362.4L643.9,361.7L643.1,361.7L643.1,362.9L642.3,362.9L642.3,362.0L641.5,362.0L641.5,363.1L640.7,363.1L640.7,362.7L639.9,362.7L639.9,361.9L639.1,361.9L639.1,362.8L638.3,362.8L638.3,362.9L637.5,362.9L637.5,364.0L636.7,364.0L636.7,365.2L635.9,365.2L635.9,363.8L635.1,363.8L635.1,364.4L634.3,364.4L634.3,364.2L633.5,364.2L633.5,363.5L632.7,363.5L632.7,365.2L631.9,365.2L631.9,364.4L631.1,364.4L631.1,365.4L630.3,365.4L630.3,361.9L629.5,361.9L629.5,362.0L628.7,362.0L628.7,362.4L627.9,362.4L627.9,362.7L627.1,362.7L627.1,363.1L626.3,363.1L626.3,363.0L625.5,363.0L625.5,363.0L624.7,363.0L624.7,362.1L623.9,362.1L623.9,362.4L623.1,362.4L623.1,362.7L622.3,362.7L622.3,361.9L621.5,361.9L621.5,364.6L620.7,364.6L620.7,364.4L619.9,364.4L619.9,364.2L619.1,364.2L619.1,362.6L618.3,362.6L618.3,362.9L617.5,362.9L617.5,364.2L616.7,364.2L616.7,363.4L615.9,363.4L615.9,363.7L615.1,363.7L615.1,363.5L614.3,363.5L614.3,363.4L613.5,363.4L613.5,364.2L612.7,364.2L612.7,364.7L611.9,364.7L611.9,363.0L611.1,363.0L611.1,363.1L610.3,363.1L610.3,364.2L609.5,364.2L609.5,362.4L608.7,362.4L608.7,363.8L607.9,363.8L607.9,364.0L607.1,364.0L607.1,364.7L606.3,364.7L606.3,363.5L605.5,363.5L605.5,365.0L604.7,365.0L604.7,367.7L603.9,367.7L603.9,367.3L603.1,367.3L603.1,368.7L602.3,368.7L602.3,367.5L601.5,367.5L601.5,367.6L600.7,367.6L600.7,364.6L599.9,364.6L599.9,367.2L599.1,367.2L599.1,367.3L598.3,367.3L598.3,366.9L597.5,366.9L597.5,365.4L596.7,365.4L596.7,363.1L595.9,363.1L595.9,362.8L595.1,362.8L595.1,363.2L594.3,363.2L594.3,363.0L593.5,363.0L593.5,362.9L592.7,362.9L592.7,362.7L591.9,362.7L591.9,362.2L591.1,362.2L591.1,363.3L590.3,363.3L590.3,362.9L589.5,362.9L589.5,363.1L588.7,363.1L588.7,361.8L587.9,361.8L587.9,363.1L587.1,363.1L587.1,363.2L586.3,363.2L586.3,361.8L585.5,361.8L585.5,363.0L584.7,363.0L584.7,361.9L583.9,361.9L583.9,362.3L583.1,362.3L583.1,362.0L582.3,362.0L582.3,361.9L581.5,361.9L581.5,362.2L580.7,362.2L580.7,361.8L579.9,361.8L579.9,362.9L579.1,362.9L579.1,363.2L578.3,363.2L578.3,363.0L577.5,363.0L577.5,362.2L576.7,362.2L576.7,362.0L575.9,362.0L575.9,361.8L575.1,361.8L575.1,362.0L574.3,362.0L574.3,364.0L573.5,364.0L573.5,362.3L572.7,362.3L572.7,363.2L571.9,363.2L571.9,368.9L571.1,368.9L571.1,367.8L570.3,367.8L570.3,369.4L569.5,369.4L569.5,367.6L568.7,367.6L568.7,366.0L567.9,366.0L567.9,366.3L567.1,366.3L567.1,366.8L566.3,366.8L566.3,365.7L565.5,365.7L565.5,368.3L564.7,368.3L564.7,369.6L563.9,369.6L563.9,368.7L563.1,368.7L563.1,368.3L562.3,368.3L562.3,361.8L561.5,361.8L561.5,363.1L560.7,363.1L560.7,362.7L559.9,362.7L559.9,362.1L559.1,362.1L559.1,362.6L558.3,362.6L558.3,363.2L557.5,363.2L557.5,363.1L556.7,363.1L556.7,363.1L555.9,363.1L555.9,362.6L555.1,362.6L555.1,363.2L554.3,363.2L554.3,363.2L553.5,363.2L553.5,362.1L552.7,362.1L552.7,363.1L551.9,363.1L551.9,361.8L551.1,361.8L551.1,363.0L550.3,363.0L550.3,362.2L549.5,362.2L549.5,361.9L548.7,361.9L548.7,362.4L547.9,362.4L547.9,361.9L547.1,361.9L547.1,365.8L546.3,365.8L546.3,366.9L545.5,366.9L545.5,367.8L544.7,367.8L544.7,365.4L543.9,365.4L543.9,363.2L543.1,363.2L543.1,363.0L542.3,363.0L542.3,362.4L541.5,362.4L541.5,362.4L540.7,362.4L540.7,362.9L539.9,362.9L539.9,362.0L539.1,362.0L539.1,361.9L538.3,361.9L538.3,363.3L537.5,363.3L537.5,362.6L536.7,362.6L536.7,362.7L535.9,362.7L535.9,362.7L535.1,362.7L535.1,361.8L534.3,361.8L534.3,362.5L533.5,362.5L533.5,362.4L532.7,362.4L532.7,361.8L531.9,361.8L531.9,362.0L531.1,362.0L531.1,363.0L530.3,363.0L530.3,362.8L529.5,362.8L529.5,362.4L528.7,362.4L528.7,362.0L527.9,362.0L527.9,362.7L527.1,362.7L527.1,363.2L526.3,363.2L526.3,363.0L525.5,363.0L525.5,362.4L524.7,362.4L524.7,362.7L523.9,362.7L523.9,363.2L523.1,363.2L523.1,363.1L522.3,363.1L522.3,363.2L521.5,363.2L521.5,362.4L520.7,362.4L520.7,361.8L519.9,361.8L519.9,363.2L519.1,363.2L519.1,362.5L518.3,362.5L518.3,362.0L517.5,362.0L517.5,365.0L516.7,365.0L516.7,366.9L515.9,366.9L515.9,364.3L515.1,364.3L515.1,363.3L514.3,363.3L514.3,363.2L513.5,363.2L513.5,365.9L512.7,365.9L512.7,364.9L511.9,364.9L511.9,365.2L511.1,365.2L511.1,365.3L510.3,365.3L510.3,363.7L509.5,363.7L509.5,364.5L508.7,364.5L508.7,365.8L507.9,365.8L507.9,363.2L507.1,363.2L507.1,366.1L506.3,366.1L506.3,365.1L505.5,365.1L505.5,364.6L504.7,364.6L504.7,366.3L503.9,366.3L503.9,364.9L503.1,364.9L503.1,367.6L502.3,367.6L502.3,367.5L501.5,367.5L501.5,367.1L500.7,367.1L500.7,364.0L499.9,364.0L499.9,368.2L499.1,368.2L499.1,364.0L498.3,364.0L498.3,364.0L497.5,364.0L497.5,363.8L496.7,363.8L496.7,362.8L495.9,362.8L495.9,363.1L495.1,363.1L495.1,363.5L494.3,363.5L494.3,364.6L493.5,364.6L493.5,364.0L492.7,364.0L492.7,362.5L491.9,362.5L491.9,363.2L491.1,363.2L491.1,363.4L490.3,363.4L490.3,364.3L489.5,364.3L489.5,362.3L488.7,362.3L488.7,362.7L487.9,362.7L487.9,363.6L487.1,363.6L487.1,363.4L486.3,363.4L486.3,364.5L485.5,364.5L485.5,363.6L484.7,363.6L484.7,364.5L483.9,364.5L483.9,362.9L483.1,362.9L483.1,363.8L482.3,363.8L482.3,363.4L481.5,363.4L481.5,363.2L480.7,363.2L480.7,362.7L479.9,362.7L479.9,363.1L479.1,363.1L479.1,362.9L478.3,362.9L478.3,363.2L477.5,363.2L477.5,362.4L476.7,362.4L476.7,363.6L475.9,363.6L475.9,362.6L475.1,362.6L475.1,361.8L474.3,361.8L474.3,362.6L473.5,362.6L473.5,362.8L472.7,362.8L472.7,363.5L471.9,363.5L471.9,362.1L471.1,362.1L471.1,363.3L470.3,363.3L470.3,362.1L469.5,362.1L469.5,363.2L468.7,363.2L468.7,363.1L467.9,363.1L467.9,362.7L467.1,362.7L467.1,363.5L466.3,363.5L466.3,362.9L465.5,362.9L465.5,362.1L464.7,362.1L464.7,362.2L463.9,362.2L463.9,362.9L463.1,362.9L463.1,362.6L462.3,362.6L462.3,363.5L461.5,363.5L461.5,361.9L460.7,361.9L460.7,362.0L459.9,362.0L459.9,363.5L459.1,363.5L459.1,363.1L458.3,363.1L458.3,365.8L457.5,365.8L457.5,363.9L456.7,363.9L456.7,364.2L455.9,364.2L455.9,363.3L455.1,363.3L455.1,365.8L454.3,365.8L454.3,365.3L453.5,365.3L453.5,364.5L452.7,364.5L452.7,365.0L451.9,365.0L451.9,365.7L451.1,365.7L451.1,363.5L450.3,363.5L450.3,363.0L449.5,363.0L449.5,362.2L448.7,362.2L448.7,362.7L447.9,362.7L447.9,362.9L447.1,362.9L447.1,362.8L446.3,362.8L446.3,363.7L445.5,363.7L445.5,363.2L444.7,363.2L444.7,363.3L443.9,363.3L443.9,362.6L443.1,362.6L443.1,362.5L442.3,362.5L442.3,364.2L441.5,364.2L441.5,365.2L440.7,365.2L440.7,363.6L439.9,363.6L439.9,365.0L439.1,365.0L439.1,364.7L438.3,364.7L438.3,364.1L437.5,364.1L437.5,363.8L436.7,363.8L436.7,364.9L435.9,364.9L435.9,367.2L435.1,367.2L435.1,363.4L434.3,363.4L434.3,363.9L433.5,363.9L433.5,364.7L432.7,364.7L432.7,363.8L431.9,363.8L431.9,363.6L431.1,363.6L431.1,365.2L430.3,365.2L430.3,362.1L429.5,362.1L429.5,362.3L428.7,362.3L428.7,362.1L427.9,362.1L427.9,362.3L427.1,362.3L427.1,361.6L426.3,361.6L426.3,362.3L425.5,362.3L425.5,365.9L424.7,365.9L424.7,365.3L423.9,365.3L423.9,364.7L423.1,364.7L423.1,365.8L422.3,365.8L422.3,364.5L421.5,364.5L421.5,363.7L420.7,363.7L420.7,364.7L419.9,364.7L419.9,364.8L419.1,364.8L419.1,363.9L418.3,363.9L418.3,365.4L417.5,365.4L417.5,364.6L416.7,364.6L416.7,365.9L415.9,365.9L415.9,365.8L415.1,365.8L415.1,365.7L414.3,365.7L414.3,369.0L413.5,369.0L413.5,367.2L412.7,367.2L412.7,366.7L411.9,366.7L411.9,367.4L411.1,367.4L411.1,364.2L410.3,364.2L410.3,367.0L409.5,367.0L409.5,365.2L408.7,365.2L408.7,368.1L407.9,368.1L407.9,364.7L407.1,364.7L407.1,368.1L406.3,368.1L406.3,365.4L405.5,365.4L405.5,368.0L404.7,368.0L404.7,368.5L403.9,368.5L403.9,369.9L403.1,369.9L403.1,369.7L402.3,369.7L402.3,366.9L401.5,366.9L401.5,366.0L400.7,366.0L400.7,365.4L399.9,365.4L399.9,364.4L399.1,364.4L399.1,365.5L398.3,365.5L398.3,363.3L397.5,363.3L397.5,361.2L396.7,361.2L396.7,361.1L395.9,361.1L395.9,361.0L395.1,361.0L395.1,361.2L394.3,361.2L394.3,361.0L393.5,361.0L393.5,361.0L392.7,361.0L392.7,361.0L391.9,361.0L391.9,361.1L391.1,361.1L391.1,361.1L390.3,361.1L390.3,361.1L389.5,361.1L389.5,361.0L388.7,361.0L388.7,361.0L387.9,361.0L387.9,361.2L387.1,361.2L387.1,361.0L386.3,361.0L386.3,361.0L385.5,361.0L385.5,361.1L384.7,361.1L384.7,361.0L383.9,361.0L383.9,361.0L383.1,361.0L383.1,361.0L382.3,361.0L382.3,361.0L381.5,361.0L381.5,361.0L380.7,361.0L380.7,366.8L379.9,366.8L379.9,368.6L379.1,368.6L379.1,365.6L378.3,365.6L378.3,361.7L377.5,361.7L377.5,361.3L376.7,361.3L376.7,361.9L375.9,361.9L375.9,362.4L375.1,362.4L375.1,361.7L374.3,361.7L374.3,362.5L373.5,362.5L373.5,362.2L372.7,362.2L372.7,362.2L371.9,362.2L371.9,362.2L371.1,362.2L371.1,368.5L370.3,368.5L370.3,367.9L369.5,367.9L369.5,364.9L368.7,364.9L368.7,368.0L367.9,368.0L367.9,364.9L367.1,364.9L367.1,365.6L366.3,365.6L366.3,363.6L365.5,363.6L365.5,362.7L364.7,362.7L364.7,363.7L363.9,363.7L363.9,363.0L363.1,363.0L363.1,362.7L362.3,362.7L362.3,363.8L361.5,363.8L361.5,363.1L360.7,363.1L360.7,363.0L359.9,363.0L359.9,362.0L359.1,362.0L359.1,362.6L358.3,362.6L358.3,362.0L357.5,362.0L357.5,362.7L356.7,362.7L356.7,363.0L355.9,363.0L355.9,362.2L355.1,362.2L355.1,362.9L354.3,362.9L354.3,363.0L353.5,363.0L353.5,364.5L352.7,364.5L352.7,367.5L351.9,367.5L351.9,364.0L351.1,364.0L351.1,364.2L350.3,364.2L350.3,361.3L349.5,361.3L349.5,361.8L348.7,361.8L348.7,362.0L347.9,362.0L347.9,361.4L347.1,361.4L347.1,361.4L346.3,361.4L346.3,362.4L345.5,362.4L345.5,361.5L344.7,361.5L344.7,362.2L343.9,362.2L343.9,361.5L343.1,361.5L343.1,362.2L342.3,362.2L342.3,361.5L341.5,361.5L341.5,362.0L340.7,362.0L340.7,362.1L339.9,362.1L339.9,361.5L339.1,361.5L339.1,362.0L338.3,362.0L338.3,361.4L337.5,361.4L337.5,361.4L336.7,361.4L336.7,361.3L335.9,361.3L335.9,363.8L335.1,363.8L335.1,365.3L334.3,365.3L334.3,364.3L333.5,364.3L333.5,365.1L332.7,365.1L332.7,365.0L331.9,365.0L331.9,363.1L331.1,363.1L331.1,364.6L330.3,364.6L330.3,365.8L329.5,365.8L329.5,368.3L328.7,368.3L328.7,366.8L327.9,366.8L327.9,364.7L327.1,364.7L327.1,368.6L326.3,368.6L326.3,365.7L325.5,365.7L325.5,365.4L324.7,365.4L324.7,365.2L323.9,365.2L323.9,365.5L323.1,365.5L323.1,364.2L322.3,364.2L322.3,366.3L321.5,366.3L321.5,366.5L320.7,366.5L320.7,365.2L319.9,365.2L319.9,365.7L319.1,365.7L319.1,367.5L318.3,367.5L318.3,366.8L317.5,366.8L317.5,367.4L316.7,367.4L316.7,366.6L315.9,366.6L315.9,366.7L315.1,366.7L315.1,366.7L314.3,366.7L314.3,368.0L313.5,368.0L313.5,369.0L312.7,369.0L312.7,365.6L311.9,365.6L311.9,366.0L311.1,366.0L311.1,366.9L310.3,366.9L310.3,370.2L309.5,370.2L309.5,363.1L308.7,363.1L308.7,362.7L307.9,362.7L307.9,362.7L307.1,362.7L307.1,363.9L306.3,363.9L306.3,363.7L305.5,363.7L305.5,363.3L304.7,363.3L304.7,364.7L303.9,364.7L303.9,364.5L303.1,364.5L303.1,361.0L302.3,361.0L302.3,361.0L301.5,361.0L301.5,361.0L300.7,361.0L300.7,361.0L299.9,361.0L299.9,361.0L299.1,361.0L299.1,361.0L298.3,361.0L298.3,361.0L297.5,361.0L297.5,361.0L296.7,361.0L296.7,361.0L295.9,361.0L295.9,361.0L295.1,361.0L295.1,361.0L294.3,361.0L294.3,361.0L293.5,361.0L293.5,361.0L292.7,361.0L292.7,361.0L291.9,361.0L291.9,361.0L291.1,361.0L291.1,361.0L290.3,361.0L290.3,361.0L289.5,361.0L289.5,361.0L288.7,361.0L288.7,361.0L287.9,361.0L287.9,361.0L287.1,361.0L287.1,361.0L286.3,361.0L286.3,361.0L285.5,361.0L285.5,361.9L284.7,361.9L284.7,362.4L283.9,362.4L283.9,362.4L283.1,362.4L283.1,361.8L282.3,361.8L282.3,361.7L281.5,361.7L281.5,362.2L280.7,362.2L280.7,361.8L279.9,361.8L279.9,362.5L279.1,362.5L279.1,362.1L278.3,362.1L278.3,362.0L277.5,362.0L277.5,361.6L276.7,361.6L276.7,361.5L275.9,361.5L275.9,362.2L275.1,362.2L275.1,363.6L274.3,363.6L274.3,364.8L273.5,364.8L273.5,367.0L272.7,367.0L272.7,366.0L271.9,366.0L271.9,363.5L271.1,363.5L271.1,365.9L270.3,365.9L270.3,365.3L269.5,365.3L269.5,366.1L268.7,366.1L268.7,365.2L267.9,365.2L267.9,366.3L267.1,366.3L267.1,361.0L266.3,361.0L266.3,361.0L265.5,361.0L265.5,361.0L264.7,361.0L264.7,361.0L263.9,361.0L263.9,361.0L263.1,361.0L263.1,361.0L262.3,361.0L262.3,361.0L261.5,361.0L261.5,361.0L260.7,361.0L260.7,366.2L259.9,366.2L259.9,363.5L259.1,363.5L259.1,365.8L258.3,365.8L258.3,364.7L257.5,364.7L257.5,366.4L256.7,366.4L256.7,364.1L255.9,364.1L255.9,366.2L255.1,366.2L255.1,366.2L254.3,366.2L254.3,363.8L253.5,363.8L253.5,364.4L252.7,364.4L252.7,361.0L251.9,361.0L251.9,361.0L251.1,361.0L251.1,361.0L250.3,361.0L250.3,361.0L249.5,361.0L249.5,361.0L248.7,361.0L248.7,361.0L247.9,361.0L247.9,361.0L247.1,361.0L247.1,361.0L246.3,361.0L246.3,361.0L245.5,361.0L245.5,361.0L244.7,361.0L244.7,361.0L243.9,361.0L243.9,361.0L243.1,361.0L243.1,361.0L242.3,361.0L242.3,361.0L241.5,361.0L241.5,361.0L240.7,361.0L240.7,361.2L239.9,361.2L239.9,361.0L239.1,361.0L239.1,361.0L238.3,361.0L238.3,361.0L237.5,361.0L237.5,361.2L236.7,361.2L236.7,361.1L235.9,361.1L235.9,361.0L235.1,361.0L235.1,361.0L234.3,361.0L234.3,361.1L233.5,361.1L233.5,361.0L232.7,361.0L232.7,361.0L231.9,361.0L231.9,361.0L231.1,361.0L231.1,361.0L230.3,361.0L230.3,362.6L229.5,362.6L229.5,363.1L228.7,363.1L228.7,363.8L227.9,363.8L227.9,362.8L227.1,362.8L227.1,362.7L226.3,362.7L226.3,362.2L225.5,362.2L225.5,362.3L224.7,362.3L224.7,363.0L223.9,363.0L223.9,361.9L223.1,361.9L223.1,361.0L222.3,361.0L222.3,361.0L221.5,361.0L221.5,361.1L220.7,361.1L220.7,361.0L219.9,361.0L219.9,361.0L219.1,361.0L219.1,361.1L218.3,361.1L218.3,361.1L217.5,361.1L217.5,361.2L216.7,361.2L216.7,361.0L215.9,361.0L215.9,361.2L215.1,361.2L215.1,361.0L214.3,361.0L214.3,361.2L213.5,361.2L213.5,361.2L212.7,361.2L212.7,361.0L211.9,361.0L211.9,361.1L211.1,361.1L211.1,361.0L210.3,361.0L210.3,361.0L209.5,361.0L209.5,361.2L208.7,361.2L208.7,361.0L207.9,361.0L207.9,361.0L207.1,361.0L207.1,361.0L206.3,361.0L206.3,361.0L205.5,361.0L205.5,361.5L204.7,361.5L204.7,362.5L203.9,362.5L203.9,361.3L203.1,361.3L203.1,361.6L202.3,361.6L202.3,361.5L201.5,361.5L201.5,362.0L200.7,362.0L200.7,361.5L199.9,361.5L199.9,361.8L199.1,361.8L199.1,362.0L198.3,362.0L198.3,361.9L197.5,361.9L197.5,362.2L196.7,362.2L196.7,361.9L195.9,361.9L195.9,362.4L195.1,362.4L195.1,361.9L194.3,361.9L194.3,362.3L193.5,362.3L193.5,361.9L192.7,361.9L192.7,361.4L191.9,361.4L191.9,361.5L191.1,361.5L191.1,362.5L190.3,362.5L190.3,361.6L189.5,361.6L189.5,362.1L188.7,362.1L188.7,362.2L187.9,362.2L187.9,362.4L187.1,362.4L187.1,362.5L186.3,362.5L186.3,364.2L185.5,364.2L185.5,363.8L184.7,363.8L184.7,369.6L183.9,369.6L183.9,369.1L183.1,369.1L183.1,367.8L182.3,367.8L182.3,368.6L181.5,368.6L181.5,369.1L180.7,369.1L180.7,364.8L179.9,364.8L179.9,368.5L179.1,368.5L179.1,362.0L178.3,362.0L178.3,361.4L177.5,361.4L177.5,361.4L176.7,361.4L176.7,361.8L175.9,361.8L175.9,362.1L175.1,362.1L175.1,361.8L174.3,361.8L174.3,361.6L173.5,361.6L173.5,362.2L172.7,362.2L172.7,361.6L171.9,361.6L171.9,362.3L171.1,362.3L171.1,361.4L170.3,361.4L170.3,361.2L169.5,361.2L169.5,361.1L168.7,361.1L168.7,361.0L167.9,361.0L167.9,361.6L167.1,361.6L167.1,362.1L166.3,362.1L166.3,362.1L165.5,362.1L165.5,361.5L164.7,361.5L164.7,362.1L163.9,362.1L163.9,361.8L163.1,361.8L163.1,361.8L162.3,361.8L162.3,366.4L161.5,366.4L161.5,366.9L160.7,366.9L160.7,365.7L159.9,365.7L159.9,364.0L159.1,364.0L159.1,363.1L158.3,363.1L158.3,362.9L157.5,362.9L157.5,361.1L156.7,361.1L156.7,361.0L155.9,361.0L155.9,361.2L155.1,361.2L155.1,361.0L154.3,361.0L154.3,361.0L153.5,361.0L153.5,361.0L152.7,361.0L152.7,361.0L151.9,361.0L151.9,361.2L151.1,361.2L151.1,361.2L150.3,361.2L150.3,361.2L149.5,361.2L149.5,361.0L148.7,361.0L148.7,361.1L147.9,361.1L147.9,361.0L147.1,361.0L147.1,361.2L146.3,361.2L146.3,361.0L145.5,361.0L145.5,361.0L144.7,361.0L144.7,361.1L143.9,361.1L143.9,363.9L143.1,363.9L143.1,364.2L142.3,364.2L142.3,363.2L141.5,363.2L141.5,363.9L140.7,363.9L140.7,362.9L139.9,362.9L139.9,362.0L139.1,362.0L139.1,362.9L138.3,362.9L138.3,361.9L137.5,361.9L137.5,362.5L136.7,362.5L136.7,361.0L135.9,361.0L135.9,361.0L135.1,361.0L135.1,361.0L134.3,361.0L134.3,361.0L133.5,361.0L133.5,361.0L132.7,361.0L132.7,361.0L131.9,361.0L131.9,361.0L131.1,361.0L131.1,361.0L130.3,361.0L130.3,361.0L129.5,361.0L129.5,361.0L128.7,361.0L128.7,361.0L127.9,361.0L127.9,361.0L127.1,361.0L127.1,361.0L126.3,361.0L126.3,361.0L125.5,361.0L125.5,362.7L124.7,362.7L124.7,362.2L123.9,362.2L123.9,362.0L123.1,362.0L123.1,364.8L122.3,364.8L122.3,363.0L121.5,363.0L121.5,364.3L120.7,364.3L120.7,364.6L119.9,364.6L119.9,362.9L119.1,362.9L119.1,361.9L118.3,361.9L118.3,362.8L117.5,362.8L117.5,362.3L116.7,362.3L116.7,362.8L115.9,362.8L115.9,362.1L115.1,362.1L115.1,365.8L114.3,365.8L114.3,365.1L113.5,365.1L113.5,367.5L112.7,367.5L112.7,363.0L111.9,363.0L111.9,364.4L111.1,364.4L111.1,364.2L110.3,364.2L110.3,361.1L109.5,361.1L109.5,361.0L108.7,361.0L108.7,361.0L107.9,361.0L107.9,361.0L107.1,361.0L107.1,361.0L106.3,361.0L106.3,361.0L105.5,361.0L105.5,361.1L104.7,361.1L104.7,361.0L103.9,361.0L103.9,361.0L103.1,361.0L103.1,361.0L102.3,361.0L102.3,361.1L101.5,361.1L101.5,361.2L100.7,361.2L100.7,363.4L99.9,363.4L99.9,363.1L99.1,363.1L99.1,363.1L98.3,363.1L98.3,362.4L97.5,362.4L97.5,362.2L96.7,362.2L96.7,364.0L95.9,364.0L95.9,363.7L95.1,363.7L95.1,366.7L94.3,366.7L94.3,367.5L93.5,367.5L93.5,367.3L92.7,367.3L92.7,367.0L91.9,367.0L91.9,366.7L91.1,366.7L91.1,368.2L90.3,368.2L90.3,368.4L89.5,368.4Z" fill="#bcbcbc"/>
<path d="M89.5,454.8L90.3,454.8L90.3,455.3L91.1,455.3L91.1,455.2L91.9,455.2L91.9,454.7L92.7,454.7L92.7,455.1L93.5,455.1L93.5,454.9L94.3,454.9L94.3,455.2L95.1,455.2L95.1,455.1L95.9,455.1L95.9,455.6L96.7,455.6L96.7,455.6L97.5,455.6L97.5,455.6L98.3,455.6L98.3,455.6L99.1,455.6L99.1,455.6L99.9,455.6L99.9,455.6L100.7,455.6L100.7,455.6L101.5,455.6L101.5,455.6L102.3,455.6L102.3,455.6L103.1,455.6L103.1,455.6L103.9,455.6L103.9,455.6L104.7,455.6L104.7,455.6L105.5,455.6L105.5,455.6L106.3,455.6L106.3,455.6L107.1,455.6L107.1,455.6L107.9,455.6L107.9,455.6L108.7,455.6L108.7,455.6L109.5,455.6L109.5,455.6L110.3,455.6L110.3,455.6L111.1,455.6L111.1,452.4L111.9,452.4L111.9,453.3L112.7,453.3L112.7,447.2L113.5,447.2L113.5,450.2L114.3,450.2L114.3,454.4L115.1,454.4L115.1,455.0L115.9,455.0L115.9,453.8L116.7,453.8L116.7,455.0L117.5,455.0L117.5,450.9L118.3,450.9L118.3,451.0L119.1,451.0L119.1,452.8L119.9,452.8L119.9,444.8L120.7,444.8L120.7,447.0L121.5,447.0L121.5,445.8L122.3,445.8L122.3,448.6L123.1,448.6L123.1,446.4L123.9,446.4L123.9,444.8L124.7,444.8L124.7,447.9L125.5,447.9L125.5,446.2L126.3,446.2L126.3,448.3L127.1,448.3L127.1,444.2L127.9,444.2L127.9,444.4L128.7,444.4L128.7,445.5L129.5,445.5L129.5,447.4L130.3,447.4L130.3,447.1L131.1,447.1L131.1,448.5L131.9,448.5L131.9,448.2L132.7,448.2L132.7,448.3L133.5,448.3L133.5,447.6L134.3,447.6L134.3,447.7L135.1,447.7L135.1,443.7L135.9,443.7L135.9,446.2L136.7,446.2L136.7,454.9L137.5,454.9L137.5,454.6L138.3,454.6L138.3,453.7L139.1,453.7L139.1,453.6L139.9,453.6L139.9,454.3L140.7,454.3L140.7,454.2L141.5,454.2L141.5,454.2L142.3,454.2L142.3,454.2L143.1,454.2L143.1,453.9L143.9,453.9L143.9,452.6L144.7,452.6L144.7,451.7L145.5,451.7L145.5,452.4L146.3,452.4L146.3,452.0L147.1,452.0L147.1,452.8L147.9,452.8L147.9,455.6L148.7,455.6L148.7,455.6L149.5,455.6L149.5,455.6L150.3,455.6L150.3,455.6L151.1,455.6L151.1,455.6L151.9,455.6L151.9,455.6L152.7,455.6L152.7,455.6L153.5,455.6L153.5,455.6L154.3,455.6L154.3,455.6L155.1,455.6L155.1,455.6L155.9,455.6L155.9,450.9L156.7,450.9L156.7,450.8L157.5,450.8L157.5,453.4L158.3,453.4L158.3,448.6L159.1,448.6L159.1,448.1L159.9,448.1L159.9,448.9L160.7,448.9L160.7,451.7L161.5,451.7L161.5,450.4L162.3,450.4L162.3,451.1L163.1,451.1L163.1,450.7L163.9,450.7L163.9,449.6L164.7,449.6L164.7,450.0L165.5,450.0L165.5,454.6L166.3,454.6L166.3,453.9L167.1,453.9L167.1,454.7L167.9,454.7L167.9,453.5L168.7,453.5L168.7,452.1L169.5,452.1L169.5,451.9L170.3,451.9L170.3,453.6L171.1,453.6L171.1,453.3L171.9,453.3L171.9,454.8L172.7,454.8L172.7,454.7L173.5,454.7L173.5,453.6L174.3,453.6L174.3,454.3L175.1,454.3L175.1,453.3L175.9,453.3L175.9,448.8L176.7,448.8L176.7,451.8L177.5,451.8L177.5,448.4L178.3,448.4L178.3,444.5L179.1,444.5L179.1,447.2L179.9,447.2L179.9,440.9L180.7,440.9L180.7,445.3L181.5,445.3L181.5,445.5L182.3,445.5L182.3,444.0L183.1,444.0L183.1,442.4L183.9,442.4L183.9,445.5L184.7,445.5L184.7,445.7L185.5,445.7L185.5,446.4L186.3,446.4L186.3,446.2L187.1,446.2L187.1,451.8L187.9,451.8L187.9,450.3L188.7,450.3L188.7,452.2L189.5,452.2L189.5,453.6L190.3,453.6L190.3,453.0L191.1,453.0L191.1,454.7L191.9,454.7L191.9,454.4L192.7,454.4L192.7,454.5L193.5,454.5L193.5,455.6L194.3,455.6L194.3,455.6L195.1,455.6L195.1,455.6L195.9,455.6L195.9,455.6L196.7,455.6L196.7,455.6L197.5,455.6L197.5,455.6L198.3,455.6L198.3,455.6L199.1,455.6L199.1,455.6L199.9,455.6L199.9,455.6L200.7,455.6L200.7,455.6L201.5,455.6L201.5,455.6L202.3,455.6L202.3,455.6L203.1,455.6L203.1,455.6L203.9,455.6L203.9,455.6L204.7,455.6L204.7,455.6L205.5,455.6L205.5,455.6L206.3,455.6L206.3,449.7L207.1,449.7L207.1,451.3L207.9,451.3L207.9,448.2L208.7,448.2L208.7,453.2L209.5,453.2L209.5,453.7L210.3,453.7L210.3,453.8L211.1,453.8L211.1,453.9L211.9,453.9L211.9,454.8L212.7,454.8L212.7,454.7L213.5,454.7L213.5,455.2L214.3,455.2L214.3,454.7L215.1,454.7L215.1,455.1L215.9,455.1L215.9,454.7L216.7,454.7L216.7,455.0L217.5,455.0L217.5,454.3L218.3,454.3L218.3,454.7L219.1,454.7L219.1,454.7L219.9,454.7L219.9,454.5L220.7,454.5L220.7,454.6L221.5,454.6L221.5,454.6L222.3,454.6L222.3,455.0L223.1,455.0L223.1,452.4L223.9,452.4L223.9,453.2L224.7,453.2L224.7,452.3L225.5,452.3L225.5,452.4L226.3,452.4L226.3,441.7L227.1,441.7L227.1,442.9L227.9,442.9L227.9,444.7L228.7,444.7L228.7,451.1L229.5,451.1L229.5,453.2L230.3,453.2L230.3,453.5L231.1,453.5L231.1,452.1L231.9,452.1L231.9,452.1L232.7,452.1L232.7,452.1L233.5,452.1L233.5,452.8L234.3,452.8L234.3,447.7L235.1,447.7L235.1,448.5L235.9,448.5L235.9,450.2L236.7,450.2L236.7,448.3L237.5,448.3L237.5,446.9L238.3,446.9L238.3,454.4L239.1,454.4L239.1,454.5L239.9,454.5L239.9,453.4L240.7,453.4L240.7,451.8L241.5,451.8L241.5,453.6L242.3,453.6L242.3,452.9L243.1,452.9L243.1,454.2L243.9,454.2L243.9,455.6L244.7,455.6L244.7,455.6L245.5,455.6L245.5,455.6L246.3,455.6L246.3,455.6L247.1,455.6L247.1,455.6L247.9,455.6L247.9,455.6L248.7,455.6L248.7,455.6L249.5,455.6L249.5,455.6L250.3,455.6L250.3,455.6L251.1,455.6L251.1,455.6L251.9,455.6L251.9,455.6L252.7,455.6L252.7,452.4L253.5,452.4L253.5,452.6L254.3,452.6L254.3,448.8L255.1,448.8L255.1,452.3L255.9,452.3L255.9,448.8L256.7,448.8L256.7,446.8L257.5,446.8L257.5,446.0L258.3,446.0L258.3,449.0L259.1,449.0L259.1,445.6L259.9,445.6L259.9,445.0L260.7,445.0L260.7,443.8L261.5,443.8L261.5,455.6L262.3,455.6L262.3,455.6L263.1,455.6L263.1,455.6L263.9,455.6L263.9,455.6L264.7,455.6L264.7,455.6L265.5,455.6L265.5,449.1L266.3,449.1L266.3,448.4L267.1,448.4L267.1,448.1L267.9,448.1L267.9,455.6L268.7,455.6L268.7,455.6L269.5,455.6L269.5,455.6L270.3,455.6L270.3,449.6L271.1,449.6L271.1,451.3L271.9,451.3L271.9,455.6L272.7,455.6L272.7,455.6L273.5,455.6L273.5,455.6L274.3,455.6L274.3,455.6L275.1,455.6L275.1,455.6L275.9,455.6L275.9,455.6L276.7,455.6L276.7,455.6L277.5,455.6L277.5,445.0L278.3,445.0L278.3,444.7L279.1,444.7L279.1,443.6L279.9,443.6L279.9,448.8L280.7,448.8L280.7,446.1L281.5,446.1L281.5,449.2L282.3,449.2L282.3,446.1L283.1,446.1L283.1,450.1L283.9,450.1L283.9,449.0L284.7,449.0L284.7,450.5L285.5,450.5L285.5,451.1L286.3,451.1L286.3,449.4L287.1,449.4L287.1,450.3L287.9,450.3L287.9,450.7L288.7,450.7L288.7,452.5L289.5,452.5L289.5,451.1L290.3,451.1L290.3,451.5L291.1,451.5L291.1,452.3L291.9,452.3L291.9,449.8L292.7,449.8L292.7,451.2L293.5,451.2L293.5,452.1L294.3,452.1L294.3,448.7L295.1,448.7L295.1,448.7L295.9,448.7L295.9,449.9L296.7,449.9L296.7,448.8L297.5,448.8L297.5,444.8L298.3,444.8L298.3,444.1L299.1,444.1L299.1,445.3L299.9,445.3L299.9,445.2L300.7,445.2L300.7,447.1L301.5,447.1L301.5,448.2L302.3,448.2L302.3,446.2L303.1,446.2L303.1,447.8L303.9,447.8L303.9,446.3L304.7,446.3L304.7,455.6L305.5,455.6L305.5,455.6L306.3,455.6L306.3,455.6L307.1,455.6L307.1,455.6L307.9,455.6L307.9,455.6L308.7,455.6L308.7,455.6L309.5,455.6L309.5,444.3L310.3,444.3L310.3,445.2L311.1,445.2L311.1,444.3L311.9,444.3L311.9,442.0L312.7,442.0L312.7,452.7L313.5,452.7L313.5,452.9L314.3,452.9L314.3,452.9L315.1,452.9L315.1,452.2L315.9,452.2L315.9,452.8L316.7,452.8L316.7,455.6L317.5,455.6L317.5,455.6L318.3,455.6L318.3,455.6L319.1,455.6L319.1,455.6L319.9,455.6L319.9,455.6L320.7,455.6L320.7,455.6L321.5,455.6L321.5,455.6L322.3,455.6L322.3,455.6L323.1,455.6L323.1,455.6L323.9,455.6L323.9,455.6L324.7,455.6L324.7,455.6L325.5,455.6L325.5,455.6L326.3,455.6L326.3,455.6L327.1,455.6L327.1,455.6L327.9,455.6L327.9,455.6L328.7,455.6L328.7,455.6L329.5,455.6L329.5,455.6L330.3,455.6L330.3,455.6L331.1,455.6L331.1,455.6L331.9,455.6L331.9,455.6L332.7,455.6L332.7,455.6L333.5,455.6L333.5,455.6L334.3,455.6L334.3,452.1L335.1,452.1L335.1,451.9L335.9,451.9L335.9,455.6L336.7,455.6L336.7,455.6L337.5,455.6L337.5,455.6L338.3,455.6L338.3,455.6L339.1,455.6L339.1,455.6L339.9,455.6L339.9,449.3L340.7,449.3L340.7,449.8L341.5,449.8L341.5,449.5L342.3,449.5L342.3,450.3L343.1,450.3L343.1,448.0L343.9,448.0L343.9,447.4L344.7,447.4L344.7,447.9L345.5,447.9L345.5,446.9L346.3,446.9L346.3,446.3L347.1,446.3L347.1,445.6L347.9,445.6L347.9,445.3L348.7,445.3L348.7,448.1L349.5,448.1L349.5,450.2L350.3,450.2L350.3,449.0L351.1,449.0L351.1,449.0L351.9,449.0L351.9,451.4L352.7,451.4L352.7,451.0L353.5,451.0L353.5,452.3L354.3,452.3L354.3,452.8L355.1,452.8L355.1,449.5L355.9,449.5L355.9,453.2L356.7,453.2L356.7,449.7L357.5,449.7L357.5,455.6L358.3,455.6L358.3,455.6L359.1,455.6L359.1,455.6L359.9,455.6L359.9,455.6L360.7,455.6L360.7,455.6L361.5,455.6L361.5,455.6L362.3,455.6L362.3,455.6L363.1,455.6L363.1,455.6L363.9,455.6L363.9,455.6L364.7,455.6L364.7,455.6L365.5,455.6L365.5,455.6L366.3,455.6L366.3,455.6L367.1,455.6L367.1,455.6L367.9,455.6L367.9,455.6L368.7,455.6L368.7,455.6L369.5,455.6L369.5,451.0L370.3,451.0L370.3,453.2L371.1,453.2L371.1,455.6L371.9,455.6L371.9,455.6L372.7,455.6L372.7,455.6L373.5,455.6L373.5,455.6L374.3,455.6L374.3,455.6L375.1,455.6L375.1,455.6L375.9,455.6L375.9,455.6L376.7,455.6L376.7,455.6L377.5,455.6L377.5,455.6L378.3,455.6L378.3,455.6L379.1,455.6L379.1,455.6L379.9,455.6L379.9,449.1L380.7,449.1L380.7,452.6L381.5,452.6L381.5,449.5L382.3,449.5L382.3,455.3L383.1,455.3L383.1,454.8L383.9,454.8L383.9,454.7L384.7,454.7L384.7,455.0L385.5,455.0L385.5,455.1L386.3,455.1L386.3,447.2L387.1,447.2L387.1,449.0L387.9,449.0L387.9,447.7L388.7,447.7L388.7,452.0L389.5,452.0L389.5,449.1L390.3,449.1L390.3,446.2L391.1,446.2L391.1,446.5L391.9,446.5L391.9,448.6L392.7,448.6L392.7,448.8L393.5,448.8L393.5,448.7L394.3,448.7L394.3,448.0L395.1,448.0L395.1,448.5L395.9,448.5L395.9,451.4L396.7,451.4L396.7,449.0L397.5,449.0L397.5,448.3L398.3,448.3L398.3,448.5L399.1,448.5L399.1,449.5L399.9,449.5L399.9,451.6L400.7,451.6L400.7,455.0L401.5,455.0L401.5,454.6L402.3,454.6L402.3,455.2L403.1,455.2L403.1,454.7L403.9,454.7L403.9,454.8L404.7,454.8L404.7,455.1L405.5,455.1L405.5,455.0L406.3,455.0L406.3,454.6L407.1,454.6L407.1,454.7L407.9,454.7L407.9,454.8L408.7,454.8L408.7,455.1L409.5,455.1L409.5,447.0L410.3,447.0L410.3,445.5L411.1,445.5L411.1,453.0L411.9,453.0L411.9,453.9L412.7,453.9L412.7,452.8L413.5,452.8L413.5,453.6L414.3,453.6L414.3,451.8L415.1,451.8L415.1,452.4L415.9,452.4L415.9,451.3L416.7,451.3L416.7,451.8L417.5,451.8L417.5,450.8L418.3,450.8L418.3,452.0L419.1,452.0L419.1,449.7L419.9,449.7L419.9,449.3L420.7,449.3L420.7,449.0L421.5,449.0L421.5,450.3L422.3,450.3L422.3,450.3L423.1,450.3L423.1,448.0L423.9,448.0L423.9,447.8L424.7,447.8L424.7,447.1L425.5,447.1L425.5,446.0L426.3,446.0L426.3,455.6L427.1,455.6L427.1,455.5L427.9,455.5L427.9,455.5L428.7,455.5L428.7,455.6L429.5,455.6L429.5,455.6L430.3,455.6L430.3,455.6L431.1,455.6L431.1,455.4L431.9,455.4L431.9,455.6L432.7,455.6L432.7,455.5L433.5,455.5L433.5,455.6L434.3,455.6L434.3,455.6L435.1,455.6L435.1,455.3L435.9,455.3L435.9,455.6L436.7,455.6L436.7,455.6L437.5,455.6L437.5,455.6L438.3,455.6L438.3,455.6L439.1,455.6L439.1,455.3L439.9,455.3L439.9,455.5L440.7,455.5L440.7,451.3L441.5,451.3L441.5,451.7L442.3,451.7L442.3,451.7L443.1,451.7L443.1,455.2L443.9,455.2L443.9,454.5L444.7,454.5L444.7,455.3L445.5,455.3L445.5,455.5L446.3,455.5L446.3,454.8L447.1,454.8L447.1,454.7L447.9,454.7L447.9,454.6L448.7,454.6L448.7,454.7L449.5,454.7L449.5,454.7L450.3,454.7L450.3,455.0L451.1,455.0L451.1,453.3L451.9,453.3L451.9,454.0L452.7,454.0L452.7,453.5L453.5,453.5L453.5,452.3L454.3,452.3L454.3,451.8L455.1,451.8L455.1,452.0L455.9,452.0L455.9,452.0L456.7,452.0L456.7,453.3L457.5,453.3L457.5,453.4L458.3,453.4L458.3,455.4L459.1,455.4L459.1,455.6L459.9,455.6L459.9,455.6L460.7,455.6L460.7,455.5L461.5,455.5L461.5,455.6L462.3,455.6L462.3,455.3L463.1,455.3L463.1,455.6L463.9,455.6L463.9,455.3L464.7,455.3L464.7,455.3L465.5,455.3L465.5,449.2L466.3,449.2L466.3,447.7L467.1,447.7L467.1,449.5L467.9,449.5L467.9,449.8L468.7,449.8L468.7,453.1L469.5,453.1L469.5,453.6L470.3,453.6L470.3,455.6L471.1,455.6L471.1,455.6L471.9,455.6L471.9,455.6L472.7,455.6L472.7,455.6L473.5,455.6L473.5,455.6L474.3,455.6L474.3,455.6L475.1,455.6L475.1,455.6L475.9,455.6L475.9,455.6L476.7,455.6L476.7,455.6L477.5,455.6L477.5,455.6L478.3,455.6L478.3,455.6L479.1,455.6L479.1,455.6L479.9,455.6L479.9,455.6L480.7,455.6L480.7,455.6L481.5,455.6L481.5,455.6L482.3,455.6L482.3,453.1L483.1,453.1L483.1,452.0L483.9,452.0L483.9,453.8L484.7,453.8L484.7,453.0L485.5,453.0L485.5,453.5L486.3,453.5L486.3,454.0L487.1,454.0L487.1,453.0L487.9,453.0L487.9,451.7L488.7,451.7L488.7,453.1L489.5,453.1L489.5,448.7L490.3,448.7L490.3,446.4L491.1,446.4L491.1,444.5L491.9,444.5L491.9,446.2L492.7,446.2L492.7,445.8L493.5,445.8L493.5,444.6L494.3,444.6L494.3,444.3L495.1,444.3L495.1,444.0L495.9,444.0L495.9,445.5L496.7,445.5L496.7,443.2L497.5,443.2L497.5,446.9L498.3,446.9L498.3,444.7L499.1,444.7L499.1,443.6L499.9,443.6L499.9,443.7L500.7,443.7L500.7,447.2L501.5,447.2L501.5,446.7L502.3,446.7L502.3,445.3L503.1,445.3L503.1,447.3L503.9,447.3L503.9,443.9L504.7,443.9L504.7,443.2L505.5,443.2L505.5,448.7L506.3,448.7L506.3,446.5L507.1,446.5L507.1,446.0L507.9,446.0L507.9,449.3L508.7,449.3L508.7,447.1L509.5,447.1L509.5,450.4L510.3,450.4L510.3,446.4L511.1,446.4L511.1,448.3L511.9,448.3L511.9,455.1L512.7,455.1L512.7,454.6L513.5,454.6L513.5,454.9L514.3,454.9L514.3,454.6L515.1,454.6L515.1,455.4L515.9,455.4L515.9,454.6L516.7,454.6L516.7,454.8L517.5,454.8L517.5,455.0L518.3,455.0L518.3,455.1L519.1,455.1L519.1,454.7L519.9,454.7L519.9,454.8L520.7,454.8L520.7,455.0L521.5,455.0L521.5,454.8L522.3,454.8L522.3,454.9L523.1,454.9L523.1,454.6L523.9,454.6L523.9,455.4L524.7,455.4L524.7,454.9L525.5,454.9L525.5,455.0L526.3,455.0L526.3,455.3L527.1,455.3L527.1,455.2L527.9,455.2L527.9,454.8L528.7,454.8L528.7,455.4L529.5,455.4L529.5,449.2L530.3,449.2L530.3,449.2L531.1,449.2L531.1,447.4L531.9,447.4L531.9,449.8L532.7,449.8L532.7,442.6L533.5,442.6L533.5,443.2L534.3,443.2L534.3,447.0L535.1,447.0L535.1,442.7L535.9,442.7L535.9,442.5L536.7,442.5L536.7,445.2L537.5,445.2L537.5,449.3L538.3,449.3L538.3,451.1L539.1,451.1L539.1,450.4L539.9,450.4L539.9,454.8L540.7,454.8L540.7,454.7L541.5,454.7L541.5,455.1L542.3,455.1L542.3,454.7L543.1,454.7L543.1,454.6L543.9,454.6L543.9,455.4L544.7,455.4L544.7,455.4L545.5,455.4L545.5,455.3L546.3,455.3L546.3,455.4L547.1,455.4L547.1,448.6L547.9,448.6L547.9,448.0L548.7,448.0L548.7,454.0L549.5,454.0L549.5,453.4L550.3,453.4L550.3,454.3L551.1,454.3L551.1,453.7L551.9,453.7L551.9,454.3L552.7,454.3L552.7,454.4L553.5,454.4L553.5,453.8L554.3,453.8L554.3,453.4L555.1,453.4L555.1,453.9L555.9,453.9L555.9,454.7L556.7,454.7L556.7,454.2L557.5,454.2L557.5,453.2L558.3,453.2L558.3,452.3L559.1,452.3L559.1,450.2L559.9,450.2L559.9,452.1L560.7,452.1L560.7,450.8L561.5,450.8L561.5,453.2L562.3,453.2L562.3,454.4L563.1,454.4L563.1,454.0L563.9,454.0L563.9,453.2L564.7,453.2L564.7,453.2L565.5,453.2L565.5,442.9L566.3,442.9L566.3,447.1L567.1,447.1L567.1,442.5L567.9,442.5L567.9,444.3L568.7,444.3L568.7,443.3L569.5,443.3L569.5,443.8L570.3,443.8L570.3,448.7L571.1,448.7L571.1,448.7L571.9,448.7L571.9,452.9L572.7,452.9L572.7,452.7L573.5,452.7L573.5,455.6L574.3,455.6L574.3,455.6L575.1,455.6L575.1,455.6L575.9,455.6L575.9,455.6L576.7,455.6L576.7,455.6L577.5,455.6L577.5,455.6L578.3,455.6L578.3,455.6L579.1,455.6L579.1,455.6L579.9,455.6L579.9,455.6L580.7,455.6L580.7,455.6L581.5,455.6L581.5,455.6L582.3,455.6L582.3,455.6L583.1,455.6L583.1,455.6L583.9,455.6L583.9,455.6L584.7,455.6L584.7,455.6L585.5,455.6L585.5,448.2L586.3,448.2L586.3,447.8L587.1,447.8L587.1,446.4L587.9,446.4L587.9,447.7L588.7,447.7L588.7,444.5L589.5,444.5L589.5,444.9L590.3,444.9L590.3,444.7L591.1,444.7L591.1,445.2L591.9,445.2L591.9,442.9L592.7,442.9L592.7,444.2L593.5,444.2L593.5,441.7L594.3,441.7L594.3,442.2L595.1,442.2L595.1,445.5L595.9,445.5L595.9,444.1L596.7,444.1L596.7,445.8L597.5,445.8L597.5,444.1L598.3,444.1L598.3,444.1L599.1,444.1L599.1,447.5L599.9,447.5L599.9,448.9L600.7,448.9L600.7,448.3L601.5,448.3L601.5,450.9L602.3,450.9L602.3,451.3L603.1,451.3L603.1,449.8L603.9,449.8L603.9,448.0L604.7,448.0L604.7,451.4L605.5,451.4L605.5,451.1L606.3,451.1L606.3,451.1L607.1,451.1L607.1,452.1L607.9,452.1L607.9,453.7L608.7,453.7L608.7,451.2L609.5,451.2L609.5,451.1L610.3,451.1L610.3,453.5L611.1,453.5L611.1,452.7L611.9,452.7L611.9,451.9L612.7,451.9L612.7,452.9L613.5,452.9L613.5,453.5L614.3,453.5L614.3,451.1L615.1,451.1L615.1,451.7L615.9,451.7L615.9,452.1L616.7,452.1L616.7,453.8L617.5,453.8L617.5,447.5L618.3,447.5L618.3,451.1L619.1,451.1L619.1,449.2L619.9,449.2L619.9,451.7L620.7,451.7L620.7,453.3L621.5,453.3L621.5,453.4L622.3,453.4L622.3,451.9L623.1,451.9L623.1,453.7L623.9,453.7L623.9,453.8L624.7,453.8L624.7,453.9L625.5,453.9L625.5,451.6L626.3,451.6L626.3,452.2L627.1,452.2L627.1,452.3L627.9,452.3L627.9,451.8L628.7,451.8L628.7,452.1L629.5,452.1L629.5,451.1L630.3,451.1L630.3,450.1L631.1,450.1L631.1,448.6L631.9,448.6L631.9,450.5L632.7,450.5L632.7,443.3L633.5,443.3L633.5,443.6L634.3,443.6L634.3,445.9L635.1,445.9L635.1,442.5L635.9,442.5L635.9,444.9L636.7,444.9L636.7,445.6L637.5,445.6L637.5,442.8L638.3,442.8L638.3,442.5L639.1,442.5L639.1,453.9L639.9,453.9L639.9,453.8L640.7,453.8L640.7,452.9L641.5,452.9L641.5,451.9L642.3,451.9L642.3,453.3L643.1,453.3L643.1,452.4L643.9,452.4L643.9,451.1L644.7,451.1L644.7,451.3L645.5,451.3L645.5,453.2L646.3,453.2L646.3,453.7L647.1,453.7L647.1,451.3L647.9,451.3L647.9,453.4L648.7,453.4L648.7,452.6L649.5,452.6L649.5,451.9L650.3,451.9L650.3,451.5L651.1,451.5L651.1,452.4L651.9,452.4L651.9,450.1L652.7,450.1L652.7,451.0L653.0,451.0L653.0,463.6L652.7,463.6L652.7,463.3L651.9,463.3L651.9,463.5L651.1,463.5L651.1,462.9L650.3,462.9L650.3,460.4L649.5,460.4L649.5,461.7L648.7,461.7L648.7,460.7L647.9,460.7L647.9,458.5L647.1,458.5L647.1,459.4L646.3,459.4L646.3,459.6L645.5,459.6L645.5,458.7L644.7,458.7L644.7,459.9L643.9,459.9L643.9,459.1L643.1,459.1L643.1,461.2L642.3,461.2L642.3,459.3L641.5,459.3L641.5,458.8L640.7,458.8L640.7,459.1L639.9,459.1L639.9,458.9L639.1,458.9L639.1,460.7L638.3,460.7L638.3,459.1L637.5,459.1L637.5,458.6L636.7,458.6L636.7,459.6L635.9,459.6L635.9,458.6L635.1,458.6L635.1,459.7L634.3,459.7L634.3,459.4L633.5,459.4L633.5,458.6L632.7,458.6L632.7,458.1L631.9,458.1L631.9,458.8L631.1,458.8L631.1,459.8L630.3,459.8L630.3,459.1L629.5,459.1L629.5,458.3L628.7,458.3L628.7,458.9L627.9,458.9L627.9,458.9L627.1,458.9L627.1,458.7L626.3,458.7L626.3,459.3L625.5,459.3L625.5,459.9L624.7,459.9L624.7,460.6L623.9,460.6L623.9,459.9L623.1,459.9L623.1,461.1L622.3,461.1L622.3,459.5L621.5,459.5L621.5,460.6L620.7,460.6L620.7,459.4L619.9,459.4L619.9,458.5L619.1,458.5L619.1,460.6L618.3,460.6L618.3,459.4L617.5,459.4L617.5,458.8L616.7,458.8L616.7,459.9L615.9,459.9L615.9,460.6L615.1,460.6L615.1,459.9L614.3,459.9L614.3,460.3L613.5,460.3L613.5,459.8L612.7,459.8L612.7,460.2L611.9,460.2L611.9,461.1L611.1,461.1L611.1,461.0L610.3,461.0L610.3,461.0L609.5,461.0L609.5,460.3L608.7,460.3L608.7,462.6L607.9,462.6L607.9,460.4L607.1,460.4L607.1,460.2L606.3,460.2L606.3,461.4L605.5,461.4L605.5,458.0L604.7,458.0L604.7,459.7L603.9,459.7L603.9,458.5L603.1,458.5L603.1,458.5L602.3,458.5L602.3,459.3L601.5,459.3L601.5,457.9L600.7,457.9L600.7,459.3L599.9,459.3L599.9,458.8L599.1,458.8L599.1,456.8L598.3,456.8L598.3,456.8L597.5,456.8L597.5,456.9L596.7,456.9L596.7,456.8L595.9,456.8L595.9,456.8L595.1,456.8L595.1,457.0L594.3,457.0L594.3,456.9L593.5,456.9L593.5,457.0L592.7,457.0L592.7,456.8L591.9,456.8L591.9,456.8L591.1,456.8L591.1,456.8L590.3,456.8L590.3,456.8L589.5,456.8L589.5,456.8L588.7,456.8L588.7,456.8L587.9,456.8L587.9,457.0L587.1,457.0L587.1,456.8L586.3,456.8L586.3,456.8L585.5,456.8L585.5,459.8L584.7,459.8L584.7,464.2L583.9,464.2L583.9,459.7L583.1,459.7L583.1,462.8L582.3,462.8L582.3,461.1L581.5,461.1L581.5,462.2L580.7,462.2L580.7,466.1L579.9,466.1L579.9,468.7L579.1,468.7L579.1,464.7L578.3,464.7L578.3,468.3L577.5,468.3L577.5,468.9L576.7,468.9L576.7,460.7L575.9,460.7L575.9,463.2L575.1,463.2L575.1,463.3L574.3,463.3L574.3,463.4L573.5,463.4L573.5,462.8L572.7,462.8L572.7,458.4L571.9,458.4L571.9,459.8L571.1,459.8L571.1,458.8L570.3,458.8L570.3,458.6L569.5,458.6L569.5,459.3L568.7,459.3L568.7,459.3L567.9,459.3L567.9,458.3L567.1,458.3L567.1,458.1L566.3,458.1L566.3,458.0L565.5,458.0L565.5,458.5L564.7,458.5L564.7,459.5L563.9,459.5L563.9,457.9L563.1,457.9L563.1,459.8L562.3,459.8L562.3,458.8L561.5,458.8L561.5,458.5L560.7,458.5L560.7,458.5L559.9,458.5L559.9,458.4L559.1,458.4L559.1,458.4L558.3,458.4L558.3,459.7L557.5,459.7L557.5,459.1L556.7,459.1L556.7,458.6L555.9,458.6L555.9,458.0L555.1,458.0L555.1,459.8L554.3,459.8L554.3,458.9L553.5,458.9L553.5,459.4L552.7,459.4L552.7,459.1L551.9,459.1L551.9,459.4L551.1,459.4L551.1,459.2L550.3,459.2L550.3,458.3L549.5,458.3L549.5,458.9L548.7,458.9L548.7,458.8L547.9,458.8L547.9,462.2L547.1,462.2L547.1,461.7L546.3,461.7L546.3,463.0L545.5,463.0L545.5,460.9L544.7,460.9L544.7,466.1L543.9,466.1L543.9,470.4L543.1,470.4L543.1,468.6L542.3,468.6L542.3,463.0L541.5,463.0L541.5,467.0L540.7,467.0L540.7,464.6L539.9,464.6L539.9,465.5L539.1,465.5L539.1,458.3L538.3,458.3L538.3,459.2L537.5,459.2L537.5,459.8L536.7,459.8L536.7,459.7L535.9,459.7L535.9,459.6L535.1,459.6L535.1,458.1L534.3,458.1L534.3,458.2L533.5,458.2L533.5,459.1L532.7,459.1L532.7,459.6L531.9,459.6L531.9,458.1L531.1,458.1L531.1,458.6L530.3,458.6L530.3,459.4L529.5,459.4L529.5,459.8L528.7,459.8L528.7,459.6L527.9,459.6L527.9,461.6L527.1,461.6L527.1,464.2L526.3,464.2L526.3,460.6L525.5,460.6L525.5,462.8L524.7,462.8L524.7,462.1L523.9,462.1L523.9,464.0L523.1,464.0L523.1,463.6L522.3,463.6L522.3,460.7L521.5,460.7L521.5,462.5L520.7,462.5L520.7,462.7L519.9,462.7L519.9,461.5L519.1,461.5L519.1,463.4L518.3,463.4L518.3,462.2L517.5,462.2L517.5,462.5L516.7,462.5L516.7,462.2L515.9,462.2L515.9,466.0L515.1,466.0L515.1,461.7L514.3,461.7L514.3,465.4L513.5,465.4L513.5,464.7L512.7,464.7L512.7,462.4L511.9,462.4L511.9,462.1L511.1,462.1L511.1,456.8L510.3,456.8L510.3,456.8L509.5,456.8L509.5,456.8L508.7,456.8L508.7,456.8L507.9,456.8L507.9,456.8L507.1,456.8L507.1,456.8L506.3,456.8L506.3,456.8L505.5,456.8L505.5,456.8L504.7,456.8L504.7,456.8L503.9,456.8L503.9,456.8L503.1,456.8L503.1,456.8L502.3,456.8L502.3,456.8L501.5,456.8L501.5,456.8L500.7,456.8L500.7,456.8L499.9,456.8L499.9,456.8L499.1,456.8L499.1,456.8L498.3,456.8L498.3,456.8L497.5,456.8L497.5,456.8L496.7,456.8L496.7,456.8L495.9,456.8L495.9,456.8L495.1,456.8L495.1,456.8L494.3,456.8L494.3,456.8L493.5,456.8L493.5,456.8L492.7,456.8L492.7,456.8L491.9,456.8L491.9,456.8L491.1,456.8L491.1,456.8L490.3,456.8L490.3,456.8L489.5,456.8L489.5,456.8L488.7,456.8L488.7,459.0L487.9,459.0L487.9,457.5L487.1,457.5L487.1,458.0L486.3,458.0L486.3,459.8L485.5,459.8L485.5,460.0L484.7,460.0L484.7,459.2L483.9,459.2L483.9,458.6L483.1,458.6L483.1,461.2L482.3,461.2L482.3,469.3L481.5,469.3L481.5,471.1L480.7,471.1L480.7,467.7L479.9,467.7L479.9,469.8L479.1,469.8L479.1,468.7L478.3,468.7L478.3,468.2L477.5,468.2L477.5,470.3L476.7,470.3L476.7,467.1L475.9,467.1L475.9,469.0L475.1,469.0L475.1,469.6L474.3,469.6L474.3,467.6L473.5,467.6L473.5,470.9L472.7,470.9L472.7,471.2L471.9,471.2L471.9,468.5L471.1,468.5L471.1,466.4L470.3,466.4L470.3,470.2L469.5,470.2L469.5,457.7L468.7,457.7L468.7,458.4L467.9,458.4L467.9,458.5L467.1,458.5L467.1,458.9L466.3,458.9L466.3,458.1L465.5,458.1L465.5,457.9L464.7,457.9L464.7,458.3L463.9,458.3L463.9,458.6L463.1,458.6L463.1,462.3L462.3,462.3L462.3,462.6L461.5,462.6L461.5,462.1L460.7,462.1L460.7,462.6L459.9,462.6L459.9,463.2L459.1,463.2L459.1,461.4L458.3,461.4L458.3,461.2L457.5,461.2L457.5,459.1L456.7,459.1L456.7,459.2L455.9,459.2L455.9,460.1L455.1,460.1L455.1,462.8L454.3,462.8L454.3,460.4L453.5,460.4L453.5,459.6L452.7,459.6L452.7,459.3L451.9,459.3L451.9,459.7L451.1,459.7L451.1,459.5L450.3,459.5L450.3,459.9L449.5,459.9L449.5,460.7L448.7,460.7L448.7,459.5L447.9,459.5L447.9,459.7L447.1,459.7L447.1,459.3L446.3,459.3L446.3,460.2L445.5,460.2L445.5,462.4L444.7,462.4L444.7,460.6L443.9,460.6L443.9,460.3L443.1,460.3L443.1,461.2L442.3,461.2L442.3,463.7L441.5,463.7L441.5,462.8L440.7,462.8L440.7,462.4L439.9,462.4L439.9,461.8L439.1,461.8L439.1,462.5L438.3,462.5L438.3,462.1L437.5,462.1L437.5,462.8L436.7,462.8L436.7,460.7L435.9,460.7L435.9,462.1L435.1,462.1L435.1,462.8L434.3,462.8L434.3,462.9L433.5,462.9L433.5,463.2L432.7,463.2L432.7,464.0L431.9,464.0L431.9,465.9L431.1,465.9L431.1,462.7L430.3,462.7L430.3,465.0L429.5,465.0L429.5,469.9L428.7,469.9L428.7,466.5L427.9,466.5L427.9,465.7L427.1,465.7L427.1,466.3L426.3,466.3L426.3,456.8L425.5,456.8L425.5,456.8L424.7,456.8L424.7,456.8L423.9,456.8L423.9,456.8L423.1,456.8L423.1,456.8L422.3,456.8L422.3,456.8L421.5,456.8L421.5,456.8L420.7,456.8L420.7,456.8L419.9,456.8L419.9,456.8L419.1,456.8L419.1,456.8L418.3,456.8L418.3,456.8L417.5,456.8L417.5,457.8L416.7,457.8L416.7,457.2L415.9,457.2L415.9,457.4L415.1,457.4L415.1,457.9L414.3,457.9L414.3,457.4L413.5,457.4L413.5,457.0L412.7,457.0L412.7,457.6L411.9,457.6L411.9,457.7L411.1,457.7L411.1,457.2L410.3,457.2L410.3,457.0L409.5,457.0L409.5,462.2L408.7,462.2L408.7,461.6L407.9,461.6L407.9,460.3L407.1,460.3L407.1,460.0L406.3,460.0L406.3,460.0L405.5,460.0L405.5,460.7L404.7,460.7L404.7,460.6L403.9,460.6L403.9,462.3L403.1,462.3L403.1,460.9L402.3,460.9L402.3,461.1L401.5,461.1L401.5,461.6L400.7,461.6L400.7,457.1L399.9,457.1L399.9,456.9L399.1,456.9L399.1,457.1L398.3,457.1L398.3,456.8L397.5,456.8L397.5,457.0L396.7,457.0L396.7,457.3L395.9,457.3L395.9,457.2L395.1,457.2L395.1,456.8L394.3,456.8L394.3,456.8L393.5,456.8L393.5,456.9L392.7,456.9L392.7,456.9L391.9,456.9L391.9,456.9L391.1,456.9L391.1,457.0L390.3,457.0L390.3,457.0L389.5,457.0L389.5,457.2L388.7,457.2L388.7,456.8L387.9,456.8L387.9,457.2L387.1,457.2L387.1,457.3L386.3,457.3L386.3,457.3L385.5,457.3L385.5,456.8L384.7,456.8L384.7,456.9L383.9,456.9L383.9,457.1L383.1,457.1L383.1,456.8L382.3,456.8L382.3,461.9L381.5,461.9L381.5,463.8L380.7,463.8L380.7,462.5L379.9,462.5L379.9,460.2L379.1,460.2L379.1,462.2L378.3,462.2L378.3,468.9L377.5,468.9L377.5,471.5L376.7,471.5L376.7,468.3L375.9,468.3L375.9,467.7L375.1,467.7L375.1,469.5L374.3,469.5L374.3,466.7L373.5,466.7L373.5,469.2L372.7,469.2L372.7,466.2L371.9,466.2L371.9,466.2L371.1,466.2L371.1,465.0L370.3,465.0L370.3,461.5L369.5,461.5L369.5,465.6L368.7,465.6L368.7,461.6L367.9,461.6L367.9,470.7L367.1,470.7L367.1,466.1L366.3,466.1L366.3,465.9L365.5,465.9L365.5,468.0L364.7,468.0L364.7,467.5L363.9,467.5L363.9,467.2L363.1,467.2L363.1,469.9L362.3,469.9L362.3,464.7L361.5,464.7L361.5,464.4L360.7,464.4L360.7,466.6L359.9,466.6L359.9,464.1L359.1,464.1L359.1,464.1L358.3,464.1L358.3,464.3L357.5,464.3L357.5,463.9L356.7,463.9L356.7,464.8L355.9,464.8L355.9,462.0L355.1,462.0L355.1,457.0L354.3,457.0L354.3,457.3L353.5,457.3L353.5,457.3L352.7,457.3L352.7,456.9L351.9,456.9L351.9,457.0L351.1,457.0L351.1,457.2L350.3,457.2L350.3,456.8L349.5,456.8L349.5,456.8L348.7,456.8L348.7,457.2L347.9,457.2L347.9,456.8L347.1,456.8L347.1,456.8L346.3,456.8L346.3,456.9L345.5,456.9L345.5,457.1L344.7,457.1L344.7,457.2L343.9,457.2L343.9,457.0L343.1,457.0L343.1,457.2L342.3,457.2L342.3,456.8L341.5,456.8L341.5,456.8L340.7,456.8L340.7,457.2L339.9,457.2L339.9,465.3L339.1,465.3L339.1,467.5L338.3,467.5L338.3,468.4L337.5,468.4L337.5,463.7L336.7,463.7L336.7,464.0L335.9,464.0L335.9,464.0L335.1,464.0L335.1,466.2L334.3,466.2L334.3,466.3L333.5,466.3L333.5,463.9L332.7,463.9L332.7,466.2L331.9,466.2L331.9,465.7L331.1,465.7L331.1,465.4L330.3,465.4L330.3,464.3L329.5,464.3L329.5,465.7L328.7,465.7L328.7,466.0L327.9,466.0L327.9,463.7L327.1,463.7L327.1,462.9L326.3,462.9L326.3,463.2L325.5,463.2L325.5,467.5L324.7,467.5L324.7,467.8L323.9,467.8L323.9,466.3L323.1,466.3L323.1,469.2L322.3,469.2L322.3,467.3L321.5,467.3L321.5,468.7L320.7,468.7L320.7,464.2L319.9,464.2L319.9,463.1L319.1,463.1L319.1,464.0L318.3,464.0L318.3,464.3L317.5,464.3L317.5,463.8L316.7,463.8L316.7,459.1L315.9,459.1L315.9,459.1L315.1,459.1L315.1,460.5L314.3,460.5L314.3,460.7L313.5,460.7L313.5,459.8L312.7,459.8L312.7,459.0L311.9,459.0L311.9,460.0L311.1,460.0L311.1,459.9L310.3,459.9L310.3,460.2L309.5,460.2L309.5,458.9L308.7,458.9L308.7,458.5L307.9,458.5L307.9,464.0L307.1,464.0L307.1,461.1L306.3,461.1L306.3,464.9L305.5,464.9L305.5,464.4L304.7,464.4L304.7,457.2L303.9,457.2L303.9,457.1L303.1,457.1L303.1,457.1L302.3,457.1L302.3,457.1L301.5,457.1L301.5,457.1L300.7,457.1L300.7,456.8L299.9,456.8L299.9,456.8L299.1,456.8L299.1,457.0L298.3,457.0L298.3,456.8L297.5,456.8L297.5,456.8L296.7,456.8L296.7,456.8L295.9,456.8L295.9,457.1L295.1,457.1L295.1,457.1L294.3,457.1L294.3,457.1L293.5,457.1L293.5,456.8L292.7,456.8L292.7,456.8L291.9,456.8L291.9,457.0L291.1,457.0L291.1,456.9L290.3,456.9L290.3,456.8L289.5,456.8L289.5,457.2L288.7,457.2L288.7,456.9L287.9,456.9L287.9,456.9L287.1,456.9L287.1,456.9L286.3,456.9L286.3,457.0L285.5,457.0L285.5,456.8L284.7,456.8L284.7,457.0L283.9,457.0L283.9,456.8L283.1,456.8L283.1,457.1L282.3,457.1L282.3,456.8L281.5,456.8L281.5,457.0L280.7,457.0L280.7,456.9L279.9,456.9L279.9,456.8L279.1,456.8L279.1,456.8L278.3,456.8L278.3,456.9L277.5,456.9L277.5,457.2L276.7,457.2L276.7,456.9L275.9,456.9L275.9,457.0L275.1,457.0L275.1,457.6L274.3,457.6L274.3,458.9L273.5,458.9L273.5,458.3L272.7,458.3L272.7,458.3L271.9,458.3L271.9,457.5L271.1,457.5L271.1,457.9L270.3,457.9L270.3,458.3L269.5,458.3L269.5,458.9L268.7,458.9L268.7,459.0L267.9,459.0L267.9,459.1L267.1,459.1L267.1,458.1L266.3,458.1L266.3,459.2L265.5,459.2L265.5,459.0L264.7,459.0L264.7,459.5L263.9,459.5L263.9,459.8L263.1,459.8L263.1,458.3L262.3,458.3L262.3,458.9L261.5,458.9L261.5,456.8L260.7,456.8L260.7,456.8L259.9,456.8L259.9,456.8L259.1,456.8L259.1,456.8L258.3,456.8L258.3,456.8L257.5,456.8L257.5,456.8L256.7,456.8L256.7,456.8L255.9,456.8L255.9,458.0L255.1,458.0L255.1,457.6L254.3,457.6L254.3,457.9L253.5,457.9L253.5,458.3L252.7,458.3L252.7,457.9L251.9,457.9L251.9,458.4L251.1,458.4L251.1,458.3L250.3,458.3L250.3,458.5L249.5,458.5L249.5,458.2L248.7,458.2L248.7,458.6L247.9,458.6L247.9,458.1L247.1,458.1L247.1,461.2L246.3,461.2L246.3,459.0L245.5,459.0L245.5,460.6L244.7,460.6L244.7,458.8L243.9,458.8L243.9,458.7L243.1,458.7L243.1,459.2L242.3,459.2L242.3,460.2L241.5,460.2L241.5,461.3L240.7,461.3L240.7,456.8L239.9,456.8L239.9,456.8L239.1,456.8L239.1,456.8L238.3,456.8L238.3,456.8L237.5,456.8L237.5,456.8L236.7,456.8L236.7,456.8L235.9,456.8L235.9,456.8L235.1,456.8L235.1,456.8L234.3,456.8L234.3,456.8L233.5,456.8L233.5,456.8L232.7,456.8L232.7,456.8L231.9,456.8L231.9,456.8L231.1,456.8L231.1,456.8L230.3,456.8L230.3,456.8L229.5,456.8L229.5,456.8L228.7,456.8L228.7,456.8L227.9,456.8L227.9,456.8L227.1,456.8L227.1,456.8L226.3,456.8L226.3,456.8L225.5,456.8L225.5,456.8L224.7,456.8L224.7,456.8L223.9,456.8L223.9,456.8L223.1,456.8L223.1,460.2L222.3,460.2L222.3,459.1L221.5,459.1L221.5,460.1L220.7,460.1L220.7,459.3L219.9,459.3L219.9,459.8L219.1,459.8L219.1,461.0L218.3,461.0L218.3,461.2L217.5,461.2L217.5,460.9L216.7,460.9L216.7,460.2L215.9,460.2L215.9,461.1L215.1,461.1L215.1,461.4L214.3,461.4L214.3,459.0L213.5,459.0L213.5,460.9L212.7,460.9L212.7,458.1L211.9,458.1L211.9,459.0L211.1,459.0L211.1,457.8L210.3,457.8L210.3,459.1L209.5,459.1L209.5,459.1L208.7,459.1L208.7,457.5L207.9,457.5L207.9,458.0L207.1,458.0L207.1,463.5L206.3,463.5L206.3,463.1L205.5,463.1L205.5,460.5L204.7,460.5L204.7,468.6L203.9,468.6L203.9,468.3L203.1,468.3L203.1,468.5L202.3,468.5L202.3,464.8L201.5,464.8L201.5,469.5L200.7,469.5L200.7,466.7L199.9,466.7L199.9,466.4L199.1,466.4L199.1,468.6L198.3,468.6L198.3,461.0L197.5,461.0L197.5,462.2L196.7,462.2L196.7,463.5L195.9,463.5L195.9,461.4L195.1,461.4L195.1,458.7L194.3,458.7L194.3,459.1L193.5,459.1L193.5,458.0L192.7,458.0L192.7,459.6L191.9,459.6L191.9,459.6L191.1,459.6L191.1,459.3L190.3,459.3L190.3,458.2L189.5,458.2L189.5,456.8L188.7,456.8L188.7,456.8L187.9,456.8L187.9,456.8L187.1,456.8L187.1,456.8L186.3,456.8L186.3,456.8L185.5,456.8L185.5,456.8L184.7,456.8L184.7,456.8L183.9,456.8L183.9,456.8L183.1,456.8L183.1,456.8L182.3,456.8L182.3,456.8L181.5,456.8L181.5,456.8L180.7,456.8L180.7,456.8L179.9,456.8L179.9,456.8L179.1,456.8L179.1,456.8L178.3,456.8L178.3,456.8L177.5,456.8L177.5,456.8L176.7,456.8L176.7,456.8L175.9,456.8L175.9,458.0L175.1,458.0L175.1,459.0L174.3,459.0L174.3,457.6L173.5,457.6L173.5,457.6L172.7,457.6L172.7,459.0L171.9,459.0L171.9,459.0L171.1,459.0L171.1,458.0L170.3,458.0L170.3,457.9L169.5,457.9L169.5,457.9L168.7,457.9L168.7,457.2L167.9,457.2L167.9,457.5L167.1,457.5L167.1,457.2L166.3,457.2L166.3,457.6L165.5,457.6L165.5,457.2L164.7,457.2L164.7,458.1L163.9,458.1L163.9,457.2L163.1,457.2L163.1,457.3L162.3,457.3L162.3,465.2L161.5,465.2L161.5,461.6L160.7,461.6L160.7,460.7L159.9,460.7L159.9,460.6L159.1,460.6L159.1,461.5L158.3,461.5L158.3,458.9L157.5,458.9L157.5,462.3L156.7,462.3L156.7,461.9L155.9,461.9L155.9,464.3L155.1,464.3L155.1,465.4L154.3,465.4L154.3,469.0L153.5,469.0L153.5,467.3L152.7,467.3L152.7,466.3L151.9,466.3L151.9,468.1L151.1,468.1L151.1,462.1L150.3,462.1L150.3,464.0L149.5,464.0L149.5,462.3L148.7,462.3L148.7,462.2L147.9,462.2L147.9,465.2L147.1,465.2L147.1,460.7L146.3,460.7L146.3,459.1L145.5,459.1L145.5,459.1L144.7,459.1L144.7,460.3L143.9,460.3L143.9,460.1L143.1,460.1L143.1,461.6L142.3,461.6L142.3,459.5L141.5,459.5L141.5,457.4L140.7,457.4L140.7,458.3L139.9,458.3L139.9,458.3L139.1,458.3L139.1,457.7L138.3,457.7L138.3,457.6L137.5,457.6L137.5,458.5L136.7,458.5L136.7,456.8L135.9,456.8L135.9,456.8L135.1,456.8L135.1,456.8L134.3,456.8L134.3,456.8L133.5,456.8L133.5,456.8L132.7,456.8L132.7,456.8L131.9,456.8L131.9,456.8L131.1,456.8L131.1,456.8L130.3,456.8L130.3,456.8L129.5,456.8L129.5,456.8L128.7,456.8L128.7,456.8L127.9,456.8L127.9,456.8L127.1,456.8L127.1,456.8L126.3,456.8L126.3,456.8L125.5,456.8L125.5,456.8L124.7,456.8L124.7,456.8L123.9,456.8L123.9,456.8L123.1,456.8L123.1,456.8L122.3,456.8L122.3,456.8L121.5,456.8L121.5,456.8L120.7,456.8L120.7,456.8L119.9,456.8L119.9,456.8L119.1,456.8L119.1,456.8L118.3,456.8L118.3,456.8L117.5,456.8L117.5,456.8L116.7,456.8L116.7,461.8L115.9,461.8L115.9,460.9L115.1,460.9L115.1,462.2L114.3,462.2L114.3,458.2L113.5,458.2L113.5,457.7L112.7,457.7L112.7,458.7L111.9,458.7L111.9,457.8L111.1,457.8L111.1,462.1L110.3,462.1L110.3,460.0L109.5,460.0L109.5,464.3L108.7,464.3L108.7,461.6L107.9,461.6L107.9,461.2L107.1,461.2L107.1,465.7L106.3,465.7L106.3,464.5L105.5,464.5L105.5,463.4L104.7,463.4L104.7,462.2L103.9,462.2L103.9,461.9L103.1,461.9L103.1,461.9L102.3,461.9L102.3,465.3L101.5,465.3L101.5,462.0L100.7,462.0L100.7,463.6L99.9,463.6L99.9,465.8L99.1,465.8L99.1,465.5L98.3,465.5L98.3,460.8L97.5,460.8L97.5,459.1L96.7,459.1L96.7,459.9L95.9,459.9L95.9,459.9L95.1,459.9L95.1,460.4L94.3,460.4L94.3,459.6L93.5,459.6L93.5,459.6L92.7,459.6L92.7,459.7L91.9,459.7L91.9,459.8L91.1,459.8L91.1,459.1L90.3,459.1L90.3,458.0L89.5,458.0Z" fill="#bcbcbc"/>
<path d="M89.5,554.3L90.3,554.3L90.3,554.3L91.1,554.3L91.1,554.3L91.9,554.3L91.9,554.3L92.7,554.3L92.7,554.3L93.5,554.3L93.5,554.3L94.3,554.3L94.3,554.3L95.1,554.3L95.1,554.3L95.9,554.3L95.9,554.3L96.7,554.3L96.7,554.3L97.5,554.3L97.5,554.3L98.3,554.3L98.3,554.3L99.1,554.3L99.1,554.3L99.9,554.3L99.9,554.3L100.7,554.3L100.7,554.3L101.5,554.3L101.5,554.3L102.3,554.3L102.3,554.3L103.1,554.3L103.1,554.3L103.9,554.3L103.9,554.3L104.7,554.3L104.7,554.3L105.5,554.3L105.5,554.3L106.3,554.3L106.3,554.3L107.1,554.3L107.1,554.3L107.9,554.3L107.9,554.3L108.7,554.3L108.7,554.3L109.5,554.3L109.5,554.3L110.3,554.3L110.3,554.3L111.1,554.3L111.1,554.3L111.9,554.3L111.9,554.3L112.7,554.3L112.7,553.8L113.5,553.8L113.5,553.7L114.3,553.7L114.3,552.6L115.1,552.6L115.1,553.0L115.9,553.0L115.9,552.7L116.7,552.7L116.7,552.9L117.5,552.9L117.5,550.1L118.3,550.1L118.3,551.7L119.1,551.7L119.1,550.5L119.9,550.5L119.9,548.5L120.7,548.5L120.7,545.0L121.5,545.0L121.5,544.6L122.3,544.6L122.3,548.7L123.1,548.7L123.1,550.3L123.9,550.3L123.9,552.0L124.7,552.0L124.7,552.1L125.5,552.1L125.5,546.4L126.3,546.4L126.3,548.1L127.1,548.1L127.1,545.2L127.9,545.2L127.9,545.5L128.7,545.5L128.7,544.9L129.5,544.9L129.5,544.6L130.3,544.6L130.3,548.7L131.1,548.7L131.1,550.5L131.9,550.5L131.9,548.5L132.7,548.5L132.7,548.6L133.5,548.6L133.5,544.7L134.3,544.7L134.3,543.0L135.1,543.0L135.1,543.8L135.9,543.8L135.9,543.3L136.7,543.3L136.7,545.4L137.5,545.4L137.5,551.2L138.3,551.2L138.3,552.4L139.1,552.4L139.1,554.3L139.9,554.3L139.9,554.3L140.7,554.3L140.7,554.3L141.5,554.3L141.5,554.3L142.3,554.3L142.3,554.3L143.1,554.3L143.1,554.3L143.9,554.3L143.9,552.6L144.7,552.6L144.7,551.6L145.5,551.6L145.5,551.6L146.3,551.6L146.3,553.0L147.1,553.0L147.1,550.5L147.9,550.5L147.9,549.9L148.7,549.9L148.7,550.0L149.5,550.0L149.5,551.5L150.3,551.5L150.3,552.0L151.1,552.0L151.1,553.7L151.9,553.7L151.9,554.2L152.7,554.2L152.7,554.0L153.5,554.0L153.5,554.3L154.3,554.3L154.3,553.8L155.1,553.8L155.1,553.9L155.9,553.9L155.9,553.7L156.7,553.7L156.7,551.0L157.5,551.0L157.5,550.6L158.3,550.6L158.3,551.1L159.1,551.1L159.1,548.0L159.9,548.0L159.9,548.3L160.7,548.3L160.7,548.6L161.5,548.6L161.5,548.2L162.3,548.2L162.3,549.2L163.1,549.2L163.1,550.0L163.9,550.0L163.9,548.9L164.7,548.9L164.7,550.3L165.5,550.3L165.5,553.8L166.3,553.8L166.3,554.0L167.1,554.0L167.1,554.0L167.9,554.0L167.9,554.0L168.7,554.0L168.7,553.6L169.5,553.6L169.5,553.8L170.3,553.8L170.3,553.5L171.1,553.5L171.1,554.0L171.9,554.0L171.9,554.2L172.7,554.2L172.7,553.7L173.5,553.7L173.5,553.9L174.3,553.9L174.3,553.6L175.1,553.6L175.1,554.0L175.9,554.0L175.9,548.3L176.7,548.3L176.7,550.5L177.5,550.5L177.5,549.9L178.3,549.9L178.3,550.9L179.1,550.9L179.1,545.1L179.9,545.1L179.9,543.9L180.7,543.9L180.7,544.3L181.5,544.3L181.5,548.4L182.3,548.4L182.3,548.0L183.1,548.0L183.1,551.6L183.9,551.6L183.9,547.4L184.7,547.4L184.7,547.5L185.5,547.5L185.5,551.3L186.3,551.3L186.3,548.6L187.1,548.6L187.1,551.5L187.9,551.5L187.9,550.6L188.7,550.6L188.7,551.1L189.5,551.1L189.5,548.6L190.3,548.6L190.3,551.4L191.1,551.4L191.1,552.5L191.9,552.5L191.9,553.0L192.7,553.0L192.7,552.0L193.5,552.0L193.5,552.0L194.3,552.0L194.3,551.5L195.1,551.5L195.1,554.3L195.9,554.3L195.9,554.3L196.7,554.3L196.7,554.3L197.5,554.3L197.5,554.3L198.3,554.3L198.3,554.3L199.1,554.3L199.1,554.3L199.9,554.3L199.9,554.3L200.7,554.3L200.7,554.3L201.5,554.3L201.5,554.3L202.3,554.3L202.3,554.3L203.1,554.3L203.1,554.3L203.9,554.3L203.9,554.3L204.7,554.3L204.7,554.3L205.5,554.3L205.5,551.6L206.3,551.6L206.3,552.2L207.1,552.2L207.1,551.8L207.9,551.8L207.9,551.5L208.7,551.5L208.7,551.9L209.5,551.9L209.5,549.4L210.3,549.4L210.3,548.1L211.1,548.1L211.1,550.5L211.9,550.5L211.9,551.8L212.7,551.8L212.7,552.3L213.5,552.3L213.5,552.1L214.3,552.1L214.3,553.5L215.1,553.5L215.1,554.0L215.9,554.0L215.9,554.2L216.7,554.2L216.7,553.6L217.5,553.6L217.5,554.1L218.3,554.1L218.3,553.9L219.1,553.9L219.1,553.8L219.9,553.8L219.9,553.8L220.7,553.8L220.7,554.0L221.5,554.0L221.5,554.0L222.3,554.0L222.3,553.7L223.1,553.7L223.1,553.8L223.9,553.8L223.9,554.1L224.7,554.1L224.7,554.0L225.5,554.0L225.5,553.7L226.3,553.7L226.3,554.0L227.1,554.0L227.1,554.0L227.9,554.0L227.9,553.6L228.7,553.6L228.7,553.8L229.5,553.8L229.5,553.5L230.3,553.5L230.3,551.8L231.1,551.8L231.1,552.9L231.9,552.9L231.9,553.0L232.7,553.0L232.7,553.1L233.5,553.1L233.5,551.5L234.3,551.5L234.3,551.3L235.1,551.3L235.1,549.8L235.9,549.8L235.9,550.4L236.7,550.4L236.7,547.1L237.5,547.1L237.5,550.1L238.3,550.1L238.3,552.1L239.1,552.1L239.1,551.3L239.9,551.3L239.9,552.4L240.7,552.4L240.7,552.7L241.5,552.7L241.5,552.5L242.3,552.5L242.3,551.3L243.1,551.3L243.1,549.6L243.9,549.6L243.9,547.8L244.7,547.8L244.7,549.5L245.5,549.5L245.5,553.7L246.3,553.7L246.3,554.1L247.1,554.1L247.1,554.0L247.9,554.0L247.9,553.6L248.7,553.6L248.7,553.7L249.5,553.7L249.5,554.1L250.3,554.1L250.3,554.1L251.1,554.1L251.1,554.2L251.9,554.2L251.9,554.1L252.7,554.1L252.7,552.7L253.5,552.7L253.5,551.2L254.3,551.2L254.3,552.7L255.1,552.7L255.1,551.4L255.9,551.4L255.9,551.1L256.7,551.1L256.7,550.8L257.5,550.8L257.5,550.0L258.3,550.0L258.3,552.4L259.1,552.4L259.1,550.8L259.9,550.8L259.9,551.0L260.7,551.0L260.7,552.4L261.5,552.4L261.5,551.9L262.3,551.9L262.3,551.4L263.1,551.4L263.1,552.3L263.9,552.3L263.9,551.0L264.7,551.0L264.7,551.8L265.5,551.8L265.5,553.7L266.3,553.7L266.3,554.0L267.1,554.0L267.1,553.7L267.9,553.7L267.9,554.2L268.7,554.2L268.7,553.8L269.5,553.8L269.5,553.9L270.3,553.9L270.3,554.0L271.1,554.0L271.1,554.3L271.9,554.3L271.9,554.1L272.7,554.1L272.7,554.2L273.5,554.2L273.5,553.9L274.3,553.9L274.3,554.0L275.1,554.0L275.1,553.8L275.9,553.8L275.9,548.5L276.7,548.5L276.7,548.2L277.5,548.2L277.5,550.5L278.3,550.5L278.3,546.2L279.1,546.2L279.1,548.3L279.9,548.3L279.9,545.1L280.7,545.1L280.7,544.7L281.5,544.7L281.5,546.0L282.3,546.0L282.3,550.8L283.1,550.8L283.1,547.8L283.9,547.8L283.9,548.5L284.7,548.5L284.7,549.8L285.5,549.8L285.5,548.6L286.3,548.6L286.3,548.2L287.1,548.2L287.1,549.9L287.9,549.9L287.9,549.8L288.7,549.8L288.7,549.0L289.5,549.0L289.5,551.0L290.3,551.0L290.3,548.4L291.1,548.4L291.1,549.3L291.9,549.3L291.9,549.7L292.7,549.7L292.7,549.5L293.5,549.5L293.5,549.9L294.3,549.9L294.3,549.0L295.1,549.0L295.1,546.4L295.9,546.4L295.9,545.1L296.7,545.1L296.7,544.2L297.5,544.2L297.5,546.4L298.3,546.4L298.3,547.7L299.1,547.7L299.1,545.4L299.9,545.4L299.9,545.9L300.7,545.9L300.7,545.9L301.5,545.9L301.5,545.1L302.3,545.1L302.3,547.9L303.1,547.9L303.1,544.3L303.9,544.3L303.9,551.1L304.7,551.1L304.7,551.9L305.5,551.9L305.5,553.9L306.3,553.9L306.3,554.3L307.1,554.3L307.1,554.0L307.9,554.0L307.9,553.8L308.7,553.8L308.7,553.5L309.5,553.5L309.5,554.0L310.3,554.0L310.3,553.6L311.1,553.6L311.1,553.7L311.9,553.7L311.9,553.7L312.7,553.7L312.7,553.7L313.5,553.7L313.5,552.5L314.3,552.5L314.3,553.3L315.1,553.3L315.1,553.7L315.9,553.7L315.9,554.3L316.7,554.3L316.7,554.3L317.5,554.3L317.5,554.3L318.3,554.3L318.3,554.3L319.1,554.3L319.1,554.3L319.9,554.3L319.9,554.3L320.7,554.3L320.7,554.3L321.5,554.3L321.5,554.3L322.3,554.3L322.3,554.3L323.1,554.3L323.1,554.3L323.9,554.3L323.9,554.3L324.7,554.3L324.7,554.3L325.5,554.3L325.5,554.3L326.3,554.3L326.3,554.3L327.1,554.3L327.1,554.3L327.9,554.3L327.9,554.3L328.7,554.3L328.7,554.3L329.5,554.3L329.5,554.3L330.3,554.3L330.3,554.3L331.1,554.3L331.1,554.3L331.9,554.3L331.9,554.3L332.7,554.3L332.7,554.3L333.5,554.3L333.5,554.3L334.3,554.3L334.3,554.3L335.1,554.3L335.1,554.3L335.9,554.3L335.9,554.3L336.7,554.3L336.7,554.3L337.5,554.3L337.5,554.3L338.3,554.3L338.3,554.3L339.1,554.3L339.1,554.3L339.9,554.3L339.9,552.1L340.7,552.1L340.7,551.5L341.5,551.5L341.5,552.2L342.3,552.2L342.3,550.3L343.1,550.3L343.1,550.1L343.9,550.1L343.9,548.9L344.7,548.9L344.7,548.5L345.5,548.5L345.5,550.3L346.3,550.3L346.3,546.4L347.1,546.4L347.1,548.3L347.9,548.3L347.9,546.9L348.7,546.9L348.7,548.6L349.5,548.6L349.5,547.2L350.3,547.2L350.3,550.3L351.1,550.3L351.1,550.2L351.9,550.2L351.9,549.5L352.7,549.5L352.7,551.3L353.5,551.3L353.5,551.8L354.3,551.8L354.3,552.6L355.1,552.6L355.1,552.0L355.9,552.0L355.9,551.1L356.7,551.1L356.7,551.5L357.5,551.5L357.5,553.6L358.3,553.6L358.3,553.9L359.1,553.9L359.1,553.6L359.9,553.6L359.9,553.7L360.7,553.7L360.7,554.2L361.5,554.2L361.5,554.1L362.3,554.1L362.3,554.1L363.1,554.1L363.1,554.2L363.9,554.2L363.9,553.9L364.7,553.9L364.7,553.5L365.5,553.5L365.5,553.8L366.3,553.8L366.3,553.5L367.1,553.5L367.1,554.2L367.9,554.2L367.9,551.2L368.7,551.2L368.7,552.2L369.5,552.2L369.5,551.8L370.3,551.8L370.3,553.1L371.1,553.1L371.1,554.3L371.9,554.3L371.9,554.3L372.7,554.3L372.7,554.3L373.5,554.3L373.5,554.3L374.3,554.3L374.3,554.3L375.1,554.3L375.1,554.3L375.9,554.3L375.9,554.3L376.7,554.3L376.7,554.3L377.5,554.3L377.5,554.3L378.3,554.3L378.3,554.3L379.1,554.3L379.1,550.7L379.9,550.7L379.9,550.3L380.7,550.3L380.7,549.0L381.5,549.0L381.5,552.0L382.3,552.0L382.3,549.3L383.1,549.3L383.1,550.1L383.9,550.1L383.9,548.1L384.7,548.1L384.7,545.7L385.5,545.7L385.5,547.3L386.3,547.3L386.3,545.9L387.1,545.9L387.1,548.0L387.9,548.0L387.9,544.9L388.7,544.9L388.7,543.4L389.5,543.4L389.5,546.5L390.3,546.5L390.3,543.2L391.1,543.2L391.1,541.8L391.9,541.8L391.9,546.2L392.7,546.2L392.7,543.4L393.5,543.4L393.5,542.9L394.3,542.9L394.3,542.7L395.1,542.7L395.1,545.7L395.9,545.7L395.9,544.4L396.7,544.4L396.7,546.7L397.5,546.7L397.5,548.0L398.3,548.0L398.3,548.1L399.1,548.1L399.1,546.0L399.9,546.0L399.9,547.0L400.7,547.0L400.7,547.7L401.5,547.7L401.5,554.3L402.3,554.3L402.3,554.3L403.1,554.3L403.1,554.3L403.9,554.3L403.9,554.3L404.7,554.3L404.7,554.3L405.5,554.3L405.5,554.3L406.3,554.3L406.3,554.3L407.1,554.3L407.1,554.3L407.9,554.3L407.9,554.3L408.7,554.3L408.7,554.3L409.5,554.3L409.5,554.3L410.3,554.3L410.3,551.7L411.1,551.7L411.1,551.2L411.9,551.2L411.9,551.9L412.7,551.9L412.7,550.9L413.5,550.9L413.5,552.0L414.3,552.0L414.3,552.6L415.1,552.6L415.1,551.8L415.9,551.8L415.9,551.2L416.7,551.2L416.7,553.1L417.5,553.1L417.5,552.8L418.3,552.8L418.3,552.4L419.1,552.4L419.1,551.4L419.9,551.4L419.9,551.4L420.7,551.4L420.7,551.3L421.5,551.3L421.5,553.0L422.3,553.0L422.3,551.7L423.1,551.7L423.1,552.4L423.9,552.4L423.9,553.5L424.7,553.5L424.7,552.5L425.5,552.5L425.5,552.4L426.3,552.4L426.3,552.5L427.1,552.5L427.1,552.3L427.9,552.3L427.9,552.5L428.7,552.5L428.7,552.9L429.5,552.9L429.5,552.6L430.3,552.6L430.3,554.1L431.1,554.1L431.1,554.0L431.9,554.0L431.9,554.0L432.7,554.0L432.7,553.8L433.5,553.8L433.5,553.8L434.3,553.8L434.3,554.2L435.1,554.2L435.1,553.9L435.9,553.9L435.9,553.9L436.7,553.9L436.7,554.0L437.5,554.0L437.5,553.9L438.3,553.9L438.3,553.9L439.1,553.9L439.1,554.3L439.9,554.3L439.9,553.9L440.7,553.9L440.7,553.2L441.5,553.2L441.5,551.2L442.3,551.2L442.3,553.2L443.1,553.2L443.1,552.3L443.9,552.3L443.9,552.6L444.7,552.6L444.7,552.4L445.5,552.4L445.5,552.6L446.3,552.6L446.3,551.7L447.1,551.7L447.1,552.5L447.9,552.5L447.9,554.0L448.7,554.0L448.7,553.9L449.5,553.9L449.5,554.0L450.3,554.0L450.3,553.5L451.1,553.5L451.1,553.9L451.9,553.9L451.9,553.9L452.7,553.9L452.7,554.3L453.5,554.3L453.5,553.6L454.3,553.6L454.3,554.2L455.1,554.2L455.1,554.1L455.9,554.1L455.9,554.2L456.7,554.2L456.7,553.9L457.5,553.9L457.5,554.3L458.3,554.3L458.3,553.5L459.1,553.5L459.1,553.7L459.9,553.7L459.9,554.1L460.7,554.1L460.7,554.0L461.5,554.0L461.5,553.9L462.3,553.9L462.3,553.8L463.1,553.8L463.1,554.0L463.9,554.0L463.9,554.0L464.7,554.0L464.7,554.0L465.5,554.0L465.5,550.3L466.3,550.3L466.3,550.6L467.1,550.6L467.1,549.9L467.9,549.9L467.9,554.0L468.7,554.0L468.7,553.9L469.5,553.9L469.5,553.9L470.3,553.9L470.3,554.0L471.1,554.0L471.1,554.1L471.9,554.1L471.9,553.8L472.7,553.8L472.7,554.0L473.5,554.0L473.5,553.8L474.3,553.8L474.3,553.6L475.1,553.6L475.1,553.6L475.9,553.6L475.9,554.1L476.7,554.1L476.7,554.2L477.5,554.2L477.5,553.7L478.3,553.7L478.3,553.6L479.1,553.6L479.1,553.9L479.9,553.9L479.9,554.1L480.7,554.1L480.7,553.8L481.5,553.8L481.5,554.2L482.3,554.2L482.3,553.6L483.1,553.6L483.1,554.0L483.9,554.0L483.9,553.6L484.7,553.6L484.7,553.9L485.5,553.9L485.5,553.5L486.3,553.5L486.3,548.9L487.1,548.9L487.1,547.8L487.9,547.8L487.9,549.4L488.7,549.4L488.7,550.3L489.5,550.3L489.5,548.1L490.3,548.1L490.3,551.4L491.1,551.4L491.1,543.9L491.9,543.9L491.9,544.6L492.7,544.6L492.7,545.6L493.5,545.6L493.5,547.6L494.3,547.6L494.3,543.7L495.1,543.7L495.1,546.6L495.9,546.6L495.9,543.9L496.7,543.9L496.7,544.4L497.5,544.4L497.5,548.1L498.3,548.1L498.3,544.6L499.1,544.6L499.1,545.5L499.9,545.5L499.9,547.7L500.7,547.7L500.7,545.5L501.5,545.5L501.5,544.7L502.3,544.7L502.3,544.9L503.1,544.9L503.1,546.3L503.9,546.3L503.9,550.5L504.7,550.5L504.7,550.4L505.5,550.4L505.5,550.7L506.3,550.7L506.3,549.3L507.1,549.3L507.1,551.0L507.9,551.0L507.9,549.8L508.7,549.8L508.7,554.3L509.5,554.3L509.5,554.3L510.3,554.3L510.3,554.3L511.1,554.3L511.1,554.3L511.9,554.3L511.9,554.3L512.7,554.3L512.7,554.3L513.5,554.3L513.5,554.3L514.3,554.3L514.3,554.3L515.1,554.3L515.1,554.3L515.9,554.3L515.9,554.3L516.7,554.3L516.7,554.3L517.5,554.3L517.5,554.3L518.3,554.3L518.3,554.3L519.1,554.3L519.1,554.3L519.9,554.3L519.9,554.3L520.7,554.3L520.7,554.3L521.5,554.3L521.5,554.3L522.3,554.3L522.3,554.3L523.1,554.3L523.1,554.3L523.9,554.3L523.9,554.3L524.7,554.3L524.7,554.3L525.5,554.3L525.5,554.3L526.3,554.3L526.3,554.3L527.1,554.3L527.1,554.3L527.9,554.3L527.9,554.3L528.7,554.3L528.7,554.3L529.5,554.3L529.5,545.2L530.3,545.2L530.3,543.9L531.1,543.9L531.1,543.9L531.9,543.9L531.9,550.9L532.7,550.9L532.7,550.5L533.5,550.5L533.5,547.6L534.3,547.6L534.3,549.5L535.1,549.5L535.1,549.0L535.9,549.0L535.9,548.4L536.7,548.4L536.7,546.3L537.5,546.3L537.5,547.2L538.3,547.2L538.3,554.3L539.1,554.3L539.1,554.3L539.9,554.3L539.9,554.3L540.7,554.3L540.7,554.3L541.5,554.3L541.5,554.3L542.3,554.3L542.3,554.3L543.1,554.3L543.1,554.3L543.9,554.3L543.9,554.3L544.7,554.3L544.7,554.3L545.5,554.3L545.5,554.3L546.3,554.3L546.3,554.3L547.1,554.3L547.1,541.8L547.9,541.8L547.9,546.1L548.7,546.1L548.7,543.0L549.5,543.0L549.5,542.6L550.3,542.6L550.3,552.4L551.1,552.4L551.1,553.3L551.9,553.3L551.9,552.6L552.7,552.6L552.7,553.3L553.5,553.3L553.5,551.2L554.3,551.2L554.3,552.1L555.1,552.1L555.1,553.1L555.9,553.1L555.9,553.2L556.7,553.2L556.7,551.2L557.5,551.2L557.5,553.9L558.3,553.9L558.3,554.1L559.1,554.1L559.1,553.9L559.9,553.9L559.9,553.8L560.7,553.8L560.7,553.7L561.5,553.7L561.5,554.0L562.3,554.0L562.3,553.7L563.1,553.7L563.1,554.0L563.9,554.0L563.9,554.0L564.7,554.0L564.7,548.2L565.5,548.2L565.5,547.9L566.3,547.9L566.3,547.6L567.1,547.6L567.1,548.4L567.9,548.4L567.9,544.6L568.7,544.6L568.7,549.3L569.5,549.3L569.5,547.9L570.3,547.9L570.3,549.1L571.1,549.1L571.1,548.1L571.9,548.1L571.9,549.0L572.7,549.0L572.7,542.7L573.5,542.7L573.5,544.8L574.3,544.8L574.3,554.3L575.1,554.3L575.1,554.3L575.9,554.3L575.9,554.3L576.7,554.3L576.7,554.3L577.5,554.3L577.5,554.3L578.3,554.3L578.3,554.3L579.1,554.3L579.1,554.3L579.9,554.3L579.9,554.3L580.7,554.3L580.7,554.3L581.5,554.3L581.5,554.3L582.3,554.3L582.3,554.3L583.1,554.3L583.1,554.3L583.9,554.3L583.9,554.3L584.7,554.3L584.7,554.3L585.5,554.3L585.5,548.8L586.3,548.8L586.3,549.5L587.1,549.5L587.1,549.5L587.9,549.5L587.9,550.6L588.7,550.6L588.7,550.6L589.5,550.6L589.5,551.7L590.3,551.7L590.3,542.0L591.1,542.0L591.1,546.0L591.9,546.0L591.9,542.2L592.7,542.2L592.7,542.2L593.5,542.2L593.5,542.8L594.3,542.8L594.3,544.1L595.1,544.1L595.1,546.4L595.9,546.4L595.9,543.3L596.7,543.3L596.7,545.6L597.5,545.6L597.5,546.3L598.3,546.3L598.3,545.9L599.1,545.9L599.1,554.3L599.9,554.3L599.9,554.3L600.7,554.3L600.7,554.3L601.5,554.3L601.5,554.3L602.3,554.3L602.3,554.3L603.1,554.3L603.1,554.3L603.9,554.3L603.9,554.3L604.7,554.3L604.7,554.3L605.5,554.3L605.5,554.3L606.3,554.3L606.3,554.3L607.1,554.3L607.1,551.8L607.9,551.8L607.9,551.6L608.7,551.6L608.7,553.0L609.5,553.0L609.5,552.2L610.3,552.2L610.3,547.2L611.1,547.2L611.1,546.9L611.9,546.9L611.9,547.7L612.7,547.7L612.7,550.4L613.5,550.4L613.5,547.5L614.3,547.5L614.3,552.2L615.1,552.2L615.1,549.6L615.9,549.6L615.9,549.7L616.7,549.7L616.7,550.9L617.5,550.9L617.5,547.8L618.3,547.8L618.3,547.3L619.1,547.3L619.1,548.3L619.9,548.3L619.9,547.4L620.7,547.4L620.7,552.2L621.5,552.2L621.5,552.7L622.3,552.7L622.3,552.9L623.1,552.9L623.1,553.1L623.9,553.1L623.9,552.7L624.7,552.7L624.7,553.5L625.5,553.5L625.5,553.4L626.3,553.4L626.3,553.7L627.1,553.7L627.1,552.3L627.9,552.3L627.9,550.3L628.7,550.3L628.7,551.4L629.5,551.4L629.5,550.7L630.3,550.7L630.3,549.1L631.1,549.1L631.1,548.9L631.9,548.9L631.9,544.5L632.7,544.5L632.7,547.0L633.5,547.0L633.5,543.3L634.3,543.3L634.3,543.8L635.1,543.8L635.1,544.0L635.9,544.0L635.9,547.6L636.7,547.6L636.7,550.3L637.5,550.3L637.5,548.4L638.3,548.4L638.3,550.6L639.1,550.6L639.1,550.3L639.9,550.3L639.9,548.6L640.7,548.6L640.7,551.0L641.5,551.0L641.5,548.9L642.3,548.9L642.3,547.8L643.1,547.8L643.1,547.5L643.9,547.5L643.9,553.6L644.7,553.6L644.7,554.0L645.5,554.0L645.5,553.7L646.3,553.7L646.3,554.2L647.1,554.2L647.1,553.8L647.9,553.8L647.9,553.6L648.7,553.6L648.7,553.7L649.5,553.7L649.5,553.9L650.3,553.9L650.3,553.7L651.1,553.7L651.1,554.0L651.9,554.0L651.9,554.2L652.7,554.2L652.7,554.2L653.5,554.2L653.5,553.8L653.9,553.8L653.9,561.3L653.5,561.3L653.5,563.5L652.7,563.5L652.7,562.8L651.9,562.8L651.9,560.6L651.1,560.6L651.1,563.6L650.3,563.6L650.3,560.4L649.5,560.4L649.5,563.7L648.7,563.7L648.7,562.3L647.9,562.3L647.9,563.2L647.1,563.2L647.1,560.9L646.3,560.9L646.3,560.9L645.5,560.9L645.5,555.5L644.7,555.5L644.7,555.5L643.9,555.5L643.9,555.7L643.1,555.7L643.1,555.6L642.3,555.6L642.3,555.6L641.5,555.6L641.5,555.5L640.7,555.5L640.7,555.7L639.9,555.7L639.9,555.5L639.1,555.5L639.1,555.5L638.3,555.5L638.3,555.7L637.5,555.7L637.5,555.6L636.7,555.6L636.7,555.7L635.9,555.7L635.9,555.5L635.1,555.5L635.1,556.4L634.3,556.4L634.3,558.1L633.5,558.1L633.5,557.7L632.7,557.7L632.7,558.3L631.9,558.3L631.9,556.7L631.1,556.7L631.1,556.5L630.3,556.5L630.3,557.6L629.5,557.6L629.5,557.9L628.7,557.9L628.7,557.6L627.9,557.6L627.9,557.0L627.1,557.0L627.1,556.5L626.3,556.5L626.3,557.9L625.5,557.9L625.5,557.8L624.7,557.8L624.7,556.9L623.9,556.9L623.9,557.9L623.1,557.9L623.1,560.9L622.3,560.9L622.3,561.7L621.5,561.7L621.5,559.8L620.7,559.8L620.7,558.9L619.9,558.9L619.9,559.5L619.1,559.5L619.1,560.5L618.3,560.5L618.3,560.4L617.5,560.4L617.5,555.9L616.7,555.9L616.7,555.9L615.9,555.9L615.9,556.8L615.1,556.8L615.1,556.5L614.3,556.5L614.3,556.2L613.5,556.2L613.5,556.4L612.7,556.4L612.7,556.9L611.9,556.9L611.9,556.6L611.1,556.6L611.1,556.9L610.3,556.9L610.3,557.4L609.5,557.4L609.5,557.4L608.7,557.4L608.7,557.8L607.9,557.8L607.9,558.3L607.1,558.3L607.1,560.1L606.3,560.1L606.3,558.2L605.5,558.2L605.5,560.8L604.7,560.8L604.7,559.4L603.9,559.4L603.9,558.2L603.1,558.2L603.1,558.2L602.3,558.2L602.3,561.0L601.5,561.0L601.5,559.4L600.7,559.4L600.7,559.4L599.9,559.4L599.9,560.7L599.1,560.7L599.1,555.5L598.3,555.5L598.3,555.5L597.5,555.5L597.5,555.5L596.7,555.5L596.7,555.5L595.9,555.5L595.9,555.5L595.1,555.5L595.1,555.5L594.3,555.5L594.3,555.5L593.5,555.5L593.5,555.5L592.7,555.5L592.7,555.5L591.9,555.5L591.9,555.5L591.1,555.5L591.1,555.5L590.3,555.5L590.3,555.5L589.5,555.5L589.5,555.5L588.7,555.5L588.7,555.5L587.9,555.5L587.9,555.5L587.1,555.5L587.1,555.5L586.3,555.5L586.3,560.2L585.5,560.2L585.5,563.0L584.7,563.0L584.7,561.2L583.9,561.2L583.9,560.9L583.1,560.9L583.1,560.9L582.3,560.9L582.3,562.7L581.5,562.7L581.5,563.2L580.7,563.2L580.7,561.3L579.9,561.3L579.9,565.1L579.1,565.1L579.1,563.7L578.3,563.7L578.3,563.1L577.5,563.1L577.5,561.3L576.7,561.3L576.7,563.7L575.9,563.7L575.9,560.5L575.1,560.5L575.1,562.8L574.3,562.8L574.3,555.5L573.5,555.5L573.5,555.5L572.7,555.5L572.7,555.5L571.9,555.5L571.9,555.5L571.1,555.5L571.1,555.5L570.3,555.5L570.3,555.5L569.5,555.5L569.5,555.5L568.7,555.5L568.7,555.5L567.9,555.5L567.9,555.5L567.1,555.5L567.1,555.5L566.3,555.5L566.3,555.5L565.5,555.5L565.5,555.5L564.7,555.5L564.7,559.1L563.9,559.1L563.9,557.1L563.1,557.1L563.1,558.8L562.3,558.8L562.3,559.2L561.5,559.2L561.5,557.3L560.7,557.3L560.7,557.3L559.9,557.3L559.9,559.5L559.1,559.5L559.1,557.3L558.3,557.3L558.3,557.6L557.5,557.6L557.5,560.5L556.7,560.5L556.7,559.0L555.9,559.0L555.9,558.3L555.1,558.3L555.1,561.8L554.3,561.8L554.3,560.9L553.5,560.9L553.5,560.9L552.7,560.9L552.7,556.8L551.9,556.8L551.9,556.7L551.1,556.7L551.1,558.4L550.3,558.4L550.3,558.3L549.5,558.3L549.5,558.0L548.7,558.0L548.7,557.7L547.9,557.7L547.9,564.8L547.1,564.8L547.1,561.1L546.3,561.1L546.3,563.7L545.5,563.7L545.5,560.7L544.7,560.7L544.7,564.1L543.9,564.1L543.9,563.4L543.1,563.4L543.1,561.7L542.3,561.7L542.3,561.0L541.5,561.0L541.5,561.2L540.7,561.2L540.7,561.0L539.9,561.0L539.9,561.8L539.1,561.8L539.1,556.0L538.3,556.0L538.3,555.9L537.5,555.9L537.5,555.6L536.7,555.6L536.7,555.5L535.9,555.5L535.9,555.7L535.1,555.7L535.1,556.0L534.3,556.0L534.3,555.7L533.5,555.7L533.5,555.5L532.7,555.5L532.7,555.5L531.9,555.5L531.9,555.6L531.1,555.6L531.1,555.5L530.3,555.5L530.3,556.0L529.5,556.0L529.5,557.5L528.7,557.5L528.7,557.2L527.9,557.2L527.9,558.0L527.1,558.0L527.1,557.6L526.3,557.6L526.3,557.0L525.5,557.0L525.5,557.0L524.7,557.0L524.7,558.2L523.9,558.2L523.9,557.9L523.1,557.9L523.1,557.2L522.3,557.2L522.3,557.9L521.5,557.9L521.5,558.0L520.7,558.0L520.7,556.9L519.9,556.9L519.9,556.7L519.1,556.7L519.1,556.6L518.3,556.6L518.3,563.8L517.5,563.8L517.5,565.6L516.7,565.6L516.7,565.9L515.9,565.9L515.9,563.5L515.1,563.5L515.1,566.1L514.3,566.1L514.3,565.9L513.5,565.9L513.5,562.2L512.7,562.2L512.7,566.5L511.9,566.5L511.9,564.7L511.1,564.7L511.1,562.7L510.3,562.7L510.3,566.5L509.5,566.5L509.5,555.5L508.7,555.5L508.7,555.5L507.9,555.5L507.9,555.5L507.1,555.5L507.1,555.5L506.3,555.5L506.3,555.5L505.5,555.5L505.5,555.5L504.7,555.5L504.7,555.5L503.9,555.5L503.9,555.5L503.1,555.5L503.1,555.5L502.3,555.5L502.3,555.5L501.5,555.5L501.5,555.5L500.7,555.5L500.7,555.5L499.9,555.5L499.9,555.5L499.1,555.5L499.1,555.5L498.3,555.5L498.3,555.5L497.5,555.5L497.5,555.5L496.7,555.5L496.7,555.5L495.9,555.5L495.9,555.5L495.1,555.5L495.1,555.5L494.3,555.5L494.3,555.5L493.5,555.5L493.5,555.5L492.7,555.5L492.7,555.5L491.9,555.5L491.9,555.5L491.1,555.5L491.1,555.5L490.3,555.5L490.3,555.5L489.5,555.5L489.5,555.5L488.7,555.5L488.7,555.5L487.9,555.5L487.9,555.5L487.1,555.5L487.1,555.5L486.3,555.5L486.3,561.9L485.5,561.9L485.5,559.1L484.7,559.1L484.7,561.7L483.9,561.7L483.9,559.0L483.1,559.0L483.1,566.4L482.3,566.4L482.3,566.1L481.5,566.1L481.5,567.3L480.7,567.3L480.7,563.4L479.9,563.4L479.9,567.1L479.1,567.1L479.1,566.7L478.3,566.7L478.3,566.6L477.5,566.6L477.5,566.3L476.7,566.3L476.7,567.7L475.9,567.7L475.9,565.5L475.1,565.5L475.1,566.1L474.3,566.1L474.3,563.4L473.5,563.4L473.5,566.9L472.7,566.9L472.7,566.3L471.9,566.3L471.9,566.1L471.1,566.1L471.1,564.2L470.3,564.2L470.3,563.1L469.5,563.1L469.5,556.4L468.7,556.4L468.7,557.0L467.9,557.0L467.9,556.1L467.1,556.1L467.1,556.2L466.3,556.2L466.3,556.5L465.5,556.5L465.5,557.0L464.7,557.0L464.7,556.0L463.9,556.0L463.9,556.1L463.1,556.1L463.1,556.7L462.3,556.7L462.3,556.9L461.5,556.9L461.5,556.7L460.7,556.7L460.7,556.0L459.9,556.0L459.9,556.5L459.1,556.5L459.1,556.3L458.3,556.3L458.3,556.3L457.5,556.3L457.5,556.9L456.7,556.9L456.7,556.5L455.9,556.5L455.9,556.4L455.1,556.4L455.1,556.1L454.3,556.1L454.3,556.6L453.5,556.6L453.5,557.9L452.7,557.9L452.7,557.8L451.9,557.8L451.9,557.0L451.1,557.0L451.1,557.3L450.3,557.3L450.3,556.6L449.5,556.6L449.5,558.4L448.7,558.4L448.7,558.3L447.9,558.3L447.9,556.6L447.1,556.6L447.1,557.0L446.3,557.0L446.3,558.4L445.5,558.4L445.5,557.3L444.7,557.3L444.7,557.0L443.9,557.0L443.9,558.3L443.1,558.3L443.1,557.0L442.3,557.0L442.3,557.7L441.5,557.7L441.5,557.5L440.7,557.5L440.7,556.5L439.9,556.5L439.9,558.0L439.1,558.0L439.1,558.8L438.3,558.8L438.3,561.6L437.5,561.6L437.5,558.3L436.7,558.3L436.7,560.1L435.9,560.1L435.9,559.0L435.1,559.0L435.1,558.4L434.3,558.4L434.3,561.2L433.5,561.2L433.5,561.9L432.7,561.9L432.7,560.0L431.9,560.0L431.9,561.0L431.1,561.0L431.1,559.7L430.3,559.7L430.3,556.7L429.5,556.7L429.5,557.0L428.7,557.0L428.7,557.1L427.9,557.1L427.9,556.2L427.1,556.2L427.1,555.9L426.3,555.9L426.3,556.2L425.5,556.2L425.5,556.7L424.7,556.7L424.7,556.5L423.9,556.5L423.9,556.2L423.1,556.2L423.1,556.1L422.3,556.1L422.3,556.6L421.5,556.6L421.5,556.1L420.7,556.1L420.7,558.4L419.9,558.4L419.9,557.0L419.1,557.0L419.1,558.1L418.3,558.1L418.3,557.8L417.5,557.8L417.5,557.0L416.7,557.0L416.7,557.8L415.9,557.8L415.9,557.1L415.1,557.1L415.1,557.3L414.3,557.3L414.3,557.0L413.5,557.0L413.5,557.7L412.7,557.7L412.7,556.7L411.9,556.7L411.9,556.8L411.1,556.8L411.1,556.5L410.3,556.5L410.3,564.5L409.5,564.5L409.5,561.4L408.7,561.4L408.7,564.8L407.9,564.8L407.9,561.8L407.1,561.8L407.1,561.8L406.3,561.8L406.3,560.4L405.5,560.4L405.5,562.5L404.7,562.5L404.7,564.6L403.9,564.6L403.9,564.5L403.1,564.5L403.1,563.2L402.3,563.2L402.3,561.2L401.5,561.2L401.5,555.5L400.7,555.5L400.7,555.5L399.9,555.5L399.9,555.5L399.1,555.5L399.1,555.5L398.3,555.5L398.3,555.5L397.5,555.5L397.5,555.5L396.7,555.5L396.7,555.5L395.9,555.5L395.9,555.5L395.1,555.5L395.1,555.5L394.3,555.5L394.3,555.5L393.5,555.5L393.5,555.5L392.7,555.5L392.7,555.5L391.9,555.5L391.9,555.5L391.1,555.5L391.1,555.5L390.3,555.5L390.3,555.5L389.5,555.5L389.5,555.5L388.7,555.5L388.7,555.5L387.9,555.5L387.9,555.5L387.1,555.5L387.1,555.5L386.3,555.5L386.3,555.5L385.5,555.5L385.5,555.5L384.7,555.5L384.7,555.5L383.9,555.5L383.9,555.5L383.1,555.5L383.1,555.5L382.3,555.5L382.3,555.5L381.5,555.5L381.5,555.5L380.7,555.5L380.7,555.5L379.9,555.5L379.9,555.5L379.1,555.5L379.1,555.5L378.3,555.5L378.3,561.6L377.5,561.6L377.5,559.5L376.7,559.5L376.7,560.1L375.9,560.1L375.9,561.7L375.1,561.7L375.1,562.2L374.3,562.2L374.3,564.1L373.5,564.1L373.5,562.7L372.7,562.7L372.7,562.7L371.9,562.7L371.9,563.0L371.1,563.0L371.1,560.9L370.3,560.9L370.3,562.5L369.5,562.5L369.5,556.4L368.7,556.4L368.7,556.4L367.9,556.4L367.9,555.7L367.1,555.7L367.1,555.6L366.3,555.6L366.3,555.7L365.5,555.7L365.5,556.3L364.7,556.3L364.7,555.8L363.9,555.8L363.9,556.0L363.1,556.0L363.1,555.9L362.3,555.9L362.3,556.1L361.5,556.1L361.5,555.6L360.7,555.6L360.7,560.4L359.9,560.4L359.9,559.2L359.1,559.2L359.1,560.5L358.3,560.5L358.3,558.2L357.5,558.2L357.5,558.8L356.7,558.8L356.7,558.1L355.9,558.1L355.9,555.8L355.1,555.8L355.1,555.8L354.3,555.8L354.3,555.8L353.5,555.8L353.5,555.6L352.7,555.6L352.7,555.7L351.9,555.7L351.9,556.0L351.1,556.0L351.1,555.7L350.3,555.7L350.3,555.5L349.5,555.5L349.5,555.9L348.7,555.9L348.7,555.5L347.9,555.5L347.9,555.9L347.1,555.9L347.1,555.6L346.3,555.6L346.3,555.7L345.5,555.7L345.5,555.9L344.7,555.9L344.7,555.9L343.9,555.9L343.9,555.5L343.1,555.5L343.1,555.9L342.3,555.9L342.3,555.5L341.5,555.5L341.5,555.6L340.7,555.6L340.7,555.5L339.9,555.5L339.9,560.6L339.1,560.6L339.1,562.0L338.3,562.0L338.3,560.2L337.5,560.2L337.5,558.1L336.7,558.1L336.7,558.1L335.9,558.1L335.9,559.3L335.1,559.3L335.1,562.2L334.3,562.2L334.3,564.2L333.5,564.2L333.5,565.1L332.7,565.1L332.7,562.6L331.9,562.6L331.9,563.7L331.1,563.7L331.1,562.5L330.3,562.5L330.3,564.2L329.5,564.2L329.5,564.3L328.7,564.3L328.7,565.2L327.9,565.2L327.9,561.4L327.1,561.4L327.1,563.0L326.3,563.0L326.3,562.1L325.5,562.1L325.5,560.3L324.7,560.3L324.7,560.8L323.9,560.8L323.9,561.4L323.1,561.4L323.1,561.3L322.3,561.3L322.3,562.3L321.5,562.3L321.5,561.9L320.7,561.9L320.7,560.8L319.9,560.8L319.9,561.4L319.1,561.4L319.1,558.8L318.3,558.8L318.3,561.7L317.5,561.7L317.5,560.3L316.7,560.3L316.7,562.0L315.9,562.0L315.9,565.1L315.1,565.1L315.1,564.9L314.3,564.9L314.3,564.3L313.5,564.3L313.5,566.1L312.7,566.1L312.7,558.8L311.9,558.8L311.9,558.8L311.1,558.8L311.1,561.8L310.3,561.8L310.3,563.0L309.5,563.0L309.5,562.2L308.7,562.2L308.7,562.7L307.9,562.7L307.9,558.2L307.1,558.2L307.1,556.6L306.3,556.6L306.3,557.2L305.5,557.2L305.5,556.4L304.7,556.4L304.7,557.2L303.9,557.2L303.9,555.5L303.1,555.5L303.1,555.5L302.3,555.5L302.3,555.5L301.5,555.5L301.5,555.5L300.7,555.5L300.7,555.5L299.9,555.5L299.9,555.5L299.1,555.5L299.1,555.5L298.3,555.5L298.3,555.5L297.5,555.5L297.5,555.5L296.7,555.5L296.7,555.5L295.9,555.5L295.9,555.5L295.1,555.5L295.1,555.5L294.3,555.5L294.3,555.5L293.5,555.5L293.5,555.5L292.7,555.5L292.7,555.5L291.9,555.5L291.9,555.5L291.1,555.5L291.1,555.5L290.3,555.5L290.3,555.5L289.5,555.5L289.5,555.5L288.7,555.5L288.7,555.5L287.9,555.5L287.9,555.5L287.1,555.5L287.1,555.5L286.3,555.5L286.3,555.5L285.5,555.5L285.5,555.5L284.7,555.5L284.7,555.5L283.9,555.5L283.9,555.5L283.1,555.5L283.1,555.5L282.3,555.5L282.3,555.5L281.5,555.5L281.5,555.5L280.7,555.5L280.7,555.5L279.9,555.5L279.9,555.5L279.1,555.5L279.1,555.5L278.3,555.5L278.3,555.5L277.5,555.5L277.5,558.4L276.7,558.4L276.7,556.7L275.9,556.7L275.9,558.1L275.1,558.1L275.1,557.5L274.3,557.5L274.3,558.0L273.5,558.0L273.5,556.5L272.7,556.5L272.7,557.9L271.9,557.9L271.9,558.5L271.1,558.5L271.1,558.2L270.3,558.2L270.3,559.1L269.5,559.1L269.5,561.3L268.7,561.3L268.7,558.4L267.9,558.4L267.9,558.6L267.1,558.6L267.1,555.6L266.3,555.6L266.3,555.5L265.5,555.5L265.5,555.7L264.7,555.7L264.7,555.8L263.9,555.8L263.9,555.9L263.1,555.9L263.1,555.8L262.3,555.8L262.3,555.5L261.5,555.5L261.5,555.6L260.7,555.6L260.7,555.9L259.9,555.9L259.9,555.7L259.1,555.7L259.1,555.9L258.3,555.9L258.3,555.5L257.5,555.5L257.5,555.6L256.7,555.6L256.7,555.5L255.9,555.5L255.9,555.7L255.1,555.7L255.1,555.8L254.3,555.8L254.3,555.5L253.5,555.5L253.5,555.8L252.7,555.8L252.7,556.0L251.9,556.0L251.9,555.5L251.1,555.5L251.1,555.7L250.3,555.7L250.3,555.5L249.5,555.5L249.5,555.6L248.7,555.6L248.7,555.6L247.9,555.6L247.9,555.9L247.1,555.9L247.1,555.7L246.3,555.7L246.3,555.9L245.5,555.9L245.5,556.0L244.7,556.0L244.7,555.6L243.9,555.6L243.9,555.5L243.1,555.5L243.1,555.5L242.3,555.5L242.3,555.8L241.5,555.8L241.5,555.8L240.7,555.8L240.7,555.5L239.9,555.5L239.9,555.9L239.1,555.9L239.1,555.5L238.3,555.5L238.3,555.6L237.5,555.6L237.5,555.5L236.7,555.5L236.7,555.5L235.9,555.5L235.9,555.5L235.1,555.5L235.1,555.7L234.3,555.7L234.3,555.5L233.5,555.5L233.5,555.9L232.7,555.9L232.7,555.8L231.9,555.8L231.9,555.6L231.1,555.6L231.1,555.9L230.3,555.9L230.3,555.7L229.5,555.7L229.5,555.6L228.7,555.6L228.7,556.4L227.9,556.4L227.9,556.6L227.1,556.6L227.1,557.0L226.3,557.0L226.3,556.7L225.5,556.7L225.5,556.4L224.7,556.4L224.7,556.7L223.9,556.7L223.9,556.5L223.1,556.5L223.1,556.5L222.3,556.5L222.3,556.9L221.5,556.9L221.5,557.1L220.7,557.1L220.7,556.5L219.9,556.5L219.9,556.4L219.1,556.4L219.1,556.9L218.3,556.9L218.3,556.1L217.5,556.1L217.5,557.2L216.7,557.2L216.7,556.9L215.9,556.9L215.9,556.6L215.1,556.6L215.1,558.1L214.3,558.1L214.3,556.9L213.5,556.9L213.5,555.6L212.7,555.6L212.7,555.6L211.9,555.6L211.9,555.9L211.1,555.9L211.1,555.5L210.3,555.5L210.3,555.7L209.5,555.7L209.5,555.9L208.7,555.9L208.7,555.9L207.9,555.9L207.9,555.9L207.1,555.9L207.1,555.8L206.3,555.8L206.3,555.7L205.5,555.7L205.5,560.1L204.7,560.1L204.7,558.1L203.9,558.1L203.9,561.8L203.1,561.8L203.1,561.1L202.3,561.1L202.3,561.3L201.5,561.3L201.5,563.9L200.7,563.9L200.7,562.2L199.9,562.2L199.9,563.4L199.1,563.4L199.1,564.5L198.3,564.5L198.3,557.5L197.5,557.5L197.5,558.8L196.7,558.8L196.7,559.1L195.9,559.1L195.9,558.6L195.1,558.6L195.1,555.5L194.3,555.5L194.3,555.5L193.5,555.5L193.5,555.5L192.7,555.5L192.7,555.5L191.9,555.5L191.9,555.5L191.1,555.5L191.1,555.5L190.3,555.5L190.3,555.5L189.5,555.5L189.5,555.5L188.7,555.5L188.7,555.5L187.9,555.5L187.9,555.5L187.1,555.5L187.1,555.5L186.3,555.5L186.3,555.5L185.5,555.5L185.5,555.5L184.7,555.5L184.7,555.5L183.9,555.5L183.9,555.5L183.1,555.5L183.1,555.5L182.3,555.5L182.3,555.5L181.5,555.5L181.5,555.5L180.7,555.5L180.7,555.5L179.9,555.5L179.9,555.5L179.1,555.5L179.1,555.5L178.3,555.5L178.3,555.5L177.5,555.5L177.5,555.5L176.7,555.5L176.7,555.5L175.9,555.5L175.9,556.2L175.1,556.2L175.1,556.9L174.3,556.9L174.3,557.0L173.5,557.0L173.5,557.1L172.7,557.1L172.7,556.3L171.9,556.3L171.9,556.9L171.1,556.9L171.1,556.8L170.3,556.8L170.3,556.4L169.5,556.4L169.5,555.9L168.7,555.9L168.7,556.5L167.9,556.5L167.9,556.2L167.1,556.2L167.1,559.4L166.3,559.4L166.3,560.1L165.5,560.1L165.5,558.1L164.7,558.1L164.7,558.7L163.9,558.7L163.9,559.3L163.1,559.3L163.1,561.9L162.3,561.9L162.3,561.2L161.5,561.2L161.5,557.7L160.7,557.7L160.7,556.8L159.9,556.8L159.9,556.7L159.1,556.7L159.1,556.9L158.3,556.9L158.3,557.2L157.5,557.2L157.5,558.1L156.7,558.1L156.7,556.7L155.9,556.7L155.9,557.4L155.1,557.4L155.1,556.5L154.3,556.5L154.3,558.0L153.5,558.0L153.5,557.1L152.7,557.1L152.7,556.4L151.9,556.4L151.9,557.3L151.1,557.3L151.1,560.0L150.3,560.0L150.3,558.4L149.5,558.4L149.5,558.3L148.7,558.3L148.7,558.7L147.9,558.7L147.9,562.0L147.1,562.0L147.1,560.9L146.3,560.9L146.3,560.3L145.5,560.3L145.5,558.3L144.7,558.3L144.7,561.2L143.9,561.2L143.9,558.9L143.1,558.9L143.1,559.0L142.3,559.0L142.3,558.8L141.5,558.8L141.5,559.3L140.7,559.3L140.7,559.4L139.9,559.4L139.9,558.4L139.1,558.4L139.1,557.6L138.3,557.6L138.3,557.4L137.5,557.4L137.5,555.5L136.7,555.5L136.7,555.5L135.9,555.5L135.9,555.5L135.1,555.5L135.1,555.5L134.3,555.5L134.3,555.5L133.5,555.5L133.5,555.5L132.7,555.5L132.7,555.5L131.9,555.5L131.9,555.5L131.1,555.5L131.1,555.5L130.3,555.5L130.3,555.5L129.5,555.5L129.5,555.5L128.7,555.5L128.7,555.5L127.9,555.5L127.9,555.5L127.1,555.5L127.1,555.5L126.3,555.5L126.3,555.5L125.5,555.5L125.5,555.5L124.7,555.5L124.7,555.5L123.9,555.5L123.9,555.5L123.1,555.5L123.1,555.5L122.3,555.5L122.3,555.5L121.5,555.5L121.5,555.5L120.7,555.5L120.7,555.5L119.9,555.5L119.9,555.5L119.1,555.5L119.1,555.5L118.3,555.5L118.3,555.5L117.5,555.5L117.5,555.5L116.7,555.5L116.7,555.5L115.9,555.5L115.9,557.5L115.1,557.5L115.1,557.1L114.3,557.1L114.3,559.4L113.5,559.4L113.5,557.4L112.7,557.4L112.7,557.1L111.9,557.1L111.9,556.9L111.1,556.9L111.1,556.7L110.3,556.7L110.3,557.5L109.5,557.5L109.5,561.7L108.7,561.7L108.7,559.6L107.9,559.6L107.9,560.6L107.1,560.6L107.1,562.0L106.3,562.0L106.3,558.5L105.5,558.5L105.5,560.5L104.7,560.5L104.7,559.2L103.9,559.2L103.9,562.2L103.1,562.2L103.1,561.0L102.3,561.0L102.3,562.3L101.5,562.3L101.5,563.0L100.7,563.0L100.7,562.5L99.9,562.5L99.9,562.4L99.1,562.4L99.1,562.2L98.3,562.2L98.3,558.6L97.5,558.6L97.5,560.2L96.7,560.2L96.7,560.7L95.9,560.7L95.9,564.1L95.1,564.1L95.1,561.8L94.3,561.8L94.3,562.2L93.5,562.2L93.5,562.3L92.7,562.3L92.7,563.2L91.9,563.2L91.9,561.0L91.1,561.0L91.1,560.9L90.3,560.9L90.3,561.7L89.5,561.7Z" fill="#bcbcbc"/>
<text x="117.4" y="427.4" font-size="5.9" fill="#e03a48">1q24.1-q32.1</text>
<text x="180" y="427.4" font-size="5.9" fill="#e03a48">2q35</text>
<text x="226.2" y="427.4" font-size="5.9" fill="#e03a48">4p16.3</text>
<text x="272.1" y="427.4" font-size="5.9" fill="#e03a48">5q11.2</text>
<text x="293.9" y="427.4" font-size="5.9" fill="#e03a48">5q33.2</text>
<text x="316.1" y="427.4" font-size="5.9" fill="#e03a48">6p21.32</text>
<text x="407" y="427.4" font-size="5.9" fill="#e03a48">9p11.2</text>
<text x="485.5" y="427.4" font-size="5.9" fill="#e03a48">12q13.11-q23.3</text>
<text x="530.3" y="427.4" font-size="5.9" fill="#e03a48">14q12-q13.2</text>
<text x="566.9" y="427.4" font-size="5.9" fill="#e03a48">17p11.2</text>
<text x="590.7" y="427.4" font-size="5.9" fill="#e03a48">17q21.32-q25.3</text>
<text x="635.2" y="427.4" font-size="5.9" fill="#e03a48">20q13.11-q13.2</text>
<text x="297.8" y="434.6" font-size="5.9" fill="#e03a48">5q34</text>
<text x="533.8" y="434.6" font-size="5.9" fill="#e03a48">14q21.3-q22.3</text>
<text x="363.5" y="484.0" font-size="5.9" fill="#e03a48">7q32.1</text>
<text x="471.5" y="484.0" font-size="5.9" fill="#e03a48">11q21-q25</text>
<text x="540" y="484.0" font-size="5.9" fill="#e03a48">14q24.3</text>
<text x="564.5" y="484.0" font-size="5.9" fill="#e03a48">16p13.3-p12.3</text>
<text x="126.6" y="528.1" font-size="5.9" fill="#e03a48">1q32.1</text>
<text x="294" y="528.1" font-size="5.9" fill="#e03a48">5q31.3</text>
<text x="315.5" y="528.1" font-size="5.9" fill="#e03a48">6p21.2-p21.1</text>
<text x="359.9" y="528.1" font-size="5.9" fill="#e03a48">7q36.2</text>
<text x="388.6" y="528.1" font-size="5.9" fill="#e03a48">8q22.1-q22.3</text>
<text x="485.8" y="528.1" font-size="5.9" fill="#e03a48">12q13.13-q15</text>
<text x="531.7" y="528.1" font-size="5.9" fill="#e03a48">14q11.2</text>
<text x="565.9" y="528.1" font-size="5.9" fill="#e03a48">16q11.2</text>
<text x="590.3" y="528.1" font-size="5.9" fill="#e03a48">17q21.32-q25.1</text>
<text x="297.5" y="535.3" font-size="5.9" fill="#e03a48">5q33.1</text>
<text x="384" y="535.3" font-size="5.9" fill="#e03a48">8q21.11</text>
<text x="497.6" y="535.3" font-size="5.9" fill="#e03a48">12q21.31</text>
<text x="328.7" y="578.8" font-size="5.9" fill="#e03a48">6q22.31-q23.1</text>
<text x="371.9" y="578.8" font-size="5.9" fill="#e03a48">8p23.2-p23.1</text>
<text x="538.8" y="578.8" font-size="5.9" fill="#e03a48">14q24.3</text>
<text x="575.3" y="578.8" font-size="5.9" fill="#e03a48">16q22.1</text>
<text x="91.7" y="585.9" font-size="5.9" fill="#e03a48">1p36.21-p36.11</text>
<text x="197.5" y="585.9" font-size="5.9" fill="#e03a48">3p21.1-p14.3</text>
<text x="320.5" y="585.9" font-size="5.9" fill="#e03a48">6q15-q16.1</text>
<text x="375.9" y="585.9" font-size="5.9" fill="#e03a48">8p21.2-p12</text>
<text x="410" y="585.9" font-size="5.9" fill="#e03a48">9p24.3-p21.3</text>
<text x="468.8" y="585.9" font-size="5.9" fill="#e03a48">11q14.1-q25</text>
<text x="510.2" y="585.9" font-size="5.9" fill="#e03a48">13q12.3-q14.3</text>
<text x="551.1" y="585.9" font-size="5.9" fill="#e03a48">14q32.2</text>
<text x="578.2" y="585.9" font-size="5.9" fill="#e03a48">16q23.2</text>
<text x="603.1" y="585.9" font-size="5.9" fill="#e03a48">16q24.1</text>
<circle cx="119.5" cy="443.3" r="2" fill="#ee0a0a"/>
<circle cx="121" cy="442.8" r="2" fill="#ee0a0a"/>
<circle cx="122.5" cy="443.8" r="2" fill="#ee0a0a"/>
<circle cx="128" cy="443.1" r="1.5" fill="#ee0a0a"/>
<circle cx="181.8" cy="439.5" r="1.7" fill="#ee0a0a"/>
<circle cx="181.8" cy="442.5" r="1.7" fill="#ee0a0a"/>
<circle cx="227.5" cy="441.7" r="1.5" fill="#ee0a0a"/>
<circle cx="277.7" cy="440.8" r="1.5" fill="#ee0a0a"/>
<circle cx="310.9" cy="441.7" r="1.5" fill="#ee0a0a"/>
<circle cx="409.6" cy="442.9" r="2" fill="#ee0a0a"/>
<circle cx="492" cy="441.5" r="2.2" fill="#ee0a0a"/>
<circle cx="494.5" cy="439.5" r="2.2" fill="#ee0a0a"/>
<circle cx="495" cy="442" r="2.2" fill="#ee0a0a"/>
<circle cx="500" cy="442.5" r="2.2" fill="#ee0a0a"/>
<circle cx="491" cy="443.5" r="2" fill="#ee0a0a"/>
<circle cx="504" cy="442.5" r="2" fill="#ee0a0a"/>
<circle cx="498.5" cy="444.5" r="2" fill="#ee0a0a"/>
<circle cx="496" cy="437.8" r="1.8" fill="#ee0a0a"/>
<circle cx="501" cy="438.5" r="1.8" fill="#ee0a0a"/>
<circle cx="497" cy="440.5" r="2.2" fill="#ee0a0a"/>
<circle cx="499.5" cy="439" r="2.2" fill="#ee0a0a"/>
<circle cx="502" cy="441.5" r="2.2" fill="#ee0a0a"/>
<circle cx="503" cy="444" r="2" fill="#ee0a0a"/>
<circle cx="493" cy="444" r="2" fill="#ee0a0a"/>
<circle cx="497.5" cy="443" r="2" fill="#ee0a0a"/>
<circle cx="473.5" cy="473.5" r="2.2" fill="#ee0a0a"/>
<circle cx="476" cy="474" r="2.2" fill="#ee0a0a"/>
<circle cx="478.5" cy="473" r="2.2" fill="#ee0a0a"/>
<circle cx="481" cy="472.5" r="2" fill="#ee0a0a"/>
<circle cx="475" cy="475.5" r="2" fill="#ee0a0a"/>
<circle cx="364.7" cy="472.3" r="1.2" fill="#ee0a0a"/>
<circle cx="531.5" cy="442.5" r="1.5" fill="#ee0a0a"/>
<circle cx="535" cy="439" r="2" fill="#ee0a0a"/>
<circle cx="535.5" cy="442" r="2" fill="#ee0a0a"/>
<circle cx="536" cy="444" r="1.8" fill="#ee0a0a"/>
<circle cx="547.7" cy="443.5" r="1.5" fill="#ee0a0a"/>
<circle cx="566.5" cy="441" r="1.8" fill="#ee0a0a"/>
<circle cx="568.5" cy="443" r="1.8" fill="#ee0a0a"/>
<circle cx="591" cy="442.5" r="2" fill="#ee0a0a"/>
<circle cx="593.5" cy="441" r="2" fill="#ee0a0a"/>
<circle cx="596" cy="441.5" r="2" fill="#ee0a0a"/>
<circle cx="597.5" cy="443" r="1.8" fill="#ee0a0a"/>
<circle cx="593" cy="437.5" r="1.6" fill="#ee0a0a"/>
<circle cx="595" cy="435" r="1.5" fill="#ee0a0a"/>
<circle cx="594.5" cy="433.5" r="1.2" fill="#ee0a0a"/>
<circle cx="634.5" cy="442.5" r="1.8" fill="#ee0a0a"/>
<circle cx="636.5" cy="441.5" r="1.8" fill="#ee0a0a"/>
<circle cx="541.2" cy="472.8" r="1.2" fill="#ee0a0a"/>
<circle cx="92.5" cy="565.3" r="1.6" fill="#ee0a0a"/>
<circle cx="94.5" cy="565.3" r="1.6" fill="#ee0a0a"/>
<circle cx="127.5" cy="543.9" r="1.8" fill="#ee0a0a"/>
<circle cx="198.1" cy="565" r="1.5" fill="#ee0a0a"/>
<circle cx="312.5" cy="565" r="1.6" fill="#ee0a0a"/>
<circle cx="322.5" cy="565" r="1.8" fill="#ee0a0a"/>
<circle cx="324.5" cy="565.5" r="1.8" fill="#ee0a0a"/>
<circle cx="330" cy="565.7" r="1.8" fill="#ee0a0a"/>
<circle cx="370.5" cy="565.3" r="1.8" fill="#ee0a0a"/>
<circle cx="373" cy="565.3" r="1.8" fill="#ee0a0a"/>
<circle cx="375.5" cy="565.3" r="1.8" fill="#ee0a0a"/>
<circle cx="378" cy="565.3" r="1.6" fill="#ee0a0a"/>
<circle cx="388" cy="541" r="2" fill="#ee0a0a"/>
<circle cx="391" cy="541" r="2" fill="#ee0a0a"/>
<circle cx="392.5" cy="542.5" r="2" fill="#ee0a0a"/>
<circle cx="387.5" cy="543.5" r="2" fill="#ee0a0a"/>
<circle cx="390" cy="543.5" r="2" fill="#ee0a0a"/>
<circle cx="401.5" cy="565.3" r="2.2" fill="#ee0a0a"/>
<circle cx="404" cy="565.3" r="2.2" fill="#ee0a0a"/>
<circle cx="406" cy="565.5" r="2" fill="#ee0a0a"/>
<circle cx="472.5" cy="566" r="2.3" fill="#ee0a0a"/>
<circle cx="475.5" cy="567" r="2.5" fill="#ee0a0a"/>
<circle cx="478.5" cy="567.5" r="2.5" fill="#ee0a0a"/>
<circle cx="481" cy="566" r="2.2" fill="#ee0a0a"/>
<circle cx="476" cy="569" r="2.3" fill="#ee0a0a"/>
<circle cx="479.5" cy="569.5" r="2.2" fill="#ee0a0a"/>
<circle cx="492" cy="543.5" r="1.8" fill="#ee0a0a"/>
<circle cx="494.5" cy="542.5" r="1.8" fill="#ee0a0a"/>
<circle cx="496.5" cy="542" r="1.8" fill="#ee0a0a"/>
<circle cx="499" cy="544" r="1.8" fill="#ee0a0a"/>
<circle cx="512.5" cy="566" r="2.2" fill="#ee0a0a"/>
<circle cx="514.5" cy="567.5" r="2.2" fill="#ee0a0a"/>
<circle cx="515.5" cy="569" r="2" fill="#ee0a0a"/>
<circle cx="529.9" cy="542" r="1.8" fill="#ee0a0a"/>
<circle cx="529.9" cy="545" r="1.8" fill="#ee0a0a"/>
<circle cx="541.2" cy="565" r="1.2" fill="#ee0a0a"/>
<circle cx="545.6" cy="565" r="1.2" fill="#ee0a0a"/>
<circle cx="547.8" cy="543.4" r="1.6" fill="#ee0a0a"/>
<circle cx="572.4" cy="541.7" r="1.5" fill="#ee0a0a"/>
<circle cx="576.5" cy="565.5" r="1.3" fill="#ee0a0a"/>
<circle cx="579" cy="566" r="1.8" fill="#ee0a0a"/>
<circle cx="580" cy="565.3" r="1.8" fill="#ee0a0a"/>
<circle cx="592" cy="543.5" r="2.3" fill="#ee0a0a"/>
<circle cx="594.5" cy="543.5" r="2.5" fill="#ee0a0a"/>
<circle cx="597" cy="543.5" r="2.3" fill="#ee0a0a"/>
<circle cx="593.5" cy="540.5" r="2.3" fill="#ee0a0a"/>
<circle cx="596" cy="540.5" r="2.3" fill="#ee0a0a"/>
<circle cx="594.5" cy="538" r="2" fill="#ee0a0a"/>
<circle cx="595" cy="537" r="1.6" fill="#ee0a0a"/>
<circle cx="298.5" cy="444" r="1.3" fill="none" stroke="#ee0a0a" stroke-width="0.9"/>
<circle cx="301" cy="444" r="1.3" fill="none" stroke="#ee0a0a" stroke-width="0.9"/>
<circle cx="586.1" cy="443.5" r="1.3" fill="none" stroke="#ee0a0a" stroke-width="0.9"/>
<circle cx="295.5" cy="543.4" r="1.2" fill="none" stroke="#ee0a0a" stroke-width="0.9"/>
<circle cx="298" cy="543.4" r="1.2" fill="none" stroke="#ee0a0a" stroke-width="0.9"/>
<circle cx="386" cy="543.5" r="1.1" fill="none" stroke="#ee0a0a" stroke-width="0.9"/>
<circle cx="576.5" cy="565.5" r="1.1" fill="none" stroke="#ee0a0a" stroke-width="0.9"/>
</svg></body></html>
